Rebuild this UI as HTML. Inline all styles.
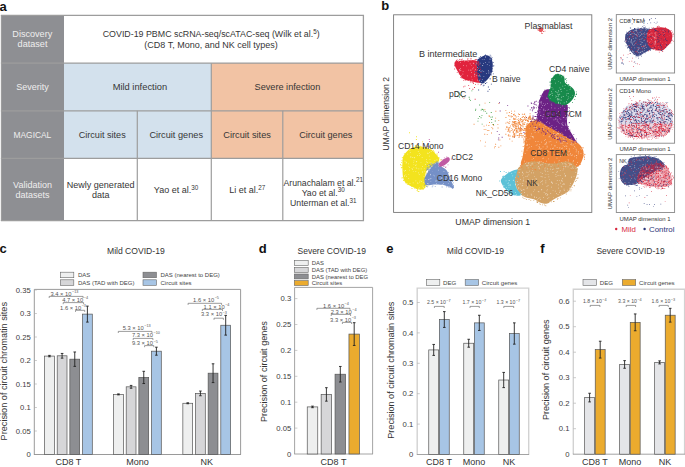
<!DOCTYPE html>
<html><head><meta charset="utf-8"><style>
html,body{margin:0;padding:0;background:#fff;width:685px;height:467px;overflow:hidden}
svg{display:block}
text{font-family:"Liberation Sans",sans-serif}
</style></head><body>
<svg width="685" height="467" viewBox="0 0 685 467">
<rect width="685" height="467" fill="#fff"/>
<text x="-0.6" y="10.7" font-size="13" fill="#111" font-weight="bold">a</text>
<text x="381.3" y="10.3" font-size="13" fill="#111" font-weight="bold">b</text>
<text x="-0.4" y="253" font-size="13" fill="#111" font-weight="bold">c</text>
<text x="258.7" y="252.6" font-size="13" fill="#111" font-weight="bold">d</text>
<text x="386.3" y="253.1" font-size="13" fill="#111" font-weight="bold">e</text>
<text x="540.3" y="253" font-size="13" fill="#111" font-weight="bold">f</text>
<rect x="1" y="15" width="63" height="206" fill="#8e8f93"/>
<rect x="64" y="63" width="147" height="48" fill="#d3e1ed"/>
<rect x="211" y="63" width="153" height="48" fill="#f2c3a4"/>
<rect x="64" y="111" width="147" height="47" fill="#d3e1ed"/>
<rect x="211" y="111" width="153" height="47" fill="#f2c3a4"/>
<line x1="0.9" y1="15.3" x2="364" y2="15.3" stroke="#9d9d9d" stroke-width="1.3"/>
<line x1="0.9" y1="63.2" x2="364" y2="63.2" stroke="#9d9d9d" stroke-width="1.3"/>
<line x1="0.9" y1="110.8" x2="364" y2="110.8" stroke="#9d9d9d" stroke-width="1.3"/>
<line x1="0.9" y1="158.3" x2="364" y2="158.3" stroke="#9d9d9d" stroke-width="1.3"/>
<line x1="0.9" y1="220.6" x2="364" y2="220.6" stroke="#9d9d9d" stroke-width="1.3"/>
<line x1="1.4" y1="15" x2="1.4" y2="221" stroke="#9d9d9d" stroke-width="1.1"/>
<line x1="363.4" y1="15" x2="363.4" y2="221" stroke="#9d9d9d" stroke-width="1.3"/>
<line x1="137.3" y1="110.8" x2="137.3" y2="221" stroke="#9d9d9d" stroke-width="1.2"/>
<line x1="211.3" y1="63.2" x2="211.3" y2="221" stroke="#9d9d9d" stroke-width="1.2"/>
<line x1="282.8" y1="110.8" x2="282.8" y2="221" stroke="#9d9d9d" stroke-width="1.2"/>
<text x="32.3" y="37.1" font-size="9.1" text-anchor="middle" fill="#eeeeee">Discovery</text>
<text x="32.5" y="46.9" font-size="9.1" text-anchor="middle" fill="#eeeeee">dataset</text>
<text x="32.5" y="90.1" font-size="9" text-anchor="middle" fill="#eeeeee">Severity</text>
<text x="32.4" y="137.8" font-size="9" text-anchor="middle" fill="#eeeeee" textLength="37.8" lengthAdjust="spacingAndGlyphs">MAGICAL</text>
<text x="32.5" y="187.6" font-size="9" text-anchor="middle" fill="#eeeeee">Validation</text>
<text x="32.5" y="197.7" font-size="9" text-anchor="middle" fill="#eeeeee">datasets</text>
<text x="211.2" y="37.3" font-size="8.85" text-anchor="middle" fill="#363636">COVID-19 PBMC scRNA-seq/scATAC-seq (Wilk et al.<tspan dy="-3.4" font-size="6.3">5</tspan><tspan dy="3.4">)</tspan></text>
<text x="211" y="47.6" font-size="9" text-anchor="middle" fill="#363636">(CD8 T, Mono, and NK cell types)</text>
<text x="139.9" y="90.1" font-size="9.2" text-anchor="middle" fill="#363636" textLength="54.4" lengthAdjust="spacingAndGlyphs">Mild infection</text>
<text x="287.4" y="90.1" font-size="9.2" text-anchor="middle" fill="#363636" textLength="65.7" lengthAdjust="spacingAndGlyphs">Severe infection</text>
<text x="102.2" y="137.8" font-size="9.1" text-anchor="middle" fill="#363636" textLength="47" lengthAdjust="spacingAndGlyphs">Circuit sites</text>
<text x="176.2" y="137.8" font-size="9.1" text-anchor="middle" fill="#363636" textLength="53.6" lengthAdjust="spacingAndGlyphs">Circuit genes</text>
<text x="247.1" y="137.8" font-size="9.1" text-anchor="middle" fill="#363636" textLength="47.6" lengthAdjust="spacingAndGlyphs">Circuit sites</text>
<text x="325.8" y="137.8" font-size="9.1" text-anchor="middle" fill="#363636" textLength="53.2" lengthAdjust="spacingAndGlyphs">Circuit genes</text>
<text x="100.6" y="187.6" font-size="9" text-anchor="middle" fill="#363636" textLength="67.8" lengthAdjust="spacingAndGlyphs">Newly generated</text>
<text x="100.7" y="197.7" font-size="9" text-anchor="middle" fill="#363636">data</text>
<text x="176" y="193" font-size="9" text-anchor="middle" fill="#363636">Yao et al.<tspan dy="-3.4" font-size="6.3">30</tspan></text>
<text x="247.2" y="193" font-size="9" text-anchor="middle" fill="#363636">Li et al.<tspan dy="-3.4" font-size="6.3">27</tspan></text>
<text x="323.2" y="185.6" font-size="8.7" text-anchor="middle" fill="#363636">Arunachalam et al.<tspan dy="-3.4" font-size="6.3">21</tspan></text>
<text x="323.2" y="195.5" font-size="8.7" text-anchor="middle" fill="#363636">Yao et al.<tspan dy="-3.4" font-size="6.3">30</tspan></text>
<text x="323.3" y="205.9" font-size="8.7" text-anchor="middle" fill="#363636">Unterman et al.<tspan dy="-3.4" font-size="6.3">31</tspan></text>
<path d="M517.8 116.2h0.9v0.9h-0.9zM523.7 114.0h0.9v0.9h-0.9zM521.6 122.2h0.9v0.9h-0.9zM513.0 126.2h0.9v0.9h-0.9zM512.7 124.1h0.9v0.9h-0.9zM513.3 114.5h0.9v0.9h-0.9zM519.6 135.2h0.9v0.9h-0.9zM514.2 118.3h0.9v0.9h-0.9zM523.3 138.5h0.9v0.9h-0.9zM522.4 123.1h0.9v0.9h-0.9zM529.6 113.3h0.9v0.9h-0.9zM527.5 120.1h0.9v0.9h-0.9zM514.6 115.3h0.9v0.9h-0.9zM517.6 134.9h0.9v0.9h-0.9zM515.3 128.3h0.9v0.9h-0.9zM523.5 122.4h0.9v0.9h-0.9zM521.9 113.8h0.9v0.9h-0.9zM513.1 117.8h0.9v0.9h-0.9zM524.2 124.0h0.9v0.9h-0.9zM517.7 128.4h0.9v0.9h-0.9zM520.2 120.4h0.9v0.9h-0.9zM526.3 131.6h0.9v0.9h-0.9zM516.4 128.1h0.9v0.9h-0.9zM521.5 136.5h0.9v0.9h-0.9zM525.1 120.1h0.9v0.9h-0.9zM529.6 115.3h0.9v0.9h-0.9zM519.5 133.2h0.9v0.9h-0.9zM514.7 125.7h0.9v0.9h-0.9zM512.7 130.7h0.9v0.9h-0.9zM525.8 128.0h0.9v0.9h-0.9zM527.8 120.8h0.9v0.9h-0.9zM524.5 128.6h0.9v0.9h-0.9zM522.4 124.8h0.9v0.9h-0.9zM527.1 138.5h0.9v0.9h-0.9zM520.5 130.6h0.9v0.9h-0.9zM513.1 131.6h0.9v0.9h-0.9zM523.6 139.8h0.9v0.9h-0.9zM526.8 120.0h0.9v0.9h-0.9zM518.9 130.7h0.9v0.9h-0.9zM512.4 124.9h0.9v0.9h-0.9zM515.0 115.3h0.9v0.9h-0.9zM513.1 133.5h0.9v0.9h-0.9zM514.3 118.9h0.9v0.9h-0.9zM519.0 136.4h0.9v0.9h-0.9zM513.5 124.6h0.9v0.9h-0.9zM521.9 136.7h0.9v0.9h-0.9zM526.7 136.2h0.9v0.9h-0.9zM517.0 123.6h0.9v0.9h-0.9zM518.5 136.8h0.9v0.9h-0.9zM529.2 116.2h0.9v0.9h-0.9zM515.2 118.5h0.9v0.9h-0.9zM516.2 125.6h0.9v0.9h-0.9zM522.6 119.4h0.9v0.9h-0.9zM512.1 123.7h0.9v0.9h-0.9zM518.6 127.9h0.9v0.9h-0.9zM529.2 131.3h0.9v0.9h-0.9zM521.3 129.3h0.9v0.9h-0.9zM524.2 113.5h0.9v0.9h-0.9zM528.2 133.8h0.9v0.9h-0.9zM527.7 134.3h0.9v0.9h-0.9zM519.1 123.2h0.9v0.9h-0.9zM513.9 129.8h0.9v0.9h-0.9zM513.1 113.9h0.9v0.9h-0.9zM515.8 116.5h0.9v0.9h-0.9zM518.1 113.5h0.9v0.9h-0.9zM512.0 116.2h0.9v0.9h-0.9zM513.8 122.2h0.9v0.9h-0.9zM512.5 136.5h0.9v0.9h-0.9zM523.1 116.2h0.9v0.9h-0.9zM516.5 121.7h0.9v0.9h-0.9z" fill="#f0863a"/>
<path d="M511.2 113.1h0.9v0.9h-0.9zM519.4 134.8h0.9v0.9h-0.9zM512.9 122.1h0.9v0.9h-0.9zM506.5 112.6h0.9v0.9h-0.9zM510.8 116.6h0.9v0.9h-0.9zM519.1 114.0h0.9v0.9h-0.9zM505.4 133.8h0.9v0.9h-0.9zM514.0 113.7h0.9v0.9h-0.9zM514.2 110.7h0.9v0.9h-0.9zM514.0 134.5h0.9v0.9h-0.9zM519.7 127.4h0.9v0.9h-0.9zM509.4 119.2h0.9v0.9h-0.9zM507.8 129.3h0.9v0.9h-0.9zM514.1 129.5h0.9v0.9h-0.9zM510.6 115.6h0.9v0.9h-0.9zM518.8 134.6h0.9v0.9h-0.9zM519.5 130.2h0.9v0.9h-0.9zM518.9 128.5h0.9v0.9h-0.9zM508.9 122.9h0.9v0.9h-0.9zM511.0 110.7h0.9v0.9h-0.9zM505.5 117.0h0.9v0.9h-0.9zM509.4 127.3h0.9v0.9h-0.9zM521.3 121.2h0.9v0.9h-0.9zM520.9 134.7h0.9v0.9h-0.9zM521.2 119.1h0.9v0.9h-0.9zM508.7 115.7h0.9v0.9h-0.9zM508.3 115.1h0.9v0.9h-0.9zM515.6 132.5h0.9v0.9h-0.9zM519.3 122.0h0.9v0.9h-0.9zM516.1 130.0h0.9v0.9h-0.9zM506.4 126.5h0.9v0.9h-0.9zM520.5 129.6h0.9v0.9h-0.9zM517.8 122.0h0.9v0.9h-0.9zM508.0 129.7h0.9v0.9h-0.9zM510.7 130.0h0.9v0.9h-0.9z" fill="#f0863a"/>
<path d="M514.0 121.0h0.9v0.9h-0.9zM494.0 147.4h0.9v0.9h-0.9zM505.4 110.2h0.9v0.9h-0.9zM484.4 109.3h0.9v0.9h-0.9zM511.7 140.7h0.9v0.9h-0.9zM485.1 141.7h0.9v0.9h-0.9zM514.3 133.5h0.9v0.9h-0.9zM492.3 128.3h0.9v0.9h-0.9zM484.6 102.7h0.9v0.9h-0.9zM514.0 133.2h0.9v0.9h-0.9zM498.4 146.8h0.9v0.9h-0.9zM495.2 143.8h0.9v0.9h-0.9zM508.9 112.1h0.9v0.9h-0.9zM488.8 116.1h0.9v0.9h-0.9zM488.4 130.1h0.9v0.9h-0.9zM489.1 122.1h0.9v0.9h-0.9zM484.6 145.7h0.9v0.9h-0.9zM492.4 124.0h0.9v0.9h-0.9zM500.4 145.4h0.9v0.9h-0.9zM494.7 146.1h0.9v0.9h-0.9zM497.6 127.5h0.9v0.9h-0.9zM498.3 102.9h0.9v0.9h-0.9zM495.4 110.8h0.9v0.9h-0.9zM480.1 140.4h0.9v0.9h-0.9zM486.0 124.7h0.9v0.9h-0.9zM505.4 128.7h0.9v0.9h-0.9zM491.4 126.9h0.9v0.9h-0.9zM499.4 139.6h0.9v0.9h-0.9zM483.7 128.9h0.9v0.9h-0.9zM488.7 115.3h0.9v0.9h-0.9z" fill="#f0863a"/>
<path d="M493.2 125.2h0.9v0.9h-0.9zM486.9 130.2h0.9v0.9h-0.9zM497.4 123.9h0.9v0.9h-0.9zM488.4 125.1h0.9v0.9h-0.9zM485.4 128.9h0.9v0.9h-0.9zM483.6 125.7h0.9v0.9h-0.9zM484.3 133.8h0.9v0.9h-0.9zM491.0 132.5h0.9v0.9h-0.9zM498.3 120.2h0.9v0.9h-0.9zM486.8 133.9h0.9v0.9h-0.9zM495.2 117.7h0.9v0.9h-0.9zM473.6 123.8h0.9v0.9h-0.9z" fill="#f0863a"/>
<path d="M479.2 104.5h0.9v0.9h-0.9zM479.2 116.1h0.9v0.9h-0.9zM491.3 122.2h0.9v0.9h-0.9zM480.6 117.3h0.9v0.9h-0.9zM489.2 101.9h0.9v0.9h-0.9zM493.0 124.1h0.9v0.9h-0.9zM481.7 123.7h0.9v0.9h-0.9zM484.8 111.2h0.9v0.9h-0.9zM494.8 120.5h0.9v0.9h-0.9zM480.7 109.7h0.9v0.9h-0.9z" fill="#3f9f45"/>
<path d="M468.7 96.8h0.9v0.9h-0.9zM464.5 96.4h0.9v0.9h-0.9zM471.4 90.4h0.9v0.9h-0.9zM469.2 98.8h0.9v0.9h-0.9zM462.2 96.6h0.9v0.9h-0.9zM470.1 100.2h0.9v0.9h-0.9z" fill="#3f9f45"/>
<path d="M497.9 139.4h0.9v0.9h-0.9zM530.5 138.9h0.9v0.9h-0.9zM499.7 110.6h0.9v0.9h-0.9zM496.8 131.2h0.9v0.9h-0.9zM507.2 105.2h0.9v0.9h-0.9zM514.0 136.5h0.9v0.9h-0.9zM531.9 110.3h0.9v0.9h-0.9zM501.7 136.8h0.9v0.9h-0.9zM520.7 128.0h0.9v0.9h-0.9zM499.0 102.3h0.9v0.9h-0.9zM526.0 117.0h0.9v0.9h-0.9zM498.3 137.5h0.9v0.9h-0.9zM523.5 132.1h0.9v0.9h-0.9zM498.8 134.2h0.9v0.9h-0.9z" fill="#6c2285"/>
<path d="M463.5 97.7h0.9v0.9h-0.9zM472.4 88.8h0.9v0.9h-0.9zM474.7 98.8h0.9v0.9h-0.9zM468.2 85.2h0.9v0.9h-0.9zM474.1 87.1h0.9v0.9h-0.9zM464.5 85.7h0.9v0.9h-0.9zM463.2 86.4h0.9v0.9h-0.9zM469.2 88.2h0.9v0.9h-0.9z" fill="#e1233d"/>
<path d="M487.9 86.6h0.9v0.9h-0.9zM483.5 84.8h0.9v0.9h-0.9zM480.9 82.3h0.9v0.9h-0.9zM479.3 82.2h0.9v0.9h-0.9zM487.5 90.8h0.9v0.9h-0.9zM478.2 89.6h0.9v0.9h-0.9zM490.9 83.7h0.9v0.9h-0.9zM488.9 88.9h0.9v0.9h-0.9z" fill="#27397f"/>
<path d="M417.9 145.0h0.9v0.9h-0.9zM415.9 139.1h0.9v0.9h-0.9zM421.8 147.7h0.9v0.9h-0.9zM414.9 145.0h0.9v0.9h-0.9zM422.1 141.4h0.9v0.9h-0.9zM416.1 136.3h0.9v0.9h-0.9zM409.1 132.3h0.9v0.9h-0.9zM409.4 143.3h0.9v0.9h-0.9z" fill="#f3e31e"/>
<path d="M428.8 139.1h0.9v0.9h-0.9zM426.3 156.0h0.9v0.9h-0.9zM438.1 151.8h0.9v0.9h-0.9zM429.2 141.1h0.9v0.9h-0.9zM429.4 146.5h0.9v0.9h-0.9zM427.4 146.1h0.9v0.9h-0.9z" fill="#c05aa2"/>
<path d="M503.2 175.7h0.9v0.9h-0.9zM511.7 172.4h0.9v0.9h-0.9zM502.9 175.7h0.9v0.9h-0.9zM503.7 170.9h0.9v0.9h-0.9zM500.0 171.1h0.9v0.9h-0.9zM505.7 172.0h0.9v0.9h-0.9z" fill="#5cc1d7"/>
<path d="M538.6,28.6C538.9,27.9 540.2,27.6 541.0,27.6C541.8,27.6 543.2,28.2 543.4,28.8C543.6,29.4 542.9,31.0 542.3,31.5C541.6,32.0 540.1,32.3 539.5,31.8C538.9,31.3 538.4,29.3 538.6,28.6Z" fill="#e8555a"/>
<path d="M538.2 29.7h0.8v0.8h-0.8zM537.2 28.8h0.8v0.8h-0.8zM539.2 27.4h0.8v0.8h-0.8zM543.3 31.1h0.8v0.8h-0.8zM543.1 30.9h0.8v0.8h-0.8zM544.6 30.8h0.8v0.8h-0.8zM537.7 29.9h0.8v0.8h-0.8zM541.0 32.6h0.8v0.8h-0.8zM541.8 33.1h0.8v0.8h-0.8z" fill="#e8555a"/>
<path d="M454.6,62.7C454.9,61.8 454.8,61.5 456.8,61.1C458.8,60.7 463.1,60.5 466.4,60.4C469.7,60.3 474.3,59.9 476.5,60.8C478.7,61.7 478.8,63.6 479.5,66.0C480.2,68.4 480.2,72.3 480.5,75.0C480.8,77.7 482.3,81.3 481.0,82.4C479.7,83.5 475.3,82.2 472.9,81.8C470.5,81.4 468.2,80.8 466.4,80.2C464.6,79.6 463.2,78.9 462.1,78.0C461.0,77.1 461.1,76.9 460.0,75.0C458.9,73.1 456.1,68.5 455.2,66.4C454.3,64.4 454.3,63.6 454.6,62.7Z" fill="#e1233d"/>
<path d="M459.5 59.0h0.8v0.8h-0.8zM467.5 58.3h0.8v0.8h-0.8zM472.7 59.9h0.8v0.8h-0.8zM454.7 65.2h0.8v0.8h-0.8zM475.2 84.0h0.8v0.8h-0.8zM472.2 60.2h0.8v0.8h-0.8zM469.9 58.5h0.8v0.8h-0.8zM454.3 65.3h0.8v0.8h-0.8zM479.9 63.5h0.8v0.8h-0.8zM477.7 83.8h0.8v0.8h-0.8zM458.9 73.6h0.8v0.8h-0.8zM456.8 72.0h0.8v0.8h-0.8zM467.4 58.9h0.8v0.8h-0.8zM478.2 61.4h0.8v0.8h-0.8zM480.9 77.0h0.8v0.8h-0.8zM480.2 65.9h0.8v0.8h-0.8zM460.9 59.5h0.8v0.8h-0.8zM471.8 82.3h0.8v0.8h-0.8zM481.4 72.7h0.8v0.8h-0.8zM474.6 59.5h0.8v0.8h-0.8zM461.2 59.5h0.8v0.8h-0.8zM461.6 77.7h0.8v0.8h-0.8zM480.3 84.5h0.8v0.8h-0.8zM458.3 60.6h0.8v0.8h-0.8zM462.9 60.6h0.8v0.8h-0.8zM469.9 81.6h0.8v0.8h-0.8zM454.3 65.5h0.8v0.8h-0.8zM479.0 63.9h0.8v0.8h-0.8zM481.8 80.6h0.8v0.8h-0.8zM481.4 77.3h0.8v0.8h-0.8zM455.9 60.1h0.8v0.8h-0.8zM470.9 58.5h0.8v0.8h-0.8zM481.9 75.2h0.8v0.8h-0.8zM482.0 76.8h0.8v0.8h-0.8zM461.9 58.8h0.8v0.8h-0.8zM473.0 82.6h0.8v0.8h-0.8zM459.4 59.1h0.8v0.8h-0.8zM472.9 83.2h0.8v0.8h-0.8zM456.8 59.6h0.8v0.8h-0.8zM454.3 68.6h0.8v0.8h-0.8zM481.1 66.9h0.8v0.8h-0.8zM475.4 59.0h0.8v0.8h-0.8zM463.4 79.9h0.8v0.8h-0.8zM465.1 79.6h0.8v0.8h-0.8zM476.0 59.3h0.8v0.8h-0.8zM480.7 65.0h0.8v0.8h-0.8zM481.9 74.5h0.8v0.8h-0.8zM460.5 77.1h0.8v0.8h-0.8zM480.6 74.9h0.8v0.8h-0.8z" fill="#e1233d"/>
<path d="M479.3,58.2C480.5,57.4 482.8,55.6 484.6,55.4C486.4,55.2 488.7,55.7 490.0,56.8C491.3,57.9 492.1,60.0 492.5,62.1C492.9,64.2 492.9,67.4 492.6,69.6C492.3,71.8 491.5,73.7 490.5,75.5C489.5,77.3 487.8,79.2 486.5,80.5C485.2,81.8 483.9,83.6 482.5,83.5C481.1,83.4 479.2,81.9 478.3,80.0C477.4,78.1 477.5,74.3 477.3,72.0C477.1,69.7 477.1,68.4 477.1,66.4C477.1,64.4 477.1,61.4 477.5,60.0C477.9,58.6 478.1,59.0 479.3,58.2Z" fill="#27397f"/>
<path d="M490.5 55.8h0.8v0.8h-0.8zM475.6 71.2h0.8v0.8h-0.8zM480.2 55.9h0.8v0.8h-0.8zM476.8 69.4h0.8v0.8h-0.8zM482.8 85.5h0.8v0.8h-0.8zM491.0 74.4h0.8v0.8h-0.8zM475.7 62.7h0.8v0.8h-0.8zM477.3 59.4h0.8v0.8h-0.8zM493.4 65.3h0.8v0.8h-0.8zM475.1 63.8h0.8v0.8h-0.8zM487.6 56.2h0.8v0.8h-0.8zM481.0 84.2h0.8v0.8h-0.8zM475.2 71.1h0.8v0.8h-0.8zM476.7 73.4h0.8v0.8h-0.8zM485.3 83.3h0.8v0.8h-0.8zM477.1 69.1h0.8v0.8h-0.8zM478.8 57.3h0.8v0.8h-0.8zM484.5 54.9h0.8v0.8h-0.8zM493.3 65.8h0.8v0.8h-0.8zM492.9 73.4h0.8v0.8h-0.8zM491.3 58.4h0.8v0.8h-0.8zM491.4 59.1h0.8v0.8h-0.8zM477.3 61.2h0.8v0.8h-0.8zM475.7 71.5h0.8v0.8h-0.8zM491.6 57.0h0.8v0.8h-0.8zM475.4 73.3h0.8v0.8h-0.8zM490.1 78.5h0.8v0.8h-0.8zM476.7 67.6h0.8v0.8h-0.8zM485.1 54.5h0.8v0.8h-0.8zM487.6 55.9h0.8v0.8h-0.8zM489.5 78.5h0.8v0.8h-0.8zM485.1 55.0h0.8v0.8h-0.8zM476.2 64.6h0.8v0.8h-0.8zM492.7 62.1h0.8v0.8h-0.8zM491.1 57.9h0.8v0.8h-0.8zM484.9 83.1h0.8v0.8h-0.8zM477.2 70.4h0.8v0.8h-0.8zM492.3 71.2h0.8v0.8h-0.8zM486.4 81.9h0.8v0.8h-0.8zM489.7 54.8h0.8v0.8h-0.8z" fill="#27397f"/>
<path d="M546.7,89.6C548.3,89.0 550.5,89.1 552.0,90.2C553.5,91.3 553.5,93.6 556.0,96.0C558.5,98.4 564.9,101.8 566.8,104.5C568.7,107.2 567.6,109.6 567.6,112.4C567.6,115.2 566.9,118.8 567.0,121.4C567.1,124.0 567.2,125.2 568.5,128.0C569.8,130.8 573.1,135.8 574.5,138.5C575.9,141.2 578.4,142.9 577.0,144.0C575.6,145.1 570.5,146.2 566.0,145.0C561.5,143.8 554.3,139.5 550.0,137.0C545.7,134.5 542.2,132.5 540.0,130.0C537.8,127.5 536.9,124.7 536.5,122.0C536.1,119.3 537.2,116.2 537.5,114.0C537.8,111.8 538.2,110.7 538.5,108.5C538.8,106.3 538.9,103.2 539.5,100.8C540.1,98.3 541.0,95.7 542.2,93.8C543.4,91.9 545.1,90.2 546.7,89.6Z" fill="#6c2285"/>
<path d="M557.3 141.0h0.8v0.8h-0.8zM560.8 99.6h0.8v0.8h-0.8zM573.4 134.2h0.8v0.8h-0.8zM536.3 119.2h0.8v0.8h-0.8zM534.9 120.3h0.8v0.8h-0.8zM567.8 115.2h0.8v0.8h-0.8zM567.6 114.5h0.8v0.8h-0.8zM544.7 89.7h0.8v0.8h-0.8zM566.3 103.3h0.8v0.8h-0.8zM567.8 106.9h0.8v0.8h-0.8zM564.2 145.9h0.8v0.8h-0.8zM539.1 99.7h0.8v0.8h-0.8zM535.7 112.1h0.8v0.8h-0.8zM568.5 145.9h0.8v0.8h-0.8zM549.9 137.1h0.8v0.8h-0.8zM568.1 126.0h0.8v0.8h-0.8zM569.0 122.0h0.8v0.8h-0.8zM557.7 97.0h0.8v0.8h-0.8zM539.1 99.7h0.8v0.8h-0.8zM551.7 89.4h0.8v0.8h-0.8zM569.2 110.6h0.8v0.8h-0.8zM536.0 119.9h0.8v0.8h-0.8zM576.0 138.5h0.8v0.8h-0.8zM544.8 133.8h0.8v0.8h-0.8zM554.0 140.2h0.8v0.8h-0.8zM535.6 123.9h0.8v0.8h-0.8zM560.9 143.5h0.8v0.8h-0.8zM563.2 100.1h0.8v0.8h-0.8zM553.5 140.5h0.8v0.8h-0.8zM569.3 112.9h0.8v0.8h-0.8zM571.1 145.0h0.8v0.8h-0.8zM545.7 89.7h0.8v0.8h-0.8zM563.1 144.6h0.8v0.8h-0.8zM544.3 89.7h0.8v0.8h-0.8zM569.6 129.8h0.8v0.8h-0.8zM544.3 90.8h0.8v0.8h-0.8zM538.7 104.7h0.8v0.8h-0.8zM566.9 105.0h0.8v0.8h-0.8zM542.4 133.5h0.8v0.8h-0.8zM543.4 91.3h0.8v0.8h-0.8zM539.7 130.1h0.8v0.8h-0.8zM535.1 123.2h0.8v0.8h-0.8zM569.2 107.6h0.8v0.8h-0.8zM536.7 118.3h0.8v0.8h-0.8zM577.3 143.3h0.8v0.8h-0.8zM558.6 142.7h0.8v0.8h-0.8zM558.3 96.3h0.8v0.8h-0.8zM539.9 95.3h0.8v0.8h-0.8zM537.1 110.6h0.8v0.8h-0.8zM539.2 100.9h0.8v0.8h-0.8zM568.4 115.8h0.8v0.8h-0.8zM569.5 129.8h0.8v0.8h-0.8zM568.7 122.4h0.8v0.8h-0.8zM571.1 146.6h0.8v0.8h-0.8z" fill="#6c2285"/>
<path d="M551.2,79.6C552.0,77.5 553.8,76.2 555.0,75.2C556.2,74.2 556.8,73.5 558.3,73.8C559.8,74.1 562.9,75.3 564.0,76.8C565.1,78.2 564.2,81.1 565.0,82.5C565.8,83.9 567.2,84.0 568.5,85.0C569.8,86.0 571.9,87.1 573.0,88.5C574.1,89.9 575.1,91.6 575.0,93.5C574.9,95.4 573.8,97.9 572.3,99.8C570.8,101.7 568.3,104.1 566.0,104.8C563.7,105.5 561.0,104.8 558.3,104.0C555.6,103.2 551.7,101.5 550.0,100.0C548.3,98.5 547.9,97.1 548.0,95.0C548.1,92.9 550.0,90.1 550.5,87.5C551.0,84.9 550.5,81.6 551.2,79.6Z" fill="#178a4b"/>
<path d="M551.7 78.1h0.8v0.8h-0.8zM568.3 84.1h0.8v0.8h-0.8zM564.1 105.6h0.8v0.8h-0.8zM555.7 103.4h0.8v0.8h-0.8zM564.7 105.6h0.8v0.8h-0.8zM561.4 105.2h0.8v0.8h-0.8zM563.4 75.7h0.8v0.8h-0.8zM549.7 100.8h0.8v0.8h-0.8zM557.6 105.5h0.8v0.8h-0.8zM564.9 79.1h0.8v0.8h-0.8zM551.4 101.7h0.8v0.8h-0.8zM555.1 73.9h0.8v0.8h-0.8zM574.3 99.0h0.8v0.8h-0.8zM550.0 81.4h0.8v0.8h-0.8zM546.7 95.7h0.8v0.8h-0.8zM565.5 78.0h0.8v0.8h-0.8zM550.9 78.6h0.8v0.8h-0.8zM565.8 78.0h0.8v0.8h-0.8zM549.3 99.6h0.8v0.8h-0.8zM554.6 74.8h0.8v0.8h-0.8zM575.0 96.1h0.8v0.8h-0.8zM547.5 96.3h0.8v0.8h-0.8zM576.2 94.2h0.8v0.8h-0.8zM555.2 102.9h0.8v0.8h-0.8zM549.4 81.8h0.8v0.8h-0.8zM548.4 97.0h0.8v0.8h-0.8zM549.2 88.9h0.8v0.8h-0.8zM574.7 94.4h0.8v0.8h-0.8zM566.3 80.5h0.8v0.8h-0.8zM553.5 76.5h0.8v0.8h-0.8zM550.7 82.2h0.8v0.8h-0.8zM559.7 105.9h0.8v0.8h-0.8zM572.2 101.9h0.8v0.8h-0.8zM576.0 93.5h0.8v0.8h-0.8zM566.1 82.2h0.8v0.8h-0.8zM553.8 75.0h0.8v0.8h-0.8zM549.3 89.8h0.8v0.8h-0.8zM575.9 91.5h0.8v0.8h-0.8zM549.7 84.8h0.8v0.8h-0.8z" fill="#178a4b"/>
<path d="M526.0,127.0C526.8,124.8 528.3,123.6 530.0,122.5C531.7,121.4 533.5,120.1 536.0,120.5C538.5,120.9 541.7,123.2 545.0,125.0C548.3,126.8 552.5,129.0 556.0,131.0C559.5,133.0 563.0,135.3 566.0,137.0C569.0,138.7 571.7,139.7 574.0,141.0C576.3,142.3 578.4,143.2 580.0,145.0C581.6,146.8 583.2,149.5 583.6,152.0C584.0,154.5 583.3,157.5 582.2,160.0C581.1,162.5 580.7,165.2 577.0,167.0C573.3,168.8 566.2,170.8 560.0,171.0C553.8,171.2 546.3,168.8 540.0,168.0C533.7,167.2 524.9,168.0 522.0,166.0C519.1,164.0 522.4,159.3 522.8,156.0C523.2,152.7 524.0,149.3 524.5,146.0C525.0,142.7 525.2,139.2 525.5,136.0C525.8,132.8 525.2,129.2 526.0,127.0Z" fill="#f0863a"/>
<path d="M568.5 170.3h0.8v0.8h-0.8zM551.2 127.0h0.8v0.8h-0.8zM575.6 139.9h0.8v0.8h-0.8zM524.8 136.4h0.8v0.8h-0.8zM534.1 167.4h0.8v0.8h-0.8zM554.7 170.8h0.8v0.8h-0.8zM523.8 136.8h0.8v0.8h-0.8zM530.9 121.9h0.8v0.8h-0.8zM525.1 128.1h0.8v0.8h-0.8zM558.1 172.5h0.8v0.8h-0.8zM524.3 144.9h0.8v0.8h-0.8zM536.8 119.6h0.8v0.8h-0.8zM568.2 171.2h0.8v0.8h-0.8zM523.6 141.0h0.8v0.8h-0.8zM522.8 152.7h0.8v0.8h-0.8zM559.3 132.4h0.8v0.8h-0.8zM570.9 138.2h0.8v0.8h-0.8zM523.8 145.9h0.8v0.8h-0.8zM523.8 149.3h0.8v0.8h-0.8zM542.2 168.7h0.8v0.8h-0.8zM522.7 146.2h0.8v0.8h-0.8zM565.6 136.1h0.8v0.8h-0.8zM558.9 172.9h0.8v0.8h-0.8zM564.5 136.0h0.8v0.8h-0.8zM537.3 168.2h0.8v0.8h-0.8zM583.9 157.4h0.8v0.8h-0.8zM541.5 122.2h0.8v0.8h-0.8zM521.5 150.8h0.8v0.8h-0.8zM575.2 141.1h0.8v0.8h-0.8zM533.1 121.2h0.8v0.8h-0.8zM549.8 169.6h0.8v0.8h-0.8zM523.6 142.1h0.8v0.8h-0.8zM536.8 168.0h0.8v0.8h-0.8zM581.8 147.2h0.8v0.8h-0.8zM525.6 126.0h0.8v0.8h-0.8zM559.3 171.4h0.8v0.8h-0.8zM542.5 170.1h0.8v0.8h-0.8zM539.5 122.1h0.8v0.8h-0.8zM558.0 131.1h0.8v0.8h-0.8zM583.5 155.2h0.8v0.8h-0.8zM574.5 169.7h0.8v0.8h-0.8zM583.2 147.5h0.8v0.8h-0.8zM525.6 133.2h0.8v0.8h-0.8zM544.7 169.3h0.8v0.8h-0.8zM549.1 170.9h0.8v0.8h-0.8zM562.1 133.7h0.8v0.8h-0.8zM584.4 153.9h0.8v0.8h-0.8zM540.4 121.2h0.8v0.8h-0.8zM533.3 168.2h0.8v0.8h-0.8zM543.7 168.7h0.8v0.8h-0.8zM561.4 132.6h0.8v0.8h-0.8zM543.1 169.9h0.8v0.8h-0.8zM562.4 171.4h0.8v0.8h-0.8zM524.2 141.0h0.8v0.8h-0.8zM564.4 171.8h0.8v0.8h-0.8zM523.7 142.8h0.8v0.8h-0.8zM521.8 161.0h0.8v0.8h-0.8zM584.0 159.3h0.8v0.8h-0.8zM523.9 129.6h0.8v0.8h-0.8zM520.7 165.7h0.8v0.8h-0.8zM526.5 124.2h0.8v0.8h-0.8zM528.3 124.3h0.8v0.8h-0.8zM566.7 170.2h0.8v0.8h-0.8zM524.5 136.1h0.8v0.8h-0.8zM529.2 168.2h0.8v0.8h-0.8zM535.7 169.4h0.8v0.8h-0.8zM584.0 157.3h0.8v0.8h-0.8zM519.9 165.0h0.8v0.8h-0.8zM543.1 123.5h0.8v0.8h-0.8zM559.8 172.0h0.8v0.8h-0.8zM580.0 164.3h0.8v0.8h-0.8zM584.5 154.2h0.8v0.8h-0.8zM565.3 171.4h0.8v0.8h-0.8zM525.7 130.0h0.8v0.8h-0.8zM538.8 168.1h0.8v0.8h-0.8zM521.6 156.2h0.8v0.8h-0.8zM583.4 153.6h0.8v0.8h-0.8zM539.9 121.8h0.8v0.8h-0.8zM583.8 156.0h0.8v0.8h-0.8zM520.8 165.1h0.8v0.8h-0.8zM535.3 119.9h0.8v0.8h-0.8zM526.0 124.8h0.8v0.8h-0.8zM551.4 127.8h0.8v0.8h-0.8z" fill="#f0863a"/>
<path d="M520.3,166.3C522.7,164.8 526.2,162.0 531.5,161.5C536.8,161.0 546.0,163.5 552.0,163.5C558.0,163.5 563.6,161.1 567.5,161.5C571.4,161.9 573.8,164.4 575.5,166.0C577.2,167.6 577.6,168.7 577.5,171.0C577.4,173.3 576.2,177.0 575.0,180.0C573.8,183.0 571.6,186.8 570.0,189.0C568.4,191.2 568.0,191.8 565.3,193.5C562.6,195.2 557.0,197.5 554.0,199.2C551.0,200.9 549.5,203.0 547.3,203.6C545.0,204.2 542.8,203.4 540.5,202.7C538.2,202.0 536.4,200.1 533.8,199.2C531.2,198.2 527.4,198.4 524.8,197.0C522.2,195.6 519.7,194.2 518.0,191.0C516.3,187.8 514.8,181.4 514.6,178.0C514.4,174.6 516.0,172.8 516.9,170.8C517.8,168.9 517.9,167.9 520.3,166.3Z" fill="#d3a265"/>
<path d="M517.2 169.6h0.8v0.8h-0.8zM514.0 181.2h0.8v0.8h-0.8zM522.2 196.7h0.8v0.8h-0.8zM573.1 163.1h0.8v0.8h-0.8zM545.5 205.4h0.8v0.8h-0.8zM513.9 176.7h0.8v0.8h-0.8zM523.3 197.8h0.8v0.8h-0.8zM572.1 161.9h0.8v0.8h-0.8zM556.9 199.3h0.8v0.8h-0.8zM575.8 178.3h0.8v0.8h-0.8zM577.2 168.3h0.8v0.8h-0.8zM576.9 168.9h0.8v0.8h-0.8zM539.9 204.0h0.8v0.8h-0.8zM577.7 166.2h0.8v0.8h-0.8zM523.3 163.5h0.8v0.8h-0.8zM553.8 201.2h0.8v0.8h-0.8zM516.1 187.6h0.8v0.8h-0.8zM531.1 161.0h0.8v0.8h-0.8zM515.8 172.7h0.8v0.8h-0.8zM544.2 203.8h0.8v0.8h-0.8zM553.2 201.1h0.8v0.8h-0.8zM534.4 160.5h0.8v0.8h-0.8zM533.4 199.9h0.8v0.8h-0.8zM514.7 186.8h0.8v0.8h-0.8zM573.7 184.9h0.8v0.8h-0.8zM536.7 202.3h0.8v0.8h-0.8zM553.0 201.3h0.8v0.8h-0.8zM575.9 179.9h0.8v0.8h-0.8zM518.1 168.3h0.8v0.8h-0.8zM542.0 204.5h0.8v0.8h-0.8zM523.8 162.7h0.8v0.8h-0.8zM514.2 174.3h0.8v0.8h-0.8zM536.9 200.9h0.8v0.8h-0.8zM536.8 201.8h0.8v0.8h-0.8zM516.3 171.6h0.8v0.8h-0.8zM558.2 160.9h0.8v0.8h-0.8zM571.7 187.2h0.8v0.8h-0.8zM574.0 185.4h0.8v0.8h-0.8zM539.9 203.9h0.8v0.8h-0.8zM551.0 201.5h0.8v0.8h-0.8zM537.3 202.1h0.8v0.8h-0.8zM539.4 203.5h0.8v0.8h-0.8zM558.1 161.8h0.8v0.8h-0.8zM514.6 181.5h0.8v0.8h-0.8zM575.0 181.3h0.8v0.8h-0.8zM577.5 177.2h0.8v0.8h-0.8zM570.5 190.4h0.8v0.8h-0.8zM568.7 190.4h0.8v0.8h-0.8zM577.6 173.9h0.8v0.8h-0.8zM524.5 198.0h0.8v0.8h-0.8zM530.4 200.2h0.8v0.8h-0.8zM577.4 178.1h0.8v0.8h-0.8zM559.3 162.4h0.8v0.8h-0.8zM519.8 194.0h0.8v0.8h-0.8zM536.6 201.2h0.8v0.8h-0.8zM557.5 198.1h0.8v0.8h-0.8zM524.6 162.5h0.8v0.8h-0.8zM525.8 163.4h0.8v0.8h-0.8zM518.6 193.1h0.8v0.8h-0.8zM570.6 188.9h0.8v0.8h-0.8zM560.1 197.4h0.8v0.8h-0.8zM536.7 160.8h0.8v0.8h-0.8zM565.9 193.6h0.8v0.8h-0.8zM513.8 177.4h0.8v0.8h-0.8zM525.9 199.1h0.8v0.8h-0.8zM534.1 161.0h0.8v0.8h-0.8zM536.8 201.3h0.8v0.8h-0.8zM528.6 199.1h0.8v0.8h-0.8zM537.8 161.1h0.8v0.8h-0.8zM544.6 205.2h0.8v0.8h-0.8z" fill="#d3a265"/>
<path d="M501.0,179.8C501.6,177.8 505.0,175.6 506.8,174.1C508.6,172.6 510.2,171.8 512.0,171.0C513.8,170.2 516.8,169.0 517.5,169.5C518.2,170.0 516.9,172.2 516.5,174.0C516.1,175.8 515.0,177.7 515.0,180.0C515.0,182.3 515.5,185.5 516.5,188.0C517.5,190.5 521.4,193.8 521.0,195.0C520.6,196.2 516.0,195.7 514.0,195.3C512.0,194.9 510.8,194.0 509.0,192.4C507.2,190.8 504.3,188.1 503.0,186.0C501.7,183.9 500.4,181.8 501.0,179.8Z" fill="#5cc1d7"/>
<path d="M515.9 182.9h0.8v0.8h-0.8zM507.9 193.3h0.8v0.8h-0.8zM508.6 172.2h0.8v0.8h-0.8zM503.0 186.8h0.8v0.8h-0.8zM502.1 176.6h0.8v0.8h-0.8zM516.6 175.4h0.8v0.8h-0.8zM502.7 176.1h0.8v0.8h-0.8zM520.9 193.6h0.8v0.8h-0.8zM518.2 175.8h0.8v0.8h-0.8zM516.7 174.2h0.8v0.8h-0.8zM515.9 181.3h0.8v0.8h-0.8zM505.7 189.8h0.8v0.8h-0.8zM515.8 179.3h0.8v0.8h-0.8zM507.5 173.6h0.8v0.8h-0.8zM507.4 191.8h0.8v0.8h-0.8zM517.8 176.1h0.8v0.8h-0.8zM519.9 191.0h0.8v0.8h-0.8zM508.3 171.8h0.8v0.8h-0.8zM517.5 184.5h0.8v0.8h-0.8zM517.9 176.6h0.8v0.8h-0.8zM516.5 174.2h0.8v0.8h-0.8zM499.3 180.6h0.8v0.8h-0.8z" fill="#5cc1d7"/>
<path d="M403.8,155.3C405.1,152.8 407.8,150.3 410.3,148.8C412.8,147.3 415.3,146.1 418.6,146.2C421.9,146.3 427.5,147.9 430.3,149.2C433.1,150.5 434.0,151.9 435.5,153.8C437.0,155.7 439.9,158.3 439.2,160.5C438.4,162.7 433.3,164.9 431.0,167.0C428.7,169.1 426.5,169.8 425.6,173.0C424.7,176.2 426.8,183.7 425.8,186.5C424.8,189.3 421.9,189.6 419.7,189.7C417.5,189.8 414.8,188.0 412.7,187.0C410.6,186.0 408.4,185.4 406.8,183.8C405.2,182.2 403.9,181.1 403.2,177.7C402.5,174.3 402.3,167.3 402.4,163.6C402.5,159.9 402.5,157.8 403.8,155.3Z" fill="#f3e31e"/>
<path d="M440.1 159.4h0.8v0.8h-0.8zM426.8 183.9h0.8v0.8h-0.8zM401.9 165.5h0.8v0.8h-0.8zM436.2 153.7h0.8v0.8h-0.8zM417.3 145.6h0.8v0.8h-0.8zM429.5 147.0h0.8v0.8h-0.8zM401.0 162.0h0.8v0.8h-0.8zM409.4 147.9h0.8v0.8h-0.8zM403.9 153.3h0.8v0.8h-0.8zM430.8 148.7h0.8v0.8h-0.8zM427.0 176.9h0.8v0.8h-0.8zM432.6 166.8h0.8v0.8h-0.8zM407.2 151.5h0.8v0.8h-0.8zM426.1 172.7h0.8v0.8h-0.8zM438.4 161.8h0.8v0.8h-0.8zM426.8 175.7h0.8v0.8h-0.8zM400.9 167.0h0.8v0.8h-0.8zM417.2 189.7h0.8v0.8h-0.8zM425.8 147.1h0.8v0.8h-0.8zM411.6 188.1h0.8v0.8h-0.8zM426.9 182.3h0.8v0.8h-0.8zM406.9 184.3h0.8v0.8h-0.8zM405.2 182.4h0.8v0.8h-0.8zM426.3 183.9h0.8v0.8h-0.8zM440.8 159.7h0.8v0.8h-0.8zM436.8 155.6h0.8v0.8h-0.8zM405.2 181.3h0.8v0.8h-0.8zM432.0 166.4h0.8v0.8h-0.8zM433.8 151.6h0.8v0.8h-0.8zM403.2 180.1h0.8v0.8h-0.8zM403.6 155.8h0.8v0.8h-0.8zM427.5 185.8h0.8v0.8h-0.8zM401.5 160.3h0.8v0.8h-0.8zM436.1 163.8h0.8v0.8h-0.8zM430.3 148.3h0.8v0.8h-0.8zM418.6 190.9h0.8v0.8h-0.8zM436.8 155.3h0.8v0.8h-0.8zM427.7 177.0h0.8v0.8h-0.8zM402.0 167.3h0.8v0.8h-0.8zM433.8 165.7h0.8v0.8h-0.8zM400.7 165.3h0.8v0.8h-0.8zM420.4 145.8h0.8v0.8h-0.8zM411.3 186.3h0.8v0.8h-0.8zM438.9 157.6h0.8v0.8h-0.8zM408.9 149.6h0.8v0.8h-0.8zM414.4 188.0h0.8v0.8h-0.8zM401.6 177.6h0.8v0.8h-0.8zM417.7 191.1h0.8v0.8h-0.8zM401.9 157.1h0.8v0.8h-0.8zM425.9 185.2h0.8v0.8h-0.8zM431.7 166.5h0.8v0.8h-0.8zM416.6 189.9h0.8v0.8h-0.8zM436.9 153.6h0.8v0.8h-0.8zM422.7 189.1h0.8v0.8h-0.8zM401.2 167.4h0.8v0.8h-0.8zM438.2 157.0h0.8v0.8h-0.8zM417.2 189.3h0.8v0.8h-0.8zM400.3 164.1h0.8v0.8h-0.8zM401.9 177.3h0.8v0.8h-0.8zM433.2 150.3h0.8v0.8h-0.8zM436.3 164.1h0.8v0.8h-0.8z" fill="#f3e31e"/>
<path d="M436.8,162.5C438.7,162.0 439.8,165.2 441.5,166.5C443.2,167.8 445.3,168.5 446.8,170.6C448.3,172.7 449.1,176.1 450.3,178.9C451.5,181.7 454.4,186.3 454.0,187.6C453.6,188.8 450.0,186.9 448.0,186.4C446.0,185.9 444.5,185.1 442.1,184.8C439.8,184.5 436.6,184.4 433.9,184.4C431.2,184.4 427.5,186.1 426.0,185.0C424.5,183.9 424.1,180.6 424.8,178.0C425.5,175.4 428.0,172.0 430.0,169.4C432.0,166.8 434.9,163.0 436.8,162.5Z" fill="#7590c7"/>
<path d="M441.7 186.6h0.8v0.8h-0.8zM436.7 161.3h0.8v0.8h-0.8zM452.1 180.9h0.8v0.8h-0.8zM428.2 170.5h0.8v0.8h-0.8zM452.0 188.0h0.8v0.8h-0.8zM430.7 167.8h0.8v0.8h-0.8zM424.6 181.9h0.8v0.8h-0.8zM424.9 184.2h0.8v0.8h-0.8zM452.6 187.8h0.8v0.8h-0.8zM441.4 165.3h0.8v0.8h-0.8zM448.1 172.2h0.8v0.8h-0.8zM448.6 186.9h0.8v0.8h-0.8zM427.1 186.4h0.8v0.8h-0.8zM446.1 186.4h0.8v0.8h-0.8zM450.2 177.6h0.8v0.8h-0.8zM424.1 178.4h0.8v0.8h-0.8zM424.0 184.8h0.8v0.8h-0.8zM432.5 185.4h0.8v0.8h-0.8zM451.6 187.5h0.8v0.8h-0.8zM425.9 186.1h0.8v0.8h-0.8zM433.3 164.6h0.8v0.8h-0.8zM431.8 186.4h0.8v0.8h-0.8zM449.8 175.9h0.8v0.8h-0.8zM452.9 182.4h0.8v0.8h-0.8zM434.8 186.3h0.8v0.8h-0.8zM425.2 177.1h0.8v0.8h-0.8zM437.6 162.6h0.8v0.8h-0.8zM453.1 185.0h0.8v0.8h-0.8zM426.8 172.8h0.8v0.8h-0.8z" fill="#7590c7"/>
<path d="M438.6,164.1C439.4,162.8 442.8,159.9 444.5,158.8C446.2,157.7 447.8,157.0 448.6,157.3C449.5,157.6 450.3,159.3 449.6,160.6C448.9,161.9 446.1,164.3 444.5,165.3C442.9,166.3 440.7,167.0 439.7,166.8C438.7,166.6 437.8,165.4 438.6,164.1Z" fill="#c05aa2"/>
<path d="M443.5 159.1h0.8v0.8h-0.8zM445.9 157.7h0.8v0.8h-0.8zM443.9 157.5h0.8v0.8h-0.8zM441.6 167.7h0.8v0.8h-0.8zM441.5 159.3h0.8v0.8h-0.8zM445.5 166.6h0.8v0.8h-0.8zM451.0 158.8h0.8v0.8h-0.8zM450.9 158.6h0.8v0.8h-0.8zM446.4 156.4h0.8v0.8h-0.8zM443.5 166.1h0.8v0.8h-0.8zM447.6 164.4h0.8v0.8h-0.8zM445.0 166.9h0.8v0.8h-0.8z" fill="#c05aa2"/>
<path d="M469.8 63.6h0.7v0.7h-0.7zM478.9 70.1h0.7v0.7h-0.7zM459.5 69.5h0.7v0.7h-0.7zM470.2 69.8h0.7v0.7h-0.7zM473.4 63.3h0.7v0.7h-0.7zM477.3 79.8h0.7v0.7h-0.7zM474.5 73.6h0.7v0.7h-0.7zM464.2 60.8h0.7v0.7h-0.7zM466.0 65.6h0.7v0.7h-0.7zM460.1 62.1h0.7v0.7h-0.7zM472.9 62.8h0.7v0.7h-0.7zM460.5 70.1h0.7v0.7h-0.7zM462.9 70.9h0.7v0.7h-0.7zM458.9 69.3h0.7v0.7h-0.7zM473.1 67.5h0.7v0.7h-0.7zM475.6 64.5h0.7v0.7h-0.7zM472.3 68.5h0.7v0.7h-0.7zM474.6 70.8h0.7v0.7h-0.7zM467.1 75.5h0.7v0.7h-0.7zM470.7 69.7h0.7v0.7h-0.7zM459.5 70.6h0.7v0.7h-0.7zM469.1 80.1h0.7v0.7h-0.7zM463.3 65.3h0.7v0.7h-0.7zM471.2 76.6h0.7v0.7h-0.7zM461.1 75.6h0.7v0.7h-0.7zM479.4 70.0h0.7v0.7h-0.7zM471.8 79.5h0.7v0.7h-0.7zM460.0 68.0h0.7v0.7h-0.7zM462.7 70.9h0.7v0.7h-0.7zM474.3 74.3h0.7v0.7h-0.7zM479.1 75.1h0.7v0.7h-0.7zM471.3 64.9h0.7v0.7h-0.7zM477.2 69.5h0.7v0.7h-0.7zM471.0 72.3h0.7v0.7h-0.7zM467.8 61.2h0.7v0.7h-0.7zM462.5 73.8h0.7v0.7h-0.7zM476.0 62.8h0.7v0.7h-0.7zM475.2 69.0h0.7v0.7h-0.7zM468.4 69.7h0.7v0.7h-0.7zM478.9 80.6h0.7v0.7h-0.7zM474.0 75.8h0.7v0.7h-0.7zM458.3 61.2h0.7v0.7h-0.7zM476.5 75.2h0.7v0.7h-0.7z" fill="#ffffff" fill-opacity="0.7"/>
<path d="M486.9 64.2h0.7v0.7h-0.7zM481.2 81.3h0.7v0.7h-0.7zM485.3 56.0h0.7v0.7h-0.7zM482.4 65.2h0.7v0.7h-0.7zM477.2 67.1h0.7v0.7h-0.7zM478.8 75.8h0.7v0.7h-0.7zM489.4 58.8h0.7v0.7h-0.7zM485.1 62.0h0.7v0.7h-0.7zM490.4 58.8h0.7v0.7h-0.7zM492.3 67.1h0.7v0.7h-0.7zM488.7 61.8h0.7v0.7h-0.7zM482.1 65.0h0.7v0.7h-0.7zM483.8 59.0h0.7v0.7h-0.7zM492.6 69.3h0.7v0.7h-0.7zM488.0 70.0h0.7v0.7h-0.7zM489.0 64.9h0.7v0.7h-0.7zM483.5 76.3h0.7v0.7h-0.7zM481.9 79.2h0.7v0.7h-0.7zM488.5 71.5h0.7v0.7h-0.7zM483.4 71.3h0.7v0.7h-0.7zM481.9 58.9h0.7v0.7h-0.7zM477.9 75.5h0.7v0.7h-0.7zM488.4 72.7h0.7v0.7h-0.7zM480.3 75.7h0.7v0.7h-0.7zM489.9 72.8h0.7v0.7h-0.7zM480.6 71.3h0.7v0.7h-0.7zM483.2 63.0h0.7v0.7h-0.7zM479.4 79.7h0.7v0.7h-0.7zM479.8 62.8h0.7v0.7h-0.7zM485.0 57.1h0.7v0.7h-0.7zM481.8 70.6h0.7v0.7h-0.7zM484.6 81.0h0.7v0.7h-0.7zM486.0 73.3h0.7v0.7h-0.7z" fill="#ffffff" fill-opacity="0.7"/>
<path d="M560.2 133.1h0.7v0.7h-0.7zM541.6 95.8h0.7v0.7h-0.7zM545.5 126.1h0.7v0.7h-0.7zM547.0 110.8h0.7v0.7h-0.7zM547.0 103.1h0.7v0.7h-0.7zM549.6 112.6h0.7v0.7h-0.7zM551.1 107.6h0.7v0.7h-0.7zM566.4 116.9h0.7v0.7h-0.7zM556.8 120.7h0.7v0.7h-0.7zM541.3 107.3h0.7v0.7h-0.7zM561.5 126.9h0.7v0.7h-0.7zM562.0 124.0h0.7v0.7h-0.7zM551.8 93.4h0.7v0.7h-0.7zM571.5 139.7h0.7v0.7h-0.7zM543.5 108.8h0.7v0.7h-0.7zM569.7 135.7h0.7v0.7h-0.7zM547.0 121.4h0.7v0.7h-0.7zM563.8 102.5h0.7v0.7h-0.7zM552.0 95.2h0.7v0.7h-0.7zM542.0 105.0h0.7v0.7h-0.7zM562.4 124.9h0.7v0.7h-0.7zM557.7 136.9h0.7v0.7h-0.7zM558.2 99.0h0.7v0.7h-0.7zM546.3 97.7h0.7v0.7h-0.7zM539.6 109.0h0.7v0.7h-0.7zM540.1 101.7h0.7v0.7h-0.7zM560.5 118.9h0.7v0.7h-0.7zM559.4 122.9h0.7v0.7h-0.7zM546.2 122.2h0.7v0.7h-0.7zM558.0 108.4h0.7v0.7h-0.7zM553.6 119.5h0.7v0.7h-0.7zM570.5 144.3h0.7v0.7h-0.7zM565.5 125.0h0.7v0.7h-0.7zM575.4 143.4h0.7v0.7h-0.7zM559.5 113.9h0.7v0.7h-0.7zM545.9 132.9h0.7v0.7h-0.7zM545.5 128.9h0.7v0.7h-0.7zM556.3 113.3h0.7v0.7h-0.7zM565.1 129.8h0.7v0.7h-0.7zM563.6 117.1h0.7v0.7h-0.7zM551.0 91.0h0.7v0.7h-0.7zM555.5 119.1h0.7v0.7h-0.7zM549.0 95.4h0.7v0.7h-0.7zM543.5 114.2h0.7v0.7h-0.7zM550.6 117.3h0.7v0.7h-0.7zM558.0 111.1h0.7v0.7h-0.7zM547.9 109.1h0.7v0.7h-0.7zM549.4 130.7h0.7v0.7h-0.7zM556.5 133.7h0.7v0.7h-0.7zM544.8 110.0h0.7v0.7h-0.7zM552.7 110.9h0.7v0.7h-0.7zM562.5 122.5h0.7v0.7h-0.7zM558.1 121.8h0.7v0.7h-0.7zM551.6 125.2h0.7v0.7h-0.7zM551.4 104.9h0.7v0.7h-0.7zM547.5 116.6h0.7v0.7h-0.7zM539.5 112.6h0.7v0.7h-0.7zM568.2 129.1h0.7v0.7h-0.7zM546.9 97.9h0.7v0.7h-0.7zM559.7 137.4h0.7v0.7h-0.7zM542.6 116.2h0.7v0.7h-0.7zM555.5 95.6h0.7v0.7h-0.7zM565.8 117.8h0.7v0.7h-0.7zM561.2 137.3h0.7v0.7h-0.7zM543.2 102.9h0.7v0.7h-0.7zM542.0 118.0h0.7v0.7h-0.7zM560.1 115.1h0.7v0.7h-0.7zM555.5 97.4h0.7v0.7h-0.7zM565.6 119.4h0.7v0.7h-0.7zM549.0 135.8h0.7v0.7h-0.7zM574.5 140.7h0.7v0.7h-0.7zM552.2 114.5h0.7v0.7h-0.7zM546.9 130.8h0.7v0.7h-0.7zM540.7 114.9h0.7v0.7h-0.7zM557.5 133.1h0.7v0.7h-0.7zM544.0 105.1h0.7v0.7h-0.7zM566.9 113.1h0.7v0.7h-0.7zM539.6 111.1h0.7v0.7h-0.7zM557.4 119.5h0.7v0.7h-0.7zM540.5 121.7h0.7v0.7h-0.7zM554.6 107.7h0.7v0.7h-0.7zM567.4 115.8h0.7v0.7h-0.7zM541.3 101.6h0.7v0.7h-0.7zM541.8 123.4h0.7v0.7h-0.7zM561.8 137.1h0.7v0.7h-0.7zM561.1 123.6h0.7v0.7h-0.7zM541.1 101.9h0.7v0.7h-0.7zM540.8 103.5h0.7v0.7h-0.7zM560.0 102.8h0.7v0.7h-0.7zM559.4 137.0h0.7v0.7h-0.7zM551.4 113.7h0.7v0.7h-0.7zM560.1 107.4h0.7v0.7h-0.7zM555.7 129.1h0.7v0.7h-0.7zM537.3 117.7h0.7v0.7h-0.7zM549.2 122.8h0.7v0.7h-0.7zM562.0 105.6h0.7v0.7h-0.7zM546.9 117.9h0.7v0.7h-0.7zM558.1 102.0h0.7v0.7h-0.7zM550.9 103.7h0.7v0.7h-0.7zM570.4 139.6h0.7v0.7h-0.7zM539.4 124.6h0.7v0.7h-0.7zM564.0 108.3h0.7v0.7h-0.7zM554.4 127.4h0.7v0.7h-0.7zM543.0 109.8h0.7v0.7h-0.7zM545.3 103.8h0.7v0.7h-0.7zM559.7 140.8h0.7v0.7h-0.7zM559.0 140.5h0.7v0.7h-0.7zM555.5 118.3h0.7v0.7h-0.7zM547.9 115.3h0.7v0.7h-0.7zM544.5 124.1h0.7v0.7h-0.7zM557.1 116.0h0.7v0.7h-0.7zM564.9 122.7h0.7v0.7h-0.7zM562.9 117.3h0.7v0.7h-0.7zM537.9 114.6h0.7v0.7h-0.7zM543.2 128.7h0.7v0.7h-0.7zM562.6 134.3h0.7v0.7h-0.7zM540.0 115.3h0.7v0.7h-0.7zM539.1 120.5h0.7v0.7h-0.7zM559.8 99.7h0.7v0.7h-0.7zM549.9 97.9h0.7v0.7h-0.7zM563.1 125.4h0.7v0.7h-0.7zM549.7 126.3h0.7v0.7h-0.7zM565.2 115.1h0.7v0.7h-0.7zM547.7 112.9h0.7v0.7h-0.7zM542.9 116.4h0.7v0.7h-0.7zM547.3 132.4h0.7v0.7h-0.7zM548.9 94.4h0.7v0.7h-0.7zM556.2 137.8h0.7v0.7h-0.7zM565.0 124.0h0.7v0.7h-0.7zM556.0 126.4h0.7v0.7h-0.7zM557.6 99.7h0.7v0.7h-0.7zM559.5 117.9h0.7v0.7h-0.7z" fill="#ffffff" fill-opacity="0.7"/>
<path d="M565.7 145.4h0.7v0.7h-0.7zM545.7 148.4h0.7v0.7h-0.7zM577.9 153.5h0.7v0.7h-0.7zM531.7 163.7h0.7v0.7h-0.7zM539.4 161.1h0.7v0.7h-0.7zM562.1 151.1h0.7v0.7h-0.7zM573.4 147.9h0.7v0.7h-0.7zM568.6 162.9h0.7v0.7h-0.7zM537.7 141.2h0.7v0.7h-0.7zM575.9 155.1h0.7v0.7h-0.7zM552.2 148.0h0.7v0.7h-0.7zM544.0 155.2h0.7v0.7h-0.7zM554.9 145.6h0.7v0.7h-0.7zM537.9 131.8h0.7v0.7h-0.7zM563.3 137.7h0.7v0.7h-0.7zM552.9 168.8h0.7v0.7h-0.7zM569.0 138.9h0.7v0.7h-0.7zM539.0 167.5h0.7v0.7h-0.7zM525.2 163.2h0.7v0.7h-0.7zM580.6 153.1h0.7v0.7h-0.7zM546.0 142.0h0.7v0.7h-0.7zM559.5 147.1h0.7v0.7h-0.7zM575.5 165.7h0.7v0.7h-0.7zM570.0 153.2h0.7v0.7h-0.7zM526.7 165.9h0.7v0.7h-0.7zM544.4 144.4h0.7v0.7h-0.7zM556.6 157.8h0.7v0.7h-0.7zM531.7 158.9h0.7v0.7h-0.7zM570.7 168.3h0.7v0.7h-0.7zM566.1 148.2h0.7v0.7h-0.7zM572.8 161.2h0.7v0.7h-0.7zM560.8 154.3h0.7v0.7h-0.7zM533.0 137.6h0.7v0.7h-0.7zM542.0 163.9h0.7v0.7h-0.7zM525.8 137.1h0.7v0.7h-0.7zM544.1 140.1h0.7v0.7h-0.7zM574.7 147.4h0.7v0.7h-0.7zM560.8 142.7h0.7v0.7h-0.7zM550.3 168.8h0.7v0.7h-0.7zM539.1 147.0h0.7v0.7h-0.7zM531.0 146.1h0.7v0.7h-0.7zM571.2 142.3h0.7v0.7h-0.7zM530.5 165.2h0.7v0.7h-0.7zM524.8 153.3h0.7v0.7h-0.7zM531.0 133.6h0.7v0.7h-0.7zM548.0 158.6h0.7v0.7h-0.7zM548.8 141.6h0.7v0.7h-0.7zM546.8 146.8h0.7v0.7h-0.7zM533.7 127.2h0.7v0.7h-0.7zM555.8 138.2h0.7v0.7h-0.7zM563.7 138.9h0.7v0.7h-0.7zM548.7 136.5h0.7v0.7h-0.7zM554.9 134.7h0.7v0.7h-0.7zM563.2 141.3h0.7v0.7h-0.7zM550.1 148.6h0.7v0.7h-0.7zM566.3 153.4h0.7v0.7h-0.7zM528.9 127.9h0.7v0.7h-0.7zM533.3 129.8h0.7v0.7h-0.7zM562.8 137.7h0.7v0.7h-0.7zM537.1 129.7h0.7v0.7h-0.7zM530.9 154.9h0.7v0.7h-0.7zM557.6 133.2h0.7v0.7h-0.7zM571.9 154.6h0.7v0.7h-0.7zM548.4 151.2h0.7v0.7h-0.7zM562.4 142.8h0.7v0.7h-0.7zM527.6 138.9h0.7v0.7h-0.7zM569.7 164.1h0.7v0.7h-0.7zM545.0 139.3h0.7v0.7h-0.7zM553.6 133.2h0.7v0.7h-0.7zM534.9 127.0h0.7v0.7h-0.7zM564.3 146.2h0.7v0.7h-0.7zM575.8 151.6h0.7v0.7h-0.7zM560.2 142.5h0.7v0.7h-0.7zM548.2 127.9h0.7v0.7h-0.7zM555.8 134.4h0.7v0.7h-0.7zM529.5 164.5h0.7v0.7h-0.7zM557.4 164.7h0.7v0.7h-0.7zM540.1 149.6h0.7v0.7h-0.7zM539.1 162.5h0.7v0.7h-0.7zM534.9 153.2h0.7v0.7h-0.7zM556.2 136.9h0.7v0.7h-0.7zM526.9 145.1h0.7v0.7h-0.7zM554.2 161.8h0.7v0.7h-0.7zM534.5 129.9h0.7v0.7h-0.7zM540.8 161.0h0.7v0.7h-0.7zM536.3 152.5h0.7v0.7h-0.7zM565.6 145.6h0.7v0.7h-0.7zM528.9 144.4h0.7v0.7h-0.7zM556.3 141.7h0.7v0.7h-0.7zM576.4 149.8h0.7v0.7h-0.7zM543.4 134.9h0.7v0.7h-0.7zM559.2 148.4h0.7v0.7h-0.7zM534.3 122.2h0.7v0.7h-0.7zM562.3 151.4h0.7v0.7h-0.7zM583.1 153.8h0.7v0.7h-0.7zM573.4 144.5h0.7v0.7h-0.7zM535.4 141.0h0.7v0.7h-0.7zM526.6 149.8h0.7v0.7h-0.7zM535.5 155.9h0.7v0.7h-0.7zM532.7 155.3h0.7v0.7h-0.7zM560.0 156.4h0.7v0.7h-0.7zM564.1 140.6h0.7v0.7h-0.7zM577.1 162.2h0.7v0.7h-0.7zM569.0 150.8h0.7v0.7h-0.7zM538.1 166.3h0.7v0.7h-0.7zM542.8 162.0h0.7v0.7h-0.7zM563.8 162.9h0.7v0.7h-0.7zM571.4 143.5h0.7v0.7h-0.7zM546.3 160.7h0.7v0.7h-0.7zM562.3 147.7h0.7v0.7h-0.7zM528.0 163.0h0.7v0.7h-0.7zM527.4 165.0h0.7v0.7h-0.7zM535.9 127.3h0.7v0.7h-0.7zM568.4 154.7h0.7v0.7h-0.7zM547.3 150.6h0.7v0.7h-0.7zM556.1 168.4h0.7v0.7h-0.7zM553.3 147.8h0.7v0.7h-0.7zM550.5 141.3h0.7v0.7h-0.7zM564.6 167.4h0.7v0.7h-0.7zM568.9 147.9h0.7v0.7h-0.7zM543.8 125.4h0.7v0.7h-0.7zM527.7 147.7h0.7v0.7h-0.7zM576.2 164.2h0.7v0.7h-0.7zM533.3 158.3h0.7v0.7h-0.7zM571.7 144.7h0.7v0.7h-0.7zM542.7 146.5h0.7v0.7h-0.7zM566.8 143.2h0.7v0.7h-0.7zM540.6 164.3h0.7v0.7h-0.7zM546.1 141.7h0.7v0.7h-0.7zM535.8 144.9h0.7v0.7h-0.7zM565.5 138.8h0.7v0.7h-0.7zM562.8 145.4h0.7v0.7h-0.7zM539.7 148.1h0.7v0.7h-0.7zM525.9 130.9h0.7v0.7h-0.7zM531.4 163.5h0.7v0.7h-0.7zM538.7 146.3h0.7v0.7h-0.7zM532.7 136.0h0.7v0.7h-0.7zM536.4 150.7h0.7v0.7h-0.7zM528.9 146.8h0.7v0.7h-0.7zM555.8 136.1h0.7v0.7h-0.7zM567.9 151.6h0.7v0.7h-0.7zM578.0 151.2h0.7v0.7h-0.7zM533.3 129.9h0.7v0.7h-0.7zM565.4 161.4h0.7v0.7h-0.7zM525.9 141.6h0.7v0.7h-0.7zM539.4 144.1h0.7v0.7h-0.7zM575.7 148.8h0.7v0.7h-0.7zM567.8 159.1h0.7v0.7h-0.7zM539.1 151.7h0.7v0.7h-0.7zM545.1 144.4h0.7v0.7h-0.7zM554.7 154.2h0.7v0.7h-0.7zM532.4 162.8h0.7v0.7h-0.7zM531.9 136.3h0.7v0.7h-0.7zM544.6 168.6h0.7v0.7h-0.7zM534.4 122.3h0.7v0.7h-0.7zM529.6 138.6h0.7v0.7h-0.7zM527.2 144.3h0.7v0.7h-0.7zM543.3 157.8h0.7v0.7h-0.7zM552.4 169.2h0.7v0.7h-0.7zM556.8 147.1h0.7v0.7h-0.7zM532.5 136.7h0.7v0.7h-0.7zM535.6 130.4h0.7v0.7h-0.7zM559.8 136.9h0.7v0.7h-0.7zM569.3 149.4h0.7v0.7h-0.7zM574.2 146.1h0.7v0.7h-0.7zM564.9 141.0h0.7v0.7h-0.7zM566.4 150.0h0.7v0.7h-0.7zM530.6 135.7h0.7v0.7h-0.7zM560.9 148.0h0.7v0.7h-0.7zM566.0 137.1h0.7v0.7h-0.7zM551.4 144.6h0.7v0.7h-0.7zM553.4 133.6h0.7v0.7h-0.7zM558.3 133.6h0.7v0.7h-0.7zM534.7 132.2h0.7v0.7h-0.7zM576.2 157.6h0.7v0.7h-0.7zM538.6 148.5h0.7v0.7h-0.7zM554.0 145.5h0.7v0.7h-0.7zM578.0 151.9h0.7v0.7h-0.7zM526.5 161.8h0.7v0.7h-0.7zM565.8 163.9h0.7v0.7h-0.7zM571.4 155.2h0.7v0.7h-0.7zM550.7 166.0h0.7v0.7h-0.7zM581.1 149.4h0.7v0.7h-0.7zM567.3 154.4h0.7v0.7h-0.7zM546.7 145.7h0.7v0.7h-0.7zM553.3 131.4h0.7v0.7h-0.7zM538.1 163.2h0.7v0.7h-0.7zM574.1 155.7h0.7v0.7h-0.7zM564.4 146.3h0.7v0.7h-0.7zM557.3 154.2h0.7v0.7h-0.7zM537.7 162.1h0.7v0.7h-0.7zM524.0 160.8h0.7v0.7h-0.7zM571.2 164.3h0.7v0.7h-0.7zM537.8 167.5h0.7v0.7h-0.7zM544.9 143.2h0.7v0.7h-0.7zM580.6 148.0h0.7v0.7h-0.7zM528.5 162.1h0.7v0.7h-0.7zM573.3 160.3h0.7v0.7h-0.7zM557.8 155.4h0.7v0.7h-0.7zM542.9 126.9h0.7v0.7h-0.7zM542.0 157.9h0.7v0.7h-0.7zM536.8 144.5h0.7v0.7h-0.7zM568.2 160.6h0.7v0.7h-0.7zM541.4 147.9h0.7v0.7h-0.7zM583.1 151.7h0.7v0.7h-0.7zM541.1 141.8h0.7v0.7h-0.7zM541.4 153.4h0.7v0.7h-0.7zM576.4 155.3h0.7v0.7h-0.7zM566.5 146.1h0.7v0.7h-0.7zM558.8 160.2h0.7v0.7h-0.7zM569.8 154.5h0.7v0.7h-0.7zM525.9 144.7h0.7v0.7h-0.7zM538.6 151.2h0.7v0.7h-0.7zM546.4 143.5h0.7v0.7h-0.7zM555.1 150.2h0.7v0.7h-0.7zM538.9 129.8h0.7v0.7h-0.7z" fill="#ffffff" fill-opacity="0.7"/>
<path d="M572.4 166.8h0.7v0.7h-0.7zM537.3 199.6h0.7v0.7h-0.7zM518.8 172.0h0.7v0.7h-0.7zM530.6 181.4h0.7v0.7h-0.7zM557.5 168.0h0.7v0.7h-0.7zM522.3 175.4h0.7v0.7h-0.7zM520.3 166.6h0.7v0.7h-0.7zM569.9 163.3h0.7v0.7h-0.7zM555.5 174.1h0.7v0.7h-0.7zM566.2 164.9h0.7v0.7h-0.7zM562.0 163.5h0.7v0.7h-0.7zM520.5 188.7h0.7v0.7h-0.7zM523.8 189.5h0.7v0.7h-0.7zM556.9 171.2h0.7v0.7h-0.7zM544.6 170.4h0.7v0.7h-0.7zM569.4 188.0h0.7v0.7h-0.7zM558.1 187.7h0.7v0.7h-0.7zM563.6 183.2h0.7v0.7h-0.7zM551.7 182.2h0.7v0.7h-0.7zM562.1 183.9h0.7v0.7h-0.7zM532.1 183.2h0.7v0.7h-0.7zM547.4 198.1h0.7v0.7h-0.7zM559.9 170.3h0.7v0.7h-0.7zM546.6 186.1h0.7v0.7h-0.7zM551.0 180.9h0.7v0.7h-0.7zM546.6 190.5h0.7v0.7h-0.7zM570.0 183.2h0.7v0.7h-0.7zM563.9 190.1h0.7v0.7h-0.7zM522.1 172.4h0.7v0.7h-0.7zM534.3 176.4h0.7v0.7h-0.7zM545.5 173.9h0.7v0.7h-0.7zM537.9 191.0h0.7v0.7h-0.7zM572.8 168.2h0.7v0.7h-0.7zM538.2 198.4h0.7v0.7h-0.7zM565.2 175.0h0.7v0.7h-0.7zM523.7 195.4h0.7v0.7h-0.7zM540.7 176.2h0.7v0.7h-0.7zM543.8 192.2h0.7v0.7h-0.7zM562.8 168.9h0.7v0.7h-0.7zM527.2 175.8h0.7v0.7h-0.7zM525.7 181.5h0.7v0.7h-0.7zM522.9 189.0h0.7v0.7h-0.7zM540.5 171.9h0.7v0.7h-0.7zM557.7 175.3h0.7v0.7h-0.7zM533.1 172.6h0.7v0.7h-0.7zM558.4 167.7h0.7v0.7h-0.7zM549.1 163.7h0.7v0.7h-0.7zM532.4 179.3h0.7v0.7h-0.7zM551.8 164.8h0.7v0.7h-0.7zM565.7 193.0h0.7v0.7h-0.7zM525.9 171.7h0.7v0.7h-0.7zM517.1 184.7h0.7v0.7h-0.7zM519.7 169.4h0.7v0.7h-0.7zM564.3 173.5h0.7v0.7h-0.7zM575.7 168.2h0.7v0.7h-0.7zM523.4 177.6h0.7v0.7h-0.7zM565.3 165.7h0.7v0.7h-0.7zM564.2 184.4h0.7v0.7h-0.7zM564.8 175.7h0.7v0.7h-0.7zM560.1 182.8h0.7v0.7h-0.7zM562.6 169.9h0.7v0.7h-0.7zM532.2 170.4h0.7v0.7h-0.7zM524.3 192.0h0.7v0.7h-0.7zM517.0 181.1h0.7v0.7h-0.7zM530.8 193.7h0.7v0.7h-0.7zM559.8 190.3h0.7v0.7h-0.7zM554.9 190.7h0.7v0.7h-0.7zM571.0 176.7h0.7v0.7h-0.7zM547.2 188.9h0.7v0.7h-0.7zM547.0 193.9h0.7v0.7h-0.7zM545.4 162.9h0.7v0.7h-0.7zM549.0 178.9h0.7v0.7h-0.7zM535.7 178.1h0.7v0.7h-0.7zM528.5 174.6h0.7v0.7h-0.7zM543.3 197.1h0.7v0.7h-0.7zM522.5 183.2h0.7v0.7h-0.7zM561.4 194.4h0.7v0.7h-0.7zM539.0 168.6h0.7v0.7h-0.7zM555.7 176.1h0.7v0.7h-0.7zM521.7 185.5h0.7v0.7h-0.7zM540.1 199.0h0.7v0.7h-0.7zM556.3 193.3h0.7v0.7h-0.7zM550.4 193.2h0.7v0.7h-0.7zM551.1 186.7h0.7v0.7h-0.7zM526.5 165.3h0.7v0.7h-0.7zM559.0 192.1h0.7v0.7h-0.7zM556.5 172.2h0.7v0.7h-0.7zM545.2 193.8h0.7v0.7h-0.7zM548.2 164.6h0.7v0.7h-0.7zM541.0 189.6h0.7v0.7h-0.7zM569.2 164.7h0.7v0.7h-0.7zM546.7 195.0h0.7v0.7h-0.7zM573.7 175.9h0.7v0.7h-0.7zM527.7 167.6h0.7v0.7h-0.7zM528.4 179.1h0.7v0.7h-0.7zM549.7 201.6h0.7v0.7h-0.7zM541.4 189.2h0.7v0.7h-0.7zM565.5 166.3h0.7v0.7h-0.7zM533.5 183.6h0.7v0.7h-0.7zM521.5 190.0h0.7v0.7h-0.7zM540.1 165.4h0.7v0.7h-0.7zM544.7 177.2h0.7v0.7h-0.7zM525.9 164.6h0.7v0.7h-0.7zM549.3 201.9h0.7v0.7h-0.7zM563.5 166.2h0.7v0.7h-0.7zM548.5 176.6h0.7v0.7h-0.7zM552.6 172.3h0.7v0.7h-0.7zM542.1 183.7h0.7v0.7h-0.7zM538.4 185.3h0.7v0.7h-0.7zM520.3 179.2h0.7v0.7h-0.7zM546.4 193.2h0.7v0.7h-0.7zM565.7 192.5h0.7v0.7h-0.7zM538.6 191.5h0.7v0.7h-0.7zM527.2 187.5h0.7v0.7h-0.7zM525.6 176.3h0.7v0.7h-0.7zM561.0 162.4h0.7v0.7h-0.7zM569.7 165.4h0.7v0.7h-0.7zM553.3 196.9h0.7v0.7h-0.7zM573.8 180.4h0.7v0.7h-0.7zM568.4 163.0h0.7v0.7h-0.7zM563.7 188.8h0.7v0.7h-0.7zM563.4 167.8h0.7v0.7h-0.7zM519.8 183.5h0.7v0.7h-0.7zM552.7 190.4h0.7v0.7h-0.7zM525.9 185.4h0.7v0.7h-0.7zM575.5 172.2h0.7v0.7h-0.7zM556.9 180.0h0.7v0.7h-0.7zM540.9 181.2h0.7v0.7h-0.7zM532.2 168.8h0.7v0.7h-0.7zM571.2 176.7h0.7v0.7h-0.7zM569.7 185.2h0.7v0.7h-0.7zM559.3 180.4h0.7v0.7h-0.7zM529.9 185.3h0.7v0.7h-0.7zM534.2 196.4h0.7v0.7h-0.7zM535.9 179.2h0.7v0.7h-0.7zM547.7 185.2h0.7v0.7h-0.7zM527.0 194.7h0.7v0.7h-0.7zM545.1 193.6h0.7v0.7h-0.7zM558.3 184.6h0.7v0.7h-0.7zM522.8 180.8h0.7v0.7h-0.7zM518.5 169.1h0.7v0.7h-0.7zM523.1 179.8h0.7v0.7h-0.7zM518.4 187.1h0.7v0.7h-0.7zM529.0 170.7h0.7v0.7h-0.7zM551.2 182.0h0.7v0.7h-0.7zM536.7 183.5h0.7v0.7h-0.7zM536.0 197.1h0.7v0.7h-0.7zM545.5 182.5h0.7v0.7h-0.7zM567.7 166.5h0.7v0.7h-0.7zM545.5 180.6h0.7v0.7h-0.7zM540.1 182.4h0.7v0.7h-0.7zM521.2 193.2h0.7v0.7h-0.7zM547.3 168.6h0.7v0.7h-0.7zM569.8 163.3h0.7v0.7h-0.7zM526.7 181.6h0.7v0.7h-0.7zM531.4 194.8h0.7v0.7h-0.7zM534.1 197.2h0.7v0.7h-0.7zM521.0 189.9h0.7v0.7h-0.7zM565.3 163.6h0.7v0.7h-0.7zM545.0 170.7h0.7v0.7h-0.7zM522.3 171.7h0.7v0.7h-0.7zM560.8 185.7h0.7v0.7h-0.7zM522.8 173.5h0.7v0.7h-0.7zM562.0 181.4h0.7v0.7h-0.7zM527.6 172.2h0.7v0.7h-0.7zM526.6 187.9h0.7v0.7h-0.7zM552.0 183.3h0.7v0.7h-0.7zM563.3 183.8h0.7v0.7h-0.7zM534.4 189.6h0.7v0.7h-0.7zM545.2 167.4h0.7v0.7h-0.7zM561.6 179.7h0.7v0.7h-0.7zM567.4 189.7h0.7v0.7h-0.7zM565.1 175.7h0.7v0.7h-0.7zM561.5 186.6h0.7v0.7h-0.7zM528.6 164.8h0.7v0.7h-0.7zM561.3 180.5h0.7v0.7h-0.7zM522.4 185.0h0.7v0.7h-0.7zM531.3 172.5h0.7v0.7h-0.7zM569.7 187.5h0.7v0.7h-0.7zM542.1 180.5h0.7v0.7h-0.7zM541.8 176.5h0.7v0.7h-0.7zM533.3 191.4h0.7v0.7h-0.7zM557.7 194.2h0.7v0.7h-0.7zM559.8 175.0h0.7v0.7h-0.7zM541.9 173.0h0.7v0.7h-0.7zM538.4 183.8h0.7v0.7h-0.7zM547.8 173.9h0.7v0.7h-0.7zM518.4 188.1h0.7v0.7h-0.7zM559.7 190.8h0.7v0.7h-0.7zM539.5 197.6h0.7v0.7h-0.7zM547.5 171.1h0.7v0.7h-0.7zM570.3 164.4h0.7v0.7h-0.7zM555.8 182.9h0.7v0.7h-0.7zM548.5 196.9h0.7v0.7h-0.7zM562.1 178.0h0.7v0.7h-0.7zM547.5 194.4h0.7v0.7h-0.7zM518.2 184.2h0.7v0.7h-0.7z" fill="#ffffff" fill-opacity="0.7"/>
<path d="M563.3 96.1h0.7v0.7h-0.7zM557.2 92.6h0.7v0.7h-0.7zM567.9 85.6h0.7v0.7h-0.7zM566.4 101.8h0.7v0.7h-0.7zM558.0 90.1h0.7v0.7h-0.7zM561.1 99.8h0.7v0.7h-0.7zM555.3 82.7h0.7v0.7h-0.7zM558.6 94.0h0.7v0.7h-0.7zM561.6 96.4h0.7v0.7h-0.7zM559.1 74.6h0.7v0.7h-0.7zM558.4 91.5h0.7v0.7h-0.7zM563.9 88.0h0.7v0.7h-0.7zM557.1 93.9h0.7v0.7h-0.7zM552.7 88.8h0.7v0.7h-0.7zM555.3 91.3h0.7v0.7h-0.7zM566.6 89.9h0.7v0.7h-0.7zM568.3 93.1h0.7v0.7h-0.7zM550.3 94.2h0.7v0.7h-0.7zM561.1 97.3h0.7v0.7h-0.7zM570.3 87.6h0.7v0.7h-0.7zM560.3 89.2h0.7v0.7h-0.7zM558.1 80.9h0.7v0.7h-0.7zM566.7 93.2h0.7v0.7h-0.7zM555.9 91.7h0.7v0.7h-0.7zM558.1 103.2h0.7v0.7h-0.7zM554.1 79.1h0.7v0.7h-0.7zM560.0 82.6h0.7v0.7h-0.7zM566.2 101.3h0.7v0.7h-0.7zM551.0 83.4h0.7v0.7h-0.7zM551.6 87.2h0.7v0.7h-0.7zM557.8 96.3h0.7v0.7h-0.7zM559.4 93.7h0.7v0.7h-0.7zM551.6 92.7h0.7v0.7h-0.7zM551.8 78.9h0.7v0.7h-0.7zM572.3 95.4h0.7v0.7h-0.7zM567.9 98.4h0.7v0.7h-0.7zM564.8 85.1h0.7v0.7h-0.7zM556.9 99.0h0.7v0.7h-0.7zM559.5 87.5h0.7v0.7h-0.7zM556.4 96.3h0.7v0.7h-0.7zM559.4 98.7h0.7v0.7h-0.7zM567.0 99.4h0.7v0.7h-0.7zM562.4 85.8h0.7v0.7h-0.7zM557.7 98.1h0.7v0.7h-0.7zM566.2 94.7h0.7v0.7h-0.7zM561.2 76.6h0.7v0.7h-0.7zM570.4 97.4h0.7v0.7h-0.7zM560.9 91.2h0.7v0.7h-0.7zM569.7 89.1h0.7v0.7h-0.7zM560.8 88.8h0.7v0.7h-0.7zM567.9 96.6h0.7v0.7h-0.7zM557.0 97.9h0.7v0.7h-0.7zM558.1 94.7h0.7v0.7h-0.7zM558.2 101.7h0.7v0.7h-0.7z" fill="#ffffff" fill-opacity="0.7"/>
<path d="M416.4 161.5h0.7v0.7h-0.7zM418.3 172.5h0.7v0.7h-0.7zM403.6 169.9h0.7v0.7h-0.7zM417.9 151.3h0.7v0.7h-0.7zM428.9 155.7h0.7v0.7h-0.7zM420.8 168.6h0.7v0.7h-0.7zM415.8 167.5h0.7v0.7h-0.7zM419.2 188.9h0.7v0.7h-0.7zM430.8 162.8h0.7v0.7h-0.7zM424.4 170.7h0.7v0.7h-0.7zM429.6 159.3h0.7v0.7h-0.7zM427.3 162.3h0.7v0.7h-0.7zM435.2 163.0h0.7v0.7h-0.7zM415.8 164.5h0.7v0.7h-0.7zM415.9 161.1h0.7v0.7h-0.7zM417.6 183.1h0.7v0.7h-0.7zM426.0 159.2h0.7v0.7h-0.7zM416.5 167.9h0.7v0.7h-0.7zM410.5 157.1h0.7v0.7h-0.7zM418.9 174.1h0.7v0.7h-0.7zM415.5 171.2h0.7v0.7h-0.7zM409.2 169.8h0.7v0.7h-0.7zM414.4 157.6h0.7v0.7h-0.7zM429.6 161.9h0.7v0.7h-0.7zM416.2 147.6h0.7v0.7h-0.7zM423.7 176.0h0.7v0.7h-0.7zM422.6 185.7h0.7v0.7h-0.7zM425.1 163.9h0.7v0.7h-0.7zM425.3 164.1h0.7v0.7h-0.7zM423.5 182.3h0.7v0.7h-0.7zM407.3 182.9h0.7v0.7h-0.7zM413.8 157.1h0.7v0.7h-0.7zM412.3 169.2h0.7v0.7h-0.7zM413.0 162.4h0.7v0.7h-0.7zM426.0 161.6h0.7v0.7h-0.7zM427.1 152.7h0.7v0.7h-0.7zM404.0 171.4h0.7v0.7h-0.7zM429.0 152.0h0.7v0.7h-0.7zM404.2 175.3h0.7v0.7h-0.7zM427.8 153.2h0.7v0.7h-0.7zM417.5 148.6h0.7v0.7h-0.7zM405.6 161.5h0.7v0.7h-0.7zM423.9 168.4h0.7v0.7h-0.7zM426.5 167.8h0.7v0.7h-0.7zM417.0 182.6h0.7v0.7h-0.7zM413.5 163.9h0.7v0.7h-0.7zM415.1 165.0h0.7v0.7h-0.7zM417.2 155.3h0.7v0.7h-0.7zM415.5 180.5h0.7v0.7h-0.7zM409.3 167.0h0.7v0.7h-0.7zM412.9 171.4h0.7v0.7h-0.7zM430.9 151.2h0.7v0.7h-0.7zM420.3 154.4h0.7v0.7h-0.7zM410.5 156.2h0.7v0.7h-0.7zM413.6 160.5h0.7v0.7h-0.7zM431.5 163.3h0.7v0.7h-0.7zM419.2 155.0h0.7v0.7h-0.7zM419.3 187.6h0.7v0.7h-0.7zM405.8 163.4h0.7v0.7h-0.7zM409.6 183.0h0.7v0.7h-0.7zM413.5 167.4h0.7v0.7h-0.7zM404.3 176.2h0.7v0.7h-0.7zM421.3 181.0h0.7v0.7h-0.7zM412.1 157.1h0.7v0.7h-0.7zM424.4 148.3h0.7v0.7h-0.7zM420.6 161.9h0.7v0.7h-0.7zM405.2 170.3h0.7v0.7h-0.7zM430.8 151.3h0.7v0.7h-0.7zM406.0 176.0h0.7v0.7h-0.7zM419.7 180.6h0.7v0.7h-0.7zM434.5 160.2h0.7v0.7h-0.7zM422.1 171.7h0.7v0.7h-0.7zM419.0 181.8h0.7v0.7h-0.7zM411.7 168.2h0.7v0.7h-0.7zM422.4 171.6h0.7v0.7h-0.7zM418.9 153.1h0.7v0.7h-0.7zM425.3 186.0h0.7v0.7h-0.7zM404.5 160.7h0.7v0.7h-0.7zM408.4 173.9h0.7v0.7h-0.7zM407.4 153.8h0.7v0.7h-0.7zM422.3 166.0h0.7v0.7h-0.7zM419.5 146.7h0.7v0.7h-0.7zM421.8 157.2h0.7v0.7h-0.7zM408.0 163.6h0.7v0.7h-0.7zM408.5 166.4h0.7v0.7h-0.7zM408.4 178.2h0.7v0.7h-0.7zM434.6 160.3h0.7v0.7h-0.7zM405.5 174.5h0.7v0.7h-0.7zM430.2 167.2h0.7v0.7h-0.7zM418.5 168.5h0.7v0.7h-0.7zM433.6 162.7h0.7v0.7h-0.7zM409.9 152.3h0.7v0.7h-0.7zM436.6 159.6h0.7v0.7h-0.7zM427.8 165.1h0.7v0.7h-0.7zM406.3 162.1h0.7v0.7h-0.7zM417.9 188.5h0.7v0.7h-0.7zM412.3 148.3h0.7v0.7h-0.7zM412.8 182.5h0.7v0.7h-0.7zM418.2 189.0h0.7v0.7h-0.7zM422.9 187.3h0.7v0.7h-0.7zM409.5 150.3h0.7v0.7h-0.7zM404.9 169.9h0.7v0.7h-0.7zM429.4 164.8h0.7v0.7h-0.7z" fill="#ffffff" fill-opacity="0.7"/>
<path d="M430.1 173.2h0.7v0.7h-0.7zM442.5 184.1h0.7v0.7h-0.7zM425.5 179.2h0.7v0.7h-0.7zM444.9 178.7h0.7v0.7h-0.7zM448.3 182.9h0.7v0.7h-0.7zM443.1 183.1h0.7v0.7h-0.7zM429.7 178.6h0.7v0.7h-0.7zM432.9 174.7h0.7v0.7h-0.7zM445.9 176.8h0.7v0.7h-0.7zM452.4 184.7h0.7v0.7h-0.7zM446.7 176.2h0.7v0.7h-0.7zM443.6 171.2h0.7v0.7h-0.7zM436.1 183.2h0.7v0.7h-0.7zM449.3 181.3h0.7v0.7h-0.7zM437.8 176.0h0.7v0.7h-0.7zM428.2 179.0h0.7v0.7h-0.7zM430.5 181.4h0.7v0.7h-0.7zM448.2 174.4h0.7v0.7h-0.7zM448.9 186.1h0.7v0.7h-0.7zM435.7 180.2h0.7v0.7h-0.7zM435.5 166.7h0.7v0.7h-0.7zM438.1 166.0h0.7v0.7h-0.7zM438.7 165.0h0.7v0.7h-0.7zM443.2 178.7h0.7v0.7h-0.7zM430.6 178.2h0.7v0.7h-0.7zM440.8 178.0h0.7v0.7h-0.7zM430.2 174.5h0.7v0.7h-0.7zM449.2 178.0h0.7v0.7h-0.7zM431.9 170.9h0.7v0.7h-0.7zM438.8 175.4h0.7v0.7h-0.7zM427.9 183.6h0.7v0.7h-0.7zM438.1 169.8h0.7v0.7h-0.7zM438.0 163.8h0.7v0.7h-0.7zM427.2 183.3h0.7v0.7h-0.7zM434.1 175.6h0.7v0.7h-0.7zM446.8 175.2h0.7v0.7h-0.7zM428.7 179.4h0.7v0.7h-0.7zM441.0 177.5h0.7v0.7h-0.7zM435.6 181.0h0.7v0.7h-0.7zM447.6 179.9h0.7v0.7h-0.7zM430.1 174.1h0.7v0.7h-0.7z" fill="#ffffff" fill-opacity="0.7"/>
<path d="M508.0 185.4h0.7v0.7h-0.7zM514.8 181.4h0.7v0.7h-0.7zM511.6 191.2h0.7v0.7h-0.7zM502.9 184.9h0.7v0.7h-0.7zM507.3 189.0h0.7v0.7h-0.7zM515.0 184.0h0.7v0.7h-0.7zM515.9 194.0h0.7v0.7h-0.7zM505.9 187.3h0.7v0.7h-0.7zM510.2 184.6h0.7v0.7h-0.7zM511.4 173.2h0.7v0.7h-0.7zM504.4 177.0h0.7v0.7h-0.7zM513.4 179.7h0.7v0.7h-0.7zM514.7 171.7h0.7v0.7h-0.7zM503.7 184.9h0.7v0.7h-0.7zM508.6 186.9h0.7v0.7h-0.7zM520.3 194.4h0.7v0.7h-0.7zM507.6 183.0h0.7v0.7h-0.7zM512.9 180.0h0.7v0.7h-0.7zM508.6 180.0h0.7v0.7h-0.7zM515.3 192.1h0.7v0.7h-0.7zM509.6 185.0h0.7v0.7h-0.7zM509.1 180.2h0.7v0.7h-0.7zM515.2 176.9h0.7v0.7h-0.7zM508.1 182.5h0.7v0.7h-0.7zM505.7 180.6h0.7v0.7h-0.7zM512.4 175.5h0.7v0.7h-0.7zM508.8 183.9h0.7v0.7h-0.7z" fill="#ffffff" fill-opacity="0.7"/>
<path d="M541.9 128.1h0.8v0.8h-0.8zM551.8 134.3h0.8v0.8h-0.8zM558.9 140.4h0.8v0.8h-0.8zM538.5 128.2h0.8v0.8h-0.8zM560.0 140.5h0.8v0.8h-0.8zM547.2 129.9h0.8v0.8h-0.8zM552.9 135.6h0.8v0.8h-0.8zM543.3 130.9h0.8v0.8h-0.8zM547.3 131.2h0.8v0.8h-0.8zM545.6 133.5h0.8v0.8h-0.8zM556.6 135.9h0.8v0.8h-0.8zM538.4 126.7h0.8v0.8h-0.8zM538.1 128.6h0.8v0.8h-0.8zM565.3 138.5h0.8v0.8h-0.8zM558.0 139.2h0.8v0.8h-0.8zM554.3 133.9h0.8v0.8h-0.8zM559.4 136.9h0.8v0.8h-0.8zM545.8 132.9h0.8v0.8h-0.8zM561.3 136.7h0.8v0.8h-0.8zM530.0 125.8h0.8v0.8h-0.8zM557.1 139.1h0.8v0.8h-0.8zM557.6 135.8h0.8v0.8h-0.8zM549.6 132.7h0.8v0.8h-0.8zM562.6 140.2h0.8v0.8h-0.8zM548.5 131.6h0.8v0.8h-0.8zM565.8 141.0h0.8v0.8h-0.8zM573.0 141.8h0.8v0.8h-0.8zM539.4 128.1h0.8v0.8h-0.8zM545.4 128.9h0.8v0.8h-0.8zM551.1 136.0h0.8v0.8h-0.8zM552.0 137.4h0.8v0.8h-0.8zM552.8 136.9h0.8v0.8h-0.8zM541.9 130.5h0.8v0.8h-0.8zM550.3 133.2h0.8v0.8h-0.8zM540.9 132.4h0.8v0.8h-0.8zM560.4 141.8h0.8v0.8h-0.8zM571.6 141.8h0.8v0.8h-0.8zM552.5 134.5h0.8v0.8h-0.8zM554.0 138.2h0.8v0.8h-0.8zM562.7 137.4h0.8v0.8h-0.8zM559.0 137.9h0.8v0.8h-0.8zM565.5 140.6h0.8v0.8h-0.8zM535.0 125.9h0.8v0.8h-0.8zM542.1 129.5h0.8v0.8h-0.8zM534.9 127.7h0.8v0.8h-0.8zM559.5 139.1h0.8v0.8h-0.8zM544.9 132.4h0.8v0.8h-0.8zM539.2 129.2h0.8v0.8h-0.8zM538.4 126.8h0.8v0.8h-0.8zM537.1 129.2h0.8v0.8h-0.8zM560.6 140.6h0.8v0.8h-0.8zM554.5 134.2h0.8v0.8h-0.8zM551.4 135.1h0.8v0.8h-0.8zM554.6 138.1h0.8v0.8h-0.8zM564.3 140.2h0.8v0.8h-0.8zM545.2 134.2h0.8v0.8h-0.8zM553.9 136.5h0.8v0.8h-0.8zM533.5 125.8h0.8v0.8h-0.8zM543.6 131.7h0.8v0.8h-0.8zM536.3 130.1h0.8v0.8h-0.8z" fill="#6c2285"/>
<path d="M530.6 167.9h0.8v0.8h-0.8zM558.1 165.6h0.8v0.8h-0.8zM526.5 167.2h0.8v0.8h-0.8zM538.6 166.9h0.8v0.8h-0.8zM556.1 163.0h0.8v0.8h-0.8zM522.5 168.7h0.8v0.8h-0.8zM567.7 163.6h0.8v0.8h-0.8zM532.3 166.0h0.8v0.8h-0.8zM565.8 165.2h0.8v0.8h-0.8zM572.6 163.6h0.8v0.8h-0.8zM569.8 163.4h0.8v0.8h-0.8zM553.1 169.8h0.8v0.8h-0.8zM559.7 169.4h0.8v0.8h-0.8zM539.3 169.7h0.8v0.8h-0.8zM569.7 164.9h0.8v0.8h-0.8zM562.4 169.4h0.8v0.8h-0.8zM531.8 165.7h0.8v0.8h-0.8zM562.4 167.0h0.8v0.8h-0.8zM570.5 166.0h0.8v0.8h-0.8zM544.6 164.2h0.8v0.8h-0.8zM535.1 169.1h0.8v0.8h-0.8zM534.4 169.3h0.8v0.8h-0.8zM564.2 167.0h0.8v0.8h-0.8zM536.6 163.0h0.8v0.8h-0.8zM526.5 168.8h0.8v0.8h-0.8zM572.7 169.7h0.8v0.8h-0.8zM535.4 169.6h0.8v0.8h-0.8zM544.2 165.6h0.8v0.8h-0.8zM570.0 168.7h0.8v0.8h-0.8zM557.3 165.0h0.8v0.8h-0.8zM525.9 164.3h0.8v0.8h-0.8zM534.5 164.3h0.8v0.8h-0.8zM551.4 165.2h0.8v0.8h-0.8zM531.9 169.1h0.8v0.8h-0.8zM540.3 163.0h0.8v0.8h-0.8zM520.5 166.9h0.8v0.8h-0.8zM521.6 166.9h0.8v0.8h-0.8zM521.4 166.3h0.8v0.8h-0.8zM554.0 166.8h0.8v0.8h-0.8zM531.9 168.9h0.8v0.8h-0.8zM573.5 168.7h0.8v0.8h-0.8zM571.3 169.8h0.8v0.8h-0.8zM540.2 166.8h0.8v0.8h-0.8zM542.8 168.5h0.8v0.8h-0.8zM529.2 164.6h0.8v0.8h-0.8zM544.8 166.8h0.8v0.8h-0.8zM574.5 165.4h0.8v0.8h-0.8zM520.2 165.7h0.8v0.8h-0.8zM568.2 163.7h0.8v0.8h-0.8zM548.5 167.2h0.8v0.8h-0.8z" fill="#f0863a"/>
<path d="M437.7 165.9h0.8v0.8h-0.8zM430.7 171.7h0.8v0.8h-0.8zM436.2 172.2h0.8v0.8h-0.8zM435.5 166.9h0.8v0.8h-0.8zM436.0 166.3h0.8v0.8h-0.8zM433.7 163.1h0.8v0.8h-0.8zM429.9 165.4h0.8v0.8h-0.8zM431.2 167.5h0.8v0.8h-0.8zM433.7 167.2h0.8v0.8h-0.8zM433.7 174.7h0.8v0.8h-0.8zM433.3 169.2h0.8v0.8h-0.8zM430.9 163.3h0.8v0.8h-0.8zM431.8 170.3h0.8v0.8h-0.8zM427.6 173.6h0.8v0.8h-0.8zM432.3 171.2h0.8v0.8h-0.8zM432.0 174.3h0.8v0.8h-0.8zM435.5 162.2h0.8v0.8h-0.8zM433.7 164.8h0.8v0.8h-0.8zM436.5 166.7h0.8v0.8h-0.8zM429.5 176.8h0.8v0.8h-0.8zM426.7 167.4h0.8v0.8h-0.8zM432.1 172.2h0.8v0.8h-0.8zM429.8 171.2h0.8v0.8h-0.8zM438.5 161.8h0.8v0.8h-0.8zM429.8 176.0h0.8v0.8h-0.8zM434.2 167.2h0.8v0.8h-0.8zM429.0 171.1h0.8v0.8h-0.8zM426.8 169.0h0.8v0.8h-0.8zM430.0 167.4h0.8v0.8h-0.8zM434.5 173.2h0.8v0.8h-0.8zM435.5 167.8h0.8v0.8h-0.8zM430.7 171.3h0.8v0.8h-0.8zM433.4 170.5h0.8v0.8h-0.8zM435.3 168.7h0.8v0.8h-0.8zM432.9 171.9h0.8v0.8h-0.8zM430.3 168.9h0.8v0.8h-0.8zM433.8 165.5h0.8v0.8h-0.8zM428.5 167.5h0.8v0.8h-0.8zM432.0 167.8h0.8v0.8h-0.8zM429.6 168.7h0.8v0.8h-0.8z" fill="#7590c7"/>
<path d="M435.2 172.8h0.8v0.8h-0.8zM428.7 164.5h0.8v0.8h-0.8zM426.5 168.5h0.8v0.8h-0.8zM435.5 167.4h0.8v0.8h-0.8zM434.2 170.9h0.8v0.8h-0.8zM435.9 168.0h0.8v0.8h-0.8zM435.0 173.8h0.8v0.8h-0.8zM429.9 172.7h0.8v0.8h-0.8zM436.8 167.2h0.8v0.8h-0.8zM438.4 167.0h0.8v0.8h-0.8zM427.2 165.2h0.8v0.8h-0.8zM431.5 168.7h0.8v0.8h-0.8zM426.4 176.6h0.8v0.8h-0.8zM433.4 164.8h0.8v0.8h-0.8zM426.4 170.3h0.8v0.8h-0.8zM430.4 170.5h0.8v0.8h-0.8zM431.8 163.9h0.8v0.8h-0.8zM426.9 175.6h0.8v0.8h-0.8zM435.3 165.4h0.8v0.8h-0.8zM432.6 175.7h0.8v0.8h-0.8zM428.0 171.3h0.8v0.8h-0.8zM429.3 176.3h0.8v0.8h-0.8zM431.4 169.1h0.8v0.8h-0.8zM430.5 166.3h0.8v0.8h-0.8zM432.9 171.9h0.8v0.8h-0.8zM438.7 167.8h0.8v0.8h-0.8zM430.0 166.5h0.8v0.8h-0.8zM435.7 163.0h0.8v0.8h-0.8zM427.5 176.3h0.8v0.8h-0.8zM433.1 173.4h0.8v0.8h-0.8zM435.6 167.9h0.8v0.8h-0.8zM429.4 166.2h0.8v0.8h-0.8zM431.0 171.9h0.8v0.8h-0.8zM429.4 164.3h0.8v0.8h-0.8zM428.7 168.8h0.8v0.8h-0.8zM437.7 174.5h0.8v0.8h-0.8zM429.2 168.7h0.8v0.8h-0.8zM429.4 173.3h0.8v0.8h-0.8zM435.3 168.0h0.8v0.8h-0.8zM434.0 169.5h0.8v0.8h-0.8zM436.4 173.9h0.8v0.8h-0.8zM432.1 173.9h0.8v0.8h-0.8zM437.6 172.4h0.8v0.8h-0.8zM426.6 177.0h0.8v0.8h-0.8zM432.3 174.0h0.8v0.8h-0.8zM436.3 161.8h0.8v0.8h-0.8zM436.2 166.1h0.8v0.8h-0.8zM431.3 164.9h0.8v0.8h-0.8zM437.3 171.5h0.8v0.8h-0.8zM430.2 173.3h0.8v0.8h-0.8zM428.6 174.4h0.8v0.8h-0.8zM434.5 173.8h0.8v0.8h-0.8zM435.7 168.3h0.8v0.8h-0.8zM434.3 170.2h0.8v0.8h-0.8zM430.0 165.5h0.8v0.8h-0.8zM437.2 174.7h0.8v0.8h-0.8zM433.1 167.1h0.8v0.8h-0.8zM435.9 171.7h0.8v0.8h-0.8zM431.4 165.0h0.8v0.8h-0.8zM426.6 174.0h0.8v0.8h-0.8zM432.0 167.1h0.8v0.8h-0.8zM426.7 168.9h0.8v0.8h-0.8zM438.6 165.0h0.8v0.8h-0.8zM436.4 173.7h0.8v0.8h-0.8zM435.2 170.7h0.8v0.8h-0.8zM429.5 172.1h0.8v0.8h-0.8zM433.2 166.4h0.8v0.8h-0.8zM430.8 171.7h0.8v0.8h-0.8zM438.4 168.3h0.8v0.8h-0.8zM437.2 163.9h0.8v0.8h-0.8zM432.6 164.3h0.8v0.8h-0.8zM437.2 170.7h0.8v0.8h-0.8zM431.5 166.9h0.8v0.8h-0.8zM435.7 165.6h0.8v0.8h-0.8zM427.5 166.9h0.8v0.8h-0.8zM431.4 167.3h0.8v0.8h-0.8zM432.4 167.2h0.8v0.8h-0.8zM432.6 171.5h0.8v0.8h-0.8zM427.5 168.6h0.8v0.8h-0.8zM428.4 170.8h0.8v0.8h-0.8zM430.8 172.0h0.8v0.8h-0.8zM437.0 167.3h0.8v0.8h-0.8zM429.0 171.2h0.8v0.8h-0.8zM437.3 162.5h0.8v0.8h-0.8zM431.1 169.7h0.8v0.8h-0.8zM435.4 165.9h0.8v0.8h-0.8zM431.1 173.0h0.8v0.8h-0.8zM432.8 167.9h0.8v0.8h-0.8zM432.6 165.3h0.8v0.8h-0.8zM428.3 169.4h0.8v0.8h-0.8z" fill="#7590c7"/>
<path d="M530.6 126.8h0.9v0.9h-0.9zM525.5 129.9h0.9v0.9h-0.9zM527.2 130.4h0.9v0.9h-0.9zM522.6 124.1h0.9v0.9h-0.9zM521.6 120.7h0.9v0.9h-0.9zM520.0 127.6h0.9v0.9h-0.9zM524.5 118.3h0.9v0.9h-0.9zM531.3 126.9h0.9v0.9h-0.9zM535.6 121.1h0.9v0.9h-0.9zM515.7 130.3h0.9v0.9h-0.9zM517.4 130.7h0.9v0.9h-0.9zM524.3 136.4h0.9v0.9h-0.9zM532.6 120.4h0.9v0.9h-0.9zM530.6 123.8h0.9v0.9h-0.9zM524.6 122.2h0.9v0.9h-0.9zM518.7 122.0h0.9v0.9h-0.9zM519.8 119.6h0.9v0.9h-0.9zM534.8 123.6h0.9v0.9h-0.9zM527.0 132.9h0.9v0.9h-0.9zM530.0 118.9h0.9v0.9h-0.9zM534.0 122.6h0.9v0.9h-0.9zM513.8 123.6h0.9v0.9h-0.9zM530.5 127.2h0.9v0.9h-0.9zM521.6 135.0h0.9v0.9h-0.9zM515.2 126.2h0.9v0.9h-0.9zM524.0 117.0h0.9v0.9h-0.9zM528.9 132.4h0.9v0.9h-0.9zM518.6 120.8h0.9v0.9h-0.9zM532.3 126.9h0.9v0.9h-0.9zM536.6 121.4h0.9v0.9h-0.9zM520.2 125.2h0.9v0.9h-0.9zM522.6 129.8h0.9v0.9h-0.9zM522.3 129.1h0.9v0.9h-0.9zM534.3 119.5h0.9v0.9h-0.9zM515.0 121.6h0.9v0.9h-0.9zM527.5 129.6h0.9v0.9h-0.9zM520.1 126.6h0.9v0.9h-0.9zM521.3 128.0h0.9v0.9h-0.9zM515.7 128.9h0.9v0.9h-0.9zM518.2 127.4h0.9v0.9h-0.9zM517.7 125.1h0.9v0.9h-0.9zM519.6 129.3h0.9v0.9h-0.9zM526.7 123.1h0.9v0.9h-0.9zM520.2 126.4h0.9v0.9h-0.9zM531.7 122.4h0.9v0.9h-0.9zM527.9 121.2h0.9v0.9h-0.9zM531.0 126.2h0.9v0.9h-0.9zM520.8 125.1h0.9v0.9h-0.9zM522.9 129.9h0.9v0.9h-0.9zM523.8 128.1h0.9v0.9h-0.9zM528.1 117.4h0.9v0.9h-0.9zM525.7 131.6h0.9v0.9h-0.9zM530.0 118.3h0.9v0.9h-0.9zM523.2 126.4h0.9v0.9h-0.9zM515.6 127.6h0.9v0.9h-0.9zM519.7 119.0h0.9v0.9h-0.9zM531.3 128.5h0.9v0.9h-0.9zM527.1 134.3h0.9v0.9h-0.9zM514.6 123.6h0.9v0.9h-0.9zM518.5 128.3h0.9v0.9h-0.9zM522.9 135.3h0.9v0.9h-0.9zM518.8 121.3h0.9v0.9h-0.9zM523.7 123.5h0.9v0.9h-0.9zM531.3 118.7h0.9v0.9h-0.9zM531.0 120.4h0.9v0.9h-0.9zM513.6 118.9h0.9v0.9h-0.9zM520.3 132.7h0.9v0.9h-0.9zM527.5 120.8h0.9v0.9h-0.9zM530.2 124.4h0.9v0.9h-0.9zM530.9 120.7h0.9v0.9h-0.9zM523.7 130.2h0.9v0.9h-0.9zM522.3 121.0h0.9v0.9h-0.9zM526.2 135.9h0.9v0.9h-0.9zM515.4 120.9h0.9v0.9h-0.9zM529.0 118.5h0.9v0.9h-0.9zM518.2 118.4h0.9v0.9h-0.9zM525.8 126.6h0.9v0.9h-0.9zM517.6 126.0h0.9v0.9h-0.9zM532.0 127.5h0.9v0.9h-0.9zM531.4 128.4h0.9v0.9h-0.9zM535.1 122.7h0.9v0.9h-0.9zM524.6 133.0h0.9v0.9h-0.9zM519.4 123.5h0.9v0.9h-0.9zM525.2 115.8h0.9v0.9h-0.9zM532.1 124.4h0.9v0.9h-0.9zM518.9 123.8h0.9v0.9h-0.9zM529.9 119.0h0.9v0.9h-0.9zM516.7 119.2h0.9v0.9h-0.9zM519.9 128.8h0.9v0.9h-0.9zM523.8 119.2h0.9v0.9h-0.9zM515.5 126.8h0.9v0.9h-0.9zM521.7 126.3h0.9v0.9h-0.9zM515.7 123.1h0.9v0.9h-0.9zM525.6 117.3h0.9v0.9h-0.9zM525.5 133.6h0.9v0.9h-0.9zM527.7 118.3h0.9v0.9h-0.9zM528.8 117.3h0.9v0.9h-0.9zM526.3 119.3h0.9v0.9h-0.9zM520.0 118.1h0.9v0.9h-0.9zM524.2 128.0h0.9v0.9h-0.9zM521.3 133.1h0.9v0.9h-0.9zM530.1 117.2h0.9v0.9h-0.9zM530.6 118.5h0.9v0.9h-0.9zM525.0 119.4h0.9v0.9h-0.9zM525.1 129.6h0.9v0.9h-0.9zM531.3 122.5h0.9v0.9h-0.9zM514.4 125.2h0.9v0.9h-0.9zM528.5 132.0h0.9v0.9h-0.9zM533.2 118.5h0.9v0.9h-0.9zM519.6 130.8h0.9v0.9h-0.9zM527.5 134.0h0.9v0.9h-0.9zM532.4 122.6h0.9v0.9h-0.9zM517.3 129.6h0.9v0.9h-0.9zM515.8 126.1h0.9v0.9h-0.9zM519.9 124.1h0.9v0.9h-0.9zM529.4 129.1h0.9v0.9h-0.9zM528.4 116.8h0.9v0.9h-0.9zM522.7 120.0h0.9v0.9h-0.9zM524.0 133.6h0.9v0.9h-0.9zM531.9 118.3h0.9v0.9h-0.9zM518.0 120.0h0.9v0.9h-0.9zM531.6 120.9h0.9v0.9h-0.9zM517.8 124.4h0.9v0.9h-0.9zM522.5 116.3h0.9v0.9h-0.9zM534.5 124.5h0.9v0.9h-0.9zM527.2 126.5h0.9v0.9h-0.9zM530.9 128.4h0.9v0.9h-0.9zM524.1 133.7h0.9v0.9h-0.9zM520.2 123.9h0.9v0.9h-0.9zM519.1 133.7h0.9v0.9h-0.9zM520.5 129.8h0.9v0.9h-0.9zM528.9 127.4h0.9v0.9h-0.9zM517.8 126.6h0.9v0.9h-0.9zM514.1 122.0h0.9v0.9h-0.9zM519.0 133.6h0.9v0.9h-0.9zM517.5 132.0h0.9v0.9h-0.9zM517.9 122.8h0.9v0.9h-0.9zM527.5 121.4h0.9v0.9h-0.9zM531.9 116.9h0.9v0.9h-0.9zM529.9 121.0h0.9v0.9h-0.9zM529.7 116.1h0.9v0.9h-0.9zM522.5 119.8h0.9v0.9h-0.9zM521.7 117.0h0.9v0.9h-0.9zM529.2 116.8h0.9v0.9h-0.9zM517.3 131.6h0.9v0.9h-0.9zM520.0 132.7h0.9v0.9h-0.9zM528.1 118.5h0.9v0.9h-0.9zM526.3 119.5h0.9v0.9h-0.9zM515.2 121.0h0.9v0.9h-0.9zM520.0 126.8h0.9v0.9h-0.9z" fill="#f0863a"/>
<path d="M515.1 124.8h0.9v0.9h-0.9zM515.5 134.8h0.9v0.9h-0.9zM513.3 118.7h0.9v0.9h-0.9zM512.8 132.0h0.9v0.9h-0.9zM505.4 122.7h0.9v0.9h-0.9zM512.6 121.0h0.9v0.9h-0.9zM515.2 127.9h0.9v0.9h-0.9zM509.7 135.5h0.9v0.9h-0.9zM509.3 138.6h0.9v0.9h-0.9zM509.4 131.8h0.9v0.9h-0.9zM508.3 133.9h0.9v0.9h-0.9zM508.7 127.3h0.9v0.9h-0.9zM514.4 136.2h0.9v0.9h-0.9zM506.8 121.8h0.9v0.9h-0.9zM507.8 134.9h0.9v0.9h-0.9zM513.8 133.8h0.9v0.9h-0.9zM515.5 123.1h0.9v0.9h-0.9zM509.6 131.2h0.9v0.9h-0.9zM508.4 135.5h0.9v0.9h-0.9zM507.8 127.7h0.9v0.9h-0.9zM513.9 122.9h0.9v0.9h-0.9zM513.6 126.8h0.9v0.9h-0.9zM513.5 136.1h0.9v0.9h-0.9zM513.8 137.0h0.9v0.9h-0.9zM513.7 135.1h0.9v0.9h-0.9zM515.9 131.1h0.9v0.9h-0.9zM511.9 121.6h0.9v0.9h-0.9zM506.4 126.6h0.9v0.9h-0.9zM508.8 130.4h0.9v0.9h-0.9zM515.8 123.9h0.9v0.9h-0.9zM507.5 131.0h0.9v0.9h-0.9zM507.9 122.5h0.9v0.9h-0.9zM509.9 125.6h0.9v0.9h-0.9zM514.1 129.7h0.9v0.9h-0.9zM509.3 121.3h0.9v0.9h-0.9zM507.9 129.5h0.9v0.9h-0.9zM508.5 128.8h0.9v0.9h-0.9zM511.5 123.8h0.9v0.9h-0.9zM506.5 127.2h0.9v0.9h-0.9zM512.0 135.8h0.9v0.9h-0.9zM512.4 125.6h0.9v0.9h-0.9zM517.1 135.2h0.9v0.9h-0.9zM511.3 127.9h0.9v0.9h-0.9zM515.9 131.6h0.9v0.9h-0.9zM512.2 129.3h0.9v0.9h-0.9z" fill="#f0863a"/>
<path d="M539.5 105.9h0.9v0.9h-0.9zM538.2 108.7h0.9v0.9h-0.9zM534.3 102.3h0.9v0.9h-0.9zM539.5 107.8h0.9v0.9h-0.9zM532.7 116.8h0.9v0.9h-0.9zM533.7 107.9h0.9v0.9h-0.9zM538.6 107.9h0.9v0.9h-0.9zM529.8 109.4h0.9v0.9h-0.9zM531.3 103.2h0.9v0.9h-0.9zM537.8 105.8h0.9v0.9h-0.9zM535.8 104.5h0.9v0.9h-0.9zM537.8 115.7h0.9v0.9h-0.9zM535.5 100.9h0.9v0.9h-0.9zM534.0 119.3h0.9v0.9h-0.9zM538.0 112.5h0.9v0.9h-0.9zM535.8 100.8h0.9v0.9h-0.9zM532.6 115.6h0.9v0.9h-0.9zM536.8 120.3h0.9v0.9h-0.9zM537.8 101.7h0.9v0.9h-0.9zM534.5 104.0h0.9v0.9h-0.9zM535.0 116.0h0.9v0.9h-0.9zM534.2 107.2h0.9v0.9h-0.9zM533.3 106.3h0.9v0.9h-0.9zM537.2 113.8h0.9v0.9h-0.9zM536.6 113.9h0.9v0.9h-0.9zM534.2 101.5h0.9v0.9h-0.9zM539.8 110.9h0.9v0.9h-0.9zM533.4 103.3h0.9v0.9h-0.9zM532.3 123.5h0.9v0.9h-0.9zM532.7 118.5h0.9v0.9h-0.9zM530.8 102.6h0.9v0.9h-0.9zM531.3 107.1h0.9v0.9h-0.9zM536.0 107.4h0.9v0.9h-0.9zM539.1 100.3h0.9v0.9h-0.9zM539.0 108.2h0.9v0.9h-0.9zM538.1 107.1h0.9v0.9h-0.9zM530.6 121.0h0.9v0.9h-0.9zM535.9 116.2h0.9v0.9h-0.9zM534.3 115.9h0.9v0.9h-0.9zM540.4 116.7h0.9v0.9h-0.9zM531.2 120.7h0.9v0.9h-0.9zM538.7 120.9h0.9v0.9h-0.9zM533.1 107.6h0.9v0.9h-0.9zM531.2 107.7h0.9v0.9h-0.9zM532.4 108.9h0.9v0.9h-0.9zM527.5 105.6h0.9v0.9h-0.9zM533.7 121.3h0.9v0.9h-0.9zM536.1 122.5h0.9v0.9h-0.9zM539.0 109.8h0.9v0.9h-0.9zM535.1 119.6h0.9v0.9h-0.9zM537.6 111.1h0.9v0.9h-0.9zM534.8 112.1h0.9v0.9h-0.9zM536.9 121.3h0.9v0.9h-0.9zM531.5 107.6h0.9v0.9h-0.9zM531.8 118.6h0.9v0.9h-0.9z" fill="#6c2285"/>
<path d="M482.5 109.1h0.9v0.9h-0.9zM483.1 110.4h0.9v0.9h-0.9zM475.3 108.8h0.9v0.9h-0.9zM481.5 115.2h0.9v0.9h-0.9zM475.0 110.2h0.9v0.9h-0.9zM490.3 116.7h0.9v0.9h-0.9zM491.7 116.7h0.9v0.9h-0.9zM491.2 119.1h0.9v0.9h-0.9zM481.6 108.8h0.9v0.9h-0.9zM477.5 120.7h0.9v0.9h-0.9zM486.3 112.8h0.9v0.9h-0.9zM477.8 118.2h0.9v0.9h-0.9zM490.8 112.0h0.9v0.9h-0.9zM491.9 116.5h0.9v0.9h-0.9z" fill="#3f9f45"/>
<path d="M477.8 63.6h0.8v0.8h-0.8zM479.8 78.6h0.8v0.8h-0.8zM477.8 64.8h0.8v0.8h-0.8zM477.6 64.2h0.8v0.8h-0.8zM477.9 68.3h0.8v0.8h-0.8zM478.0 73.3h0.8v0.8h-0.8zM478.0 65.3h0.8v0.8h-0.8zM478.7 63.4h0.8v0.8h-0.8zM477.2 61.8h0.8v0.8h-0.8zM477.0 73.5h0.8v0.8h-0.8zM477.2 69.6h0.8v0.8h-0.8zM480.6 72.3h0.8v0.8h-0.8zM478.2 68.0h0.8v0.8h-0.8zM478.7 66.4h0.8v0.8h-0.8zM477.2 63.1h0.8v0.8h-0.8zM477.6 64.2h0.8v0.8h-0.8zM478.3 62.1h0.8v0.8h-0.8zM479.5 64.0h0.8v0.8h-0.8zM479.0 73.9h0.8v0.8h-0.8zM479.0 74.8h0.8v0.8h-0.8zM480.1 69.0h0.8v0.8h-0.8zM477.8 60.9h0.8v0.8h-0.8zM479.8 67.4h0.8v0.8h-0.8zM478.2 61.7h0.8v0.8h-0.8zM477.7 77.8h0.8v0.8h-0.8z" fill="#e1233d"/>
<path d="M457.5 92.0h0.9v0.9h-0.9zM458.5 93.0h0.9v0.9h-0.9zM459.5 94.0h0.9v0.9h-0.9zM460.5 95.0h0.9v0.9h-0.9zM459.0 96.5h0.9v0.9h-0.9zM457.0 95.5h0.9v0.9h-0.9zM461.0 91.5h0.9v0.9h-0.9z" fill="#3f9f45"/>
<rect x="393.6" y="14.8" width="198.19999999999993" height="197.6" fill="none" stroke="#777" stroke-width="0.9"/>
<text x="524.6" y="29.4" font-size="8.8" fill="#333333" textLength="47.8" lengthAdjust="spacingAndGlyphs">Plasmablast</text>
<text x="419" y="56.9" font-size="8.8" fill="#333333" textLength="58.4" lengthAdjust="spacingAndGlyphs">B intermediate</text>
<text x="491.9" y="81.6" font-size="8.8" fill="#333333" textLength="28.7" lengthAdjust="spacingAndGlyphs">B naive</text>
<text x="448.9" y="96.8" font-size="8.8" fill="#333333" textLength="17.3" lengthAdjust="spacingAndGlyphs">pDC</text>
<text x="549" y="72.1" font-size="8.8" fill="#333333" textLength="40.5" lengthAdjust="spacingAndGlyphs">CD4 naive</text>
<text x="544.8" y="117" font-size="8.8" fill="#333333" textLength="37.0" lengthAdjust="spacingAndGlyphs">CD4 TCM</text>
<text x="530.3" y="156.3" font-size="8.8" fill="#333333" textLength="36.7" lengthAdjust="spacingAndGlyphs">CD8 TEM</text>
<text x="526.6" y="185.8" font-size="8.8" fill="#333333" textLength="11.0" lengthAdjust="spacingAndGlyphs">NK</text>
<text x="475.7" y="196.2" font-size="8.8" fill="#333333" textLength="37.4" lengthAdjust="spacingAndGlyphs">NK_CD56</text>
<text x="398" y="148.6" font-size="8.8" fill="#333333" textLength="45.5" lengthAdjust="spacingAndGlyphs">CD14 Mono</text>
<text x="451.6" y="159.6" font-size="8.8" fill="#333333" textLength="21.4" lengthAdjust="spacingAndGlyphs">cDC2</text>
<text x="436.8" y="181" font-size="8.8" fill="#333333" textLength="45.5" lengthAdjust="spacingAndGlyphs">CD16 Mono</text>
<text x="492.7" y="225.2" font-size="8.7" text-anchor="middle" fill="#333333" textLength="74.7" lengthAdjust="spacingAndGlyphs">UMAP dimension 1</text>
<text x="389.3" y="113.8" font-size="8.7" text-anchor="middle" fill="#333333" transform="rotate(-90 389.3 113.8)" textLength="73.7" lengthAdjust="spacingAndGlyphs">UMAP dimension 2</text>
<path d="M626.0,34.0C627.1,32.2 629.5,30.4 632.0,29.5C634.5,28.6 638.0,28.6 641.0,28.5C644.0,28.4 647.5,28.6 650.0,29.0C652.5,29.4 654.8,28.3 656.0,31.0C657.2,33.7 658.0,41.8 657.0,45.0C656.0,48.2 652.2,48.7 650.0,50.0C647.8,51.3 646.0,51.9 644.0,53.0C642.0,54.1 640.0,56.6 638.0,56.5C636.0,56.4 633.7,54.2 632.0,52.5C630.3,50.8 629.1,48.6 628.0,46.5C626.9,44.4 625.6,42.1 625.3,40.0C625.0,37.9 624.9,35.8 626.0,34.0Z" fill="#2a3578" fill-opacity="0.9"/>
<path d="M648.0,31.0C649.2,29.2 651.8,28.8 654.0,28.2C656.2,27.6 658.7,27.2 661.0,27.3C663.3,27.4 666.2,28.0 668.0,29.0C669.8,30.0 671.4,31.5 672.0,33.5C672.6,35.5 672.3,38.8 671.5,41.0C670.7,43.2 668.6,44.9 667.0,46.5C665.4,48.1 664.0,50.0 662.0,50.5C660.0,51.0 657.2,50.2 655.0,49.5C652.8,48.8 650.3,47.8 649.0,46.0C647.7,44.2 647.2,41.5 647.0,39.0C646.8,36.5 646.8,32.8 648.0,31.0Z" fill="#d7263d"/>
<path d="M640.3 52.2h0.7v0.7h-0.7zM652.1 35.4h0.7v0.7h-0.7zM632.8 45.3h0.7v0.7h-0.7zM655.0 41.5h0.7v0.7h-0.7zM638.8 55.3h0.7v0.7h-0.7zM647.7 34.8h0.7v0.7h-0.7zM654.6 43.7h0.7v0.7h-0.7zM634.0 33.5h0.7v0.7h-0.7zM655.1 38.4h0.7v0.7h-0.7zM640.6 51.6h0.7v0.7h-0.7zM636.8 35.0h0.7v0.7h-0.7zM631.5 42.7h0.7v0.7h-0.7zM654.4 44.5h0.7v0.7h-0.7zM639.3 47.8h0.7v0.7h-0.7zM647.2 40.8h0.7v0.7h-0.7zM641.8 51.2h0.7v0.7h-0.7zM636.9 47.4h0.7v0.7h-0.7zM642.8 52.4h0.7v0.7h-0.7zM632.9 41.6h0.7v0.7h-0.7zM633.4 51.0h0.7v0.7h-0.7zM628.7 32.5h0.7v0.7h-0.7zM644.0 50.2h0.7v0.7h-0.7zM636.2 30.7h0.7v0.7h-0.7zM643.9 45.7h0.7v0.7h-0.7zM638.9 36.1h0.7v0.7h-0.7zM636.3 35.0h0.7v0.7h-0.7zM651.1 39.2h0.7v0.7h-0.7zM647.9 43.9h0.7v0.7h-0.7zM632.6 36.3h0.7v0.7h-0.7zM654.4 32.8h0.7v0.7h-0.7zM633.5 31.3h0.7v0.7h-0.7zM631.3 39.3h0.7v0.7h-0.7zM644.0 32.6h0.7v0.7h-0.7zM637.2 32.5h0.7v0.7h-0.7zM634.2 44.6h0.7v0.7h-0.7zM641.2 33.3h0.7v0.7h-0.7zM634.1 53.6h0.7v0.7h-0.7zM645.3 45.3h0.7v0.7h-0.7zM635.5 36.9h0.7v0.7h-0.7zM645.4 29.8h0.7v0.7h-0.7zM631.2 40.3h0.7v0.7h-0.7zM646.0 47.4h0.7v0.7h-0.7zM634.4 47.6h0.7v0.7h-0.7zM654.3 41.6h0.7v0.7h-0.7zM637.9 47.7h0.7v0.7h-0.7zM653.0 47.7h0.7v0.7h-0.7zM655.6 35.5h0.7v0.7h-0.7zM646.6 34.4h0.7v0.7h-0.7zM629.0 38.1h0.7v0.7h-0.7zM655.3 36.7h0.7v0.7h-0.7zM635.1 54.5h0.7v0.7h-0.7zM636.5 51.6h0.7v0.7h-0.7zM627.3 37.9h0.7v0.7h-0.7zM632.9 52.6h0.7v0.7h-0.7zM639.5 52.3h0.7v0.7h-0.7zM640.8 38.9h0.7v0.7h-0.7zM636.1 29.8h0.7v0.7h-0.7zM639.7 55.1h0.7v0.7h-0.7zM628.4 40.9h0.7v0.7h-0.7zM651.7 32.8h0.7v0.7h-0.7zM627.4 34.3h0.7v0.7h-0.7zM650.5 33.5h0.7v0.7h-0.7zM650.4 30.4h0.7v0.7h-0.7zM631.2 46.9h0.7v0.7h-0.7zM630.7 40.7h0.7v0.7h-0.7zM630.1 31.1h0.7v0.7h-0.7zM640.7 43.7h0.7v0.7h-0.7zM636.5 30.5h0.7v0.7h-0.7zM642.8 33.1h0.7v0.7h-0.7zM645.9 47.2h0.7v0.7h-0.7zM644.5 34.1h0.7v0.7h-0.7zM636.2 34.1h0.7v0.7h-0.7zM630.6 34.0h0.7v0.7h-0.7zM641.2 34.2h0.7v0.7h-0.7zM626.1 40.5h0.7v0.7h-0.7zM631.7 33.2h0.7v0.7h-0.7zM640.2 44.1h0.7v0.7h-0.7zM655.9 37.8h0.7v0.7h-0.7zM629.0 32.2h0.7v0.7h-0.7zM629.1 38.6h0.7v0.7h-0.7zM638.5 46.9h0.7v0.7h-0.7zM655.0 40.5h0.7v0.7h-0.7zM643.6 40.0h0.7v0.7h-0.7zM637.4 35.9h0.7v0.7h-0.7zM648.2 50.9h0.7v0.7h-0.7zM647.0 40.8h0.7v0.7h-0.7zM638.3 33.8h0.7v0.7h-0.7zM643.9 39.8h0.7v0.7h-0.7zM642.3 42.3h0.7v0.7h-0.7zM634.6 40.2h0.7v0.7h-0.7zM638.9 53.7h0.7v0.7h-0.7zM653.5 36.6h0.7v0.7h-0.7zM639.7 34.7h0.7v0.7h-0.7zM655.5 32.3h0.7v0.7h-0.7zM640.6 28.8h0.7v0.7h-0.7zM639.9 41.4h0.7v0.7h-0.7zM641.1 41.8h0.7v0.7h-0.7zM634.9 30.0h0.7v0.7h-0.7zM635.6 38.2h0.7v0.7h-0.7zM628.6 45.3h0.7v0.7h-0.7zM632.3 43.4h0.7v0.7h-0.7zM647.8 28.9h0.7v0.7h-0.7zM641.1 46.3h0.7v0.7h-0.7zM651.9 47.1h0.7v0.7h-0.7zM632.4 51.3h0.7v0.7h-0.7zM649.3 42.1h0.7v0.7h-0.7zM654.1 38.5h0.7v0.7h-0.7zM642.5 50.8h0.7v0.7h-0.7zM630.6 42.4h0.7v0.7h-0.7zM655.6 34.6h0.7v0.7h-0.7zM638.8 31.9h0.7v0.7h-0.7zM654.8 42.7h0.7v0.7h-0.7zM652.4 36.1h0.7v0.7h-0.7zM640.0 35.4h0.7v0.7h-0.7zM644.0 48.3h0.7v0.7h-0.7zM643.5 44.9h0.7v0.7h-0.7zM652.2 35.4h0.7v0.7h-0.7zM655.2 41.3h0.7v0.7h-0.7zM643.4 46.6h0.7v0.7h-0.7zM653.8 37.3h0.7v0.7h-0.7zM653.6 37.3h0.7v0.7h-0.7zM647.0 32.9h0.7v0.7h-0.7zM645.5 36.9h0.7v0.7h-0.7zM637.6 55.4h0.7v0.7h-0.7zM645.9 29.0h0.7v0.7h-0.7zM639.9 31.8h0.7v0.7h-0.7zM645.4 43.7h0.7v0.7h-0.7zM643.5 45.8h0.7v0.7h-0.7zM633.6 32.8h0.7v0.7h-0.7zM635.6 29.5h0.7v0.7h-0.7zM631.7 42.4h0.7v0.7h-0.7zM637.7 49.8h0.7v0.7h-0.7zM629.8 34.3h0.7v0.7h-0.7zM641.9 47.7h0.7v0.7h-0.7zM635.3 34.3h0.7v0.7h-0.7zM629.3 38.7h0.7v0.7h-0.7zM637.3 50.8h0.7v0.7h-0.7zM632.9 38.0h0.7v0.7h-0.7zM648.9 34.3h0.7v0.7h-0.7zM654.3 37.3h0.7v0.7h-0.7zM634.3 41.4h0.7v0.7h-0.7zM632.0 50.5h0.7v0.7h-0.7zM638.0 52.0h0.7v0.7h-0.7zM655.0 33.6h0.7v0.7h-0.7zM646.5 33.3h0.7v0.7h-0.7zM638.3 49.2h0.7v0.7h-0.7zM634.6 30.3h0.7v0.7h-0.7zM641.6 30.6h0.7v0.7h-0.7zM639.8 52.4h0.7v0.7h-0.7zM643.6 35.9h0.7v0.7h-0.7zM632.0 44.1h0.7v0.7h-0.7zM641.4 53.8h0.7v0.7h-0.7zM630.7 41.5h0.7v0.7h-0.7zM639.5 39.1h0.7v0.7h-0.7zM631.2 39.2h0.7v0.7h-0.7zM642.5 33.9h0.7v0.7h-0.7zM635.5 43.3h0.7v0.7h-0.7zM655.1 42.0h0.7v0.7h-0.7zM636.3 29.5h0.7v0.7h-0.7zM641.7 38.1h0.7v0.7h-0.7z" fill="#ffffff" fill-opacity="0.6"/>
<path d="M649.9 38.3h0.6v0.6h-0.6zM662.4 35.4h0.6v0.6h-0.6zM665.4 42.0h0.6v0.6h-0.6zM660.1 41.3h0.6v0.6h-0.6zM660.9 32.6h0.6v0.6h-0.6zM655.6 44.0h0.6v0.6h-0.6zM656.9 39.6h0.6v0.6h-0.6zM652.7 41.9h0.6v0.6h-0.6zM665.9 45.9h0.6v0.6h-0.6zM664.6 38.1h0.6v0.6h-0.6zM653.6 43.6h0.6v0.6h-0.6zM657.5 34.8h0.6v0.6h-0.6zM649.9 41.3h0.6v0.6h-0.6zM664.8 45.1h0.6v0.6h-0.6zM650.8 32.1h0.6v0.6h-0.6zM662.9 30.3h0.6v0.6h-0.6zM662.8 33.4h0.6v0.6h-0.6zM661.1 45.1h0.6v0.6h-0.6zM655.6 42.4h0.6v0.6h-0.6zM662.0 48.4h0.6v0.6h-0.6zM666.4 42.8h0.6v0.6h-0.6zM660.6 47.9h0.6v0.6h-0.6zM662.1 43.3h0.6v0.6h-0.6zM654.8 29.8h0.6v0.6h-0.6zM660.9 32.5h0.6v0.6h-0.6zM669.4 35.0h0.6v0.6h-0.6zM651.8 40.7h0.6v0.6h-0.6zM662.4 29.6h0.6v0.6h-0.6zM654.8 29.9h0.6v0.6h-0.6zM659.3 39.5h0.6v0.6h-0.6zM654.9 42.9h0.6v0.6h-0.6zM658.1 46.3h0.6v0.6h-0.6zM664.0 33.3h0.6v0.6h-0.6zM670.8 39.7h0.6v0.6h-0.6zM666.8 36.2h0.6v0.6h-0.6zM659.4 33.8h0.6v0.6h-0.6zM660.5 39.5h0.6v0.6h-0.6zM651.7 39.6h0.6v0.6h-0.6zM649.0 34.3h0.6v0.6h-0.6zM663.7 30.8h0.6v0.6h-0.6zM660.1 30.4h0.6v0.6h-0.6zM669.1 32.2h0.6v0.6h-0.6zM671.1 33.8h0.6v0.6h-0.6zM664.0 28.9h0.6v0.6h-0.6zM649.6 35.4h0.6v0.6h-0.6zM655.2 46.1h0.6v0.6h-0.6zM656.7 29.1h0.6v0.6h-0.6zM670.0 42.6h0.6v0.6h-0.6zM662.5 30.3h0.6v0.6h-0.6zM658.9 48.1h0.6v0.6h-0.6z" fill="#ffffff" fill-opacity="0.35"/>
<path d="M643.0 46.4h0.7v0.7h-0.7zM639.9 38.5h0.7v0.7h-0.7zM631.2 31.1h0.7v0.7h-0.7zM651.6 34.4h0.7v0.7h-0.7zM652.2 39.2h0.7v0.7h-0.7zM652.4 35.2h0.7v0.7h-0.7zM634.8 43.2h0.7v0.7h-0.7zM632.4 35.7h0.7v0.7h-0.7zM648.3 50.6h0.7v0.7h-0.7zM636.4 41.6h0.7v0.7h-0.7zM643.9 45.1h0.7v0.7h-0.7zM654.4 44.4h0.7v0.7h-0.7zM655.8 41.9h0.7v0.7h-0.7zM639.4 29.3h0.7v0.7h-0.7zM635.6 42.0h0.7v0.7h-0.7zM625.7 40.8h0.7v0.7h-0.7zM629.0 36.0h0.7v0.7h-0.7zM628.9 45.0h0.7v0.7h-0.7zM640.7 30.0h0.7v0.7h-0.7zM634.7 43.5h0.7v0.7h-0.7zM638.8 44.5h0.7v0.7h-0.7zM644.7 33.8h0.7v0.7h-0.7zM653.5 45.8h0.7v0.7h-0.7zM641.8 49.5h0.7v0.7h-0.7zM639.7 48.3h0.7v0.7h-0.7zM637.1 44.0h0.7v0.7h-0.7zM648.6 44.9h0.7v0.7h-0.7zM644.4 39.3h0.7v0.7h-0.7zM636.4 46.8h0.7v0.7h-0.7zM639.4 40.8h0.7v0.7h-0.7zM637.3 36.6h0.7v0.7h-0.7zM631.5 46.7h0.7v0.7h-0.7zM642.1 46.3h0.7v0.7h-0.7zM646.3 39.7h0.7v0.7h-0.7zM625.6 38.7h0.7v0.7h-0.7zM641.8 46.1h0.7v0.7h-0.7zM646.0 38.3h0.7v0.7h-0.7zM650.5 32.1h0.7v0.7h-0.7zM653.4 42.2h0.7v0.7h-0.7zM639.7 47.9h0.7v0.7h-0.7zM644.2 34.8h0.7v0.7h-0.7zM642.1 36.7h0.7v0.7h-0.7zM636.9 34.8h0.7v0.7h-0.7zM633.3 32.3h0.7v0.7h-0.7zM636.7 31.5h0.7v0.7h-0.7zM639.3 40.7h0.7v0.7h-0.7zM635.9 51.1h0.7v0.7h-0.7zM643.5 38.6h0.7v0.7h-0.7zM633.6 35.1h0.7v0.7h-0.7zM628.6 36.9h0.7v0.7h-0.7zM635.4 51.5h0.7v0.7h-0.7zM641.4 32.9h0.7v0.7h-0.7zM647.3 34.3h0.7v0.7h-0.7zM648.9 33.2h0.7v0.7h-0.7zM653.1 37.2h0.7v0.7h-0.7zM628.3 32.7h0.7v0.7h-0.7zM631.8 32.2h0.7v0.7h-0.7zM637.2 39.5h0.7v0.7h-0.7zM649.2 30.6h0.7v0.7h-0.7zM635.7 33.4h0.7v0.7h-0.7zM631.1 49.3h0.7v0.7h-0.7zM656.3 39.7h0.7v0.7h-0.7zM647.9 41.4h0.7v0.7h-0.7zM631.8 37.3h0.7v0.7h-0.7zM636.1 35.5h0.7v0.7h-0.7zM650.5 31.0h0.7v0.7h-0.7zM637.5 49.1h0.7v0.7h-0.7zM644.8 46.8h0.7v0.7h-0.7zM631.4 34.2h0.7v0.7h-0.7zM631.6 30.7h0.7v0.7h-0.7z" fill="#d7263d"/>
<path d="M661.9 29.5h0.7v0.7h-0.7zM654.2 30.7h0.7v0.7h-0.7zM659.8 44.7h0.7v0.7h-0.7zM650.1 36.1h0.7v0.7h-0.7zM660.4 34.2h0.7v0.7h-0.7zM665.2 39.2h0.7v0.7h-0.7zM663.2 35.0h0.7v0.7h-0.7zM658.7 40.0h0.7v0.7h-0.7zM657.5 37.6h0.7v0.7h-0.7zM665.4 47.2h0.7v0.7h-0.7zM654.6 29.0h0.7v0.7h-0.7zM652.6 38.9h0.7v0.7h-0.7zM666.1 44.3h0.7v0.7h-0.7zM654.5 28.6h0.7v0.7h-0.7zM659.1 35.0h0.7v0.7h-0.7zM660.5 45.3h0.7v0.7h-0.7zM665.2 39.4h0.7v0.7h-0.7zM658.1 49.4h0.7v0.7h-0.7zM666.9 40.6h0.7v0.7h-0.7zM666.2 40.1h0.7v0.7h-0.7zM655.0 30.2h0.7v0.7h-0.7zM661.5 47.5h0.7v0.7h-0.7zM660.8 38.6h0.7v0.7h-0.7zM655.4 30.1h0.7v0.7h-0.7zM659.5 38.9h0.7v0.7h-0.7zM648.5 37.2h0.7v0.7h-0.7zM661.5 50.3h0.7v0.7h-0.7zM648.6 42.5h0.7v0.7h-0.7zM652.0 43.4h0.7v0.7h-0.7zM662.9 32.1h0.7v0.7h-0.7zM658.5 37.1h0.7v0.7h-0.7zM651.5 36.5h0.7v0.7h-0.7zM648.6 43.7h0.7v0.7h-0.7zM671.3 39.9h0.7v0.7h-0.7zM657.0 39.2h0.7v0.7h-0.7zM650.6 44.4h0.7v0.7h-0.7zM664.3 29.7h0.7v0.7h-0.7zM656.4 30.1h0.7v0.7h-0.7zM667.9 31.8h0.7v0.7h-0.7zM660.2 43.8h0.7v0.7h-0.7zM650.8 43.9h0.7v0.7h-0.7zM657.8 31.2h0.7v0.7h-0.7zM658.6 49.1h0.7v0.7h-0.7zM660.6 47.8h0.7v0.7h-0.7zM658.9 33.1h0.7v0.7h-0.7zM668.3 29.8h0.7v0.7h-0.7zM664.2 34.1h0.7v0.7h-0.7zM648.3 31.2h0.7v0.7h-0.7zM668.3 30.9h0.7v0.7h-0.7zM663.5 39.7h0.7v0.7h-0.7zM661.9 48.8h0.7v0.7h-0.7zM661.2 46.1h0.7v0.7h-0.7zM665.0 38.2h0.7v0.7h-0.7zM652.4 47.7h0.7v0.7h-0.7zM661.0 50.3h0.7v0.7h-0.7zM665.0 31.2h0.7v0.7h-0.7zM667.8 43.9h0.7v0.7h-0.7zM649.5 32.4h0.7v0.7h-0.7zM666.1 45.1h0.7v0.7h-0.7zM664.4 35.9h0.7v0.7h-0.7z" fill="#2a3578"/>
<path d="M656.8 31.4h0.7v0.7h-0.7zM654.3 47.2h0.7v0.7h-0.7zM628.3 47.3h0.7v0.7h-0.7zM627.8 46.5h0.7v0.7h-0.7zM633.9 54.1h0.7v0.7h-0.7zM642.9 27.1h0.7v0.7h-0.7zM627.3 32.9h0.7v0.7h-0.7zM626.4 31.7h0.7v0.7h-0.7zM648.8 27.8h0.7v0.7h-0.7zM656.9 35.9h0.7v0.7h-0.7zM625.0 39.5h0.7v0.7h-0.7zM652.6 28.5h0.7v0.7h-0.7zM641.1 55.8h0.7v0.7h-0.7zM625.5 42.2h0.7v0.7h-0.7zM651.8 28.4h0.7v0.7h-0.7zM644.4 27.7h0.7v0.7h-0.7zM638.0 57.7h0.7v0.7h-0.7zM637.7 27.6h0.7v0.7h-0.7zM657.9 38.9h0.7v0.7h-0.7zM653.1 47.9h0.7v0.7h-0.7zM627.2 47.3h0.7v0.7h-0.7zM627.4 47.8h0.7v0.7h-0.7zM641.3 27.7h0.7v0.7h-0.7zM657.5 34.6h0.7v0.7h-0.7zM658.4 41.0h0.7v0.7h-0.7zM634.0 28.2h0.7v0.7h-0.7zM640.6 28.0h0.7v0.7h-0.7zM657.9 32.8h0.7v0.7h-0.7zM644.8 28.6h0.7v0.7h-0.7zM634.0 28.0h0.7v0.7h-0.7zM645.3 26.8h0.7v0.7h-0.7zM635.7 56.5h0.7v0.7h-0.7zM643.6 28.0h0.7v0.7h-0.7zM626.5 43.3h0.7v0.7h-0.7zM650.1 50.1h0.7v0.7h-0.7zM625.7 45.6h0.7v0.7h-0.7zM640.2 28.3h0.7v0.7h-0.7zM634.7 28.1h0.7v0.7h-0.7zM633.8 53.9h0.7v0.7h-0.7zM657.6 45.0h0.7v0.7h-0.7zM657.3 41.7h0.7v0.7h-0.7zM646.5 28.3h0.7v0.7h-0.7zM625.2 34.6h0.7v0.7h-0.7zM644.2 27.3h0.7v0.7h-0.7zM629.3 50.5h0.7v0.7h-0.7zM654.3 29.1h0.7v0.7h-0.7zM658.7 41.8h0.7v0.7h-0.7zM624.0 40.7h0.7v0.7h-0.7zM626.2 33.8h0.7v0.7h-0.7z" fill="#2a3578"/>
<path d="M670.3 30.5h0.7v0.7h-0.7zM648.1 30.5h0.7v0.7h-0.7zM646.7 36.5h0.7v0.7h-0.7zM653.5 26.9h0.7v0.7h-0.7zM656.0 49.8h0.7v0.7h-0.7zM672.0 31.8h0.7v0.7h-0.7zM658.9 26.0h0.7v0.7h-0.7zM650.9 47.8h0.7v0.7h-0.7zM672.6 34.0h0.7v0.7h-0.7zM673.2 41.4h0.7v0.7h-0.7zM672.6 35.7h0.7v0.7h-0.7zM672.9 34.1h0.7v0.7h-0.7zM649.2 29.5h0.7v0.7h-0.7zM648.5 30.6h0.7v0.7h-0.7zM651.6 27.6h0.7v0.7h-0.7zM653.3 48.7h0.7v0.7h-0.7zM671.0 30.4h0.7v0.7h-0.7zM649.5 46.9h0.7v0.7h-0.7zM653.3 27.7h0.7v0.7h-0.7zM662.5 50.9h0.7v0.7h-0.7zM651.3 47.8h0.7v0.7h-0.7zM646.0 41.5h0.7v0.7h-0.7zM645.4 39.4h0.7v0.7h-0.7zM656.9 26.1h0.7v0.7h-0.7zM661.9 51.1h0.7v0.7h-0.7zM657.0 26.5h0.7v0.7h-0.7zM657.5 27.0h0.7v0.7h-0.7zM665.1 27.3h0.7v0.7h-0.7zM647.6 44.4h0.7v0.7h-0.7zM646.5 37.9h0.7v0.7h-0.7zM672.8 33.4h0.7v0.7h-0.7zM655.1 50.4h0.7v0.7h-0.7zM652.6 49.2h0.7v0.7h-0.7zM670.5 42.7h0.7v0.7h-0.7zM672.4 40.4h0.7v0.7h-0.7zM648.5 44.3h0.7v0.7h-0.7zM658.9 51.7h0.7v0.7h-0.7zM658.0 25.8h0.7v0.7h-0.7zM671.6 39.5h0.7v0.7h-0.7zM657.6 50.3h0.7v0.7h-0.7z" fill="#d7263d"/>
<path d="M638.1 21.8h0.7v0.7h-0.7zM630.4 27.7h0.7v0.7h-0.7zM650.9 18.1h0.7v0.7h-0.7zM643.4 18.3h0.7v0.7h-0.7zM644.4 20.0h0.7v0.7h-0.7zM656.8 21.8h0.7v0.7h-0.7zM643.7 21.1h0.7v0.7h-0.7zM655.1 18.1h0.7v0.7h-0.7zM637.1 20.7h0.7v0.7h-0.7zM650.4 22.5h0.7v0.7h-0.7zM653.9 21.9h0.7v0.7h-0.7zM631.8 23.5h0.7v0.7h-0.7zM630.6 19.8h0.7v0.7h-0.7zM643.7 24.9h0.7v0.7h-0.7zM634.4 20.2h0.7v0.7h-0.7zM643.6 23.3h0.7v0.7h-0.7zM642.4 26.1h0.7v0.7h-0.7zM632.2 18.1h0.7v0.7h-0.7zM629.9 27.5h0.7v0.7h-0.7zM649.1 19.8h0.7v0.7h-0.7zM637.9 21.7h0.7v0.7h-0.7zM655.7 22.9h0.7v0.7h-0.7zM649.4 19.0h0.7v0.7h-0.7zM629.2 20.7h0.7v0.7h-0.7zM647.2 23.4h0.7v0.7h-0.7z" fill="#2a3578"/>
<path d="M637.3 63.5h0.7v0.7h-0.7zM633.0 66.0h0.7v0.7h-0.7zM639.2 64.4h0.7v0.7h-0.7zM620.9 57.6h0.7v0.7h-0.7zM622.1 60.6h0.7v0.7h-0.7zM629.6 53.3h0.7v0.7h-0.7zM620.7 58.5h0.7v0.7h-0.7zM632.1 57.7h0.7v0.7h-0.7zM628.9 60.9h0.7v0.7h-0.7zM633.7 61.9h0.7v0.7h-0.7zM627.7 54.4h0.7v0.7h-0.7zM637.3 52.6h0.7v0.7h-0.7zM623.3 54.7h0.7v0.7h-0.7zM631.5 60.7h0.7v0.7h-0.7z" fill="#d7263d"/>
<path d="M622.5 59.2h0.7v0.7h-0.7zM634.4 61.6h0.7v0.7h-0.7zM621.8 62.2h0.7v0.7h-0.7zM626.8 57.4h0.7v0.7h-0.7zM623.1 63.8h0.7v0.7h-0.7zM635.5 63.4h0.7v0.7h-0.7zM632.9 53.5h0.7v0.7h-0.7zM630.0 53.1h0.7v0.7h-0.7zM622.5 63.3h0.7v0.7h-0.7zM620.0 57.4h0.7v0.7h-0.7zM621.0 62.7h0.7v0.7h-0.7zM644.8 52.5h0.7v0.7h-0.7z" fill="#2a3578"/>
<defs><linearGradient id="g2" x1="0" y1="0" x2="0" y2="1"><stop offset="0" stop-color="#e4e2ee"/><stop offset="0.55" stop-color="#dcdaea"/><stop offset="0.7" stop-color="#f0d4da"/><stop offset="1" stop-color="#f2d6dc"/></linearGradient></defs>
<path d="M621.0,113.0C622.4,110.8 624.5,107.8 627.0,106.0C629.5,104.2 632.5,103.1 636.0,102.3C639.5,101.5 644.0,101.2 648.0,101.2C652.0,101.2 656.7,101.5 660.0,102.5C663.3,103.5 666.0,105.1 668.0,107.0C670.0,108.9 671.5,111.3 672.3,114.0C673.0,116.7 672.9,120.2 672.5,123.0C672.1,125.8 671.8,128.8 670.0,131.0C668.2,133.2 665.7,134.9 662.0,136.0C658.3,137.1 652.7,137.6 648.0,137.8C643.3,138.0 638.0,137.9 634.0,137.3C630.0,136.7 626.5,135.7 624.0,134.0C621.5,132.3 619.9,129.5 619.0,127.0C618.1,124.5 618.5,121.3 618.8,119.0C619.1,116.7 619.6,115.2 621.0,113.0Z" fill="url(#g2)"/>
<path d="M632.3 112.5h0.8v0.8h-0.8zM661.4 114.2h0.8v0.8h-0.8zM642.5 116.2h0.8v0.8h-0.8zM665.5 121.2h0.8v0.8h-0.8zM669.5 109.5h0.8v0.8h-0.8zM629.3 115.2h0.8v0.8h-0.8zM643.0 108.4h0.8v0.8h-0.8zM634.3 109.5h0.8v0.8h-0.8zM634.0 115.7h0.8v0.8h-0.8zM629.3 115.1h0.8v0.8h-0.8zM669.9 117.9h0.8v0.8h-0.8zM643.5 115.0h0.8v0.8h-0.8zM670.0 119.0h0.8v0.8h-0.8zM623.1 111.5h0.8v0.8h-0.8zM623.5 114.0h0.8v0.8h-0.8zM656.0 115.2h0.8v0.8h-0.8zM646.8 115.4h0.8v0.8h-0.8zM665.7 112.3h0.8v0.8h-0.8zM628.5 110.1h0.8v0.8h-0.8zM655.7 110.2h0.8v0.8h-0.8zM662.8 122.1h0.8v0.8h-0.8zM627.2 109.9h0.8v0.8h-0.8zM630.7 113.8h0.8v0.8h-0.8zM651.7 112.3h0.8v0.8h-0.8zM640.6 118.4h0.8v0.8h-0.8zM623.5 110.7h0.8v0.8h-0.8zM630.8 122.0h0.8v0.8h-0.8zM640.2 112.9h0.8v0.8h-0.8zM632.9 119.5h0.8v0.8h-0.8zM628.9 113.8h0.8v0.8h-0.8zM641.3 104.4h0.8v0.8h-0.8zM635.5 114.1h0.8v0.8h-0.8zM636.4 119.7h0.8v0.8h-0.8zM634.7 106.1h0.8v0.8h-0.8zM667.6 115.9h0.8v0.8h-0.8zM623.4 117.2h0.8v0.8h-0.8zM669.4 112.9h0.8v0.8h-0.8zM647.6 117.9h0.8v0.8h-0.8zM667.5 119.0h0.8v0.8h-0.8zM659.0 109.8h0.8v0.8h-0.8zM637.4 117.2h0.8v0.8h-0.8zM642.1 111.5h0.8v0.8h-0.8zM671.3 115.1h0.8v0.8h-0.8zM655.7 108.8h0.8v0.8h-0.8zM647.1 109.8h0.8v0.8h-0.8zM644.7 121.0h0.8v0.8h-0.8zM629.3 117.6h0.8v0.8h-0.8zM668.7 117.6h0.8v0.8h-0.8zM656.0 117.4h0.8v0.8h-0.8zM629.0 118.1h0.8v0.8h-0.8zM626.9 116.3h0.8v0.8h-0.8zM634.1 109.0h0.8v0.8h-0.8zM665.6 119.1h0.8v0.8h-0.8zM634.6 122.7h0.8v0.8h-0.8zM621.3 119.4h0.8v0.8h-0.8zM625.7 118.9h0.8v0.8h-0.8zM641.4 107.8h0.8v0.8h-0.8zM646.2 120.9h0.8v0.8h-0.8zM640.4 114.6h0.8v0.8h-0.8zM660.5 118.1h0.8v0.8h-0.8zM647.4 110.4h0.8v0.8h-0.8zM669.4 112.3h0.8v0.8h-0.8zM636.0 103.4h0.8v0.8h-0.8zM657.5 119.6h0.8v0.8h-0.8zM635.9 110.9h0.8v0.8h-0.8zM651.2 118.3h0.8v0.8h-0.8zM625.5 119.2h0.8v0.8h-0.8zM644.9 119.4h0.8v0.8h-0.8zM656.2 108.6h0.8v0.8h-0.8zM650.7 119.6h0.8v0.8h-0.8zM634.8 119.4h0.8v0.8h-0.8zM624.9 117.6h0.8v0.8h-0.8zM621.8 121.0h0.8v0.8h-0.8zM636.5 106.5h0.8v0.8h-0.8zM654.8 110.1h0.8v0.8h-0.8zM662.5 118.7h0.8v0.8h-0.8zM633.2 122.8h0.8v0.8h-0.8zM630.8 110.9h0.8v0.8h-0.8zM630.5 107.0h0.8v0.8h-0.8zM641.1 117.6h0.8v0.8h-0.8zM650.7 121.4h0.8v0.8h-0.8zM626.4 111.3h0.8v0.8h-0.8zM666.1 116.1h0.8v0.8h-0.8zM664.1 121.8h0.8v0.8h-0.8zM636.6 111.4h0.8v0.8h-0.8zM643.9 114.4h0.8v0.8h-0.8zM668.5 116.5h0.8v0.8h-0.8zM645.5 112.2h0.8v0.8h-0.8zM658.7 103.2h0.8v0.8h-0.8zM626.0 113.2h0.8v0.8h-0.8zM643.2 110.5h0.8v0.8h-0.8zM643.4 101.7h0.8v0.8h-0.8zM661.4 116.5h0.8v0.8h-0.8zM633.8 110.4h0.8v0.8h-0.8zM657.2 116.9h0.8v0.8h-0.8zM657.2 122.2h0.8v0.8h-0.8zM637.7 105.4h0.8v0.8h-0.8zM663.4 107.2h0.8v0.8h-0.8zM668.4 113.7h0.8v0.8h-0.8zM628.7 114.5h0.8v0.8h-0.8zM652.1 116.8h0.8v0.8h-0.8zM645.4 113.9h0.8v0.8h-0.8zM663.6 121.2h0.8v0.8h-0.8zM666.3 119.1h0.8v0.8h-0.8zM662.9 111.4h0.8v0.8h-0.8zM650.9 110.6h0.8v0.8h-0.8zM632.4 107.3h0.8v0.8h-0.8zM649.6 102.9h0.8v0.8h-0.8zM623.7 112.4h0.8v0.8h-0.8zM635.1 119.5h0.8v0.8h-0.8zM623.9 116.9h0.8v0.8h-0.8zM626.3 113.5h0.8v0.8h-0.8zM637.3 105.4h0.8v0.8h-0.8zM635.3 120.2h0.8v0.8h-0.8zM647.1 116.0h0.8v0.8h-0.8zM671.9 115.9h0.8v0.8h-0.8zM661.6 119.8h0.8v0.8h-0.8zM646.0 116.0h0.8v0.8h-0.8zM657.4 106.9h0.8v0.8h-0.8zM644.3 108.5h0.8v0.8h-0.8zM632.9 115.9h0.8v0.8h-0.8zM660.6 110.7h0.8v0.8h-0.8zM634.4 111.2h0.8v0.8h-0.8zM653.1 115.2h0.8v0.8h-0.8zM665.0 109.0h0.8v0.8h-0.8zM647.9 117.6h0.8v0.8h-0.8zM634.0 104.3h0.8v0.8h-0.8zM643.6 105.9h0.8v0.8h-0.8zM643.4 107.4h0.8v0.8h-0.8zM642.7 106.2h0.8v0.8h-0.8zM655.0 105.9h0.8v0.8h-0.8zM664.3 114.8h0.8v0.8h-0.8zM623.2 116.9h0.8v0.8h-0.8zM652.2 114.4h0.8v0.8h-0.8zM657.9 112.6h0.8v0.8h-0.8zM641.3 120.7h0.8v0.8h-0.8zM639.4 108.0h0.8v0.8h-0.8zM650.4 105.6h0.8v0.8h-0.8zM627.8 116.5h0.8v0.8h-0.8zM653.2 103.9h0.8v0.8h-0.8zM659.4 117.0h0.8v0.8h-0.8zM639.4 121.6h0.8v0.8h-0.8zM637.8 120.0h0.8v0.8h-0.8zM631.2 113.5h0.8v0.8h-0.8zM624.7 110.8h0.8v0.8h-0.8zM626.6 106.8h0.8v0.8h-0.8zM670.5 120.7h0.8v0.8h-0.8zM623.6 118.2h0.8v0.8h-0.8zM623.9 114.5h0.8v0.8h-0.8zM621.1 122.8h0.8v0.8h-0.8zM628.5 109.4h0.8v0.8h-0.8zM636.1 110.2h0.8v0.8h-0.8zM634.7 109.4h0.8v0.8h-0.8zM637.3 122.8h0.8v0.8h-0.8zM649.5 112.7h0.8v0.8h-0.8zM630.1 116.2h0.8v0.8h-0.8zM657.3 102.8h0.8v0.8h-0.8zM625.1 116.7h0.8v0.8h-0.8zM625.8 112.2h0.8v0.8h-0.8zM621.6 120.9h0.8v0.8h-0.8zM623.7 110.1h0.8v0.8h-0.8zM660.5 111.9h0.8v0.8h-0.8zM668.9 110.2h0.8v0.8h-0.8zM668.1 113.0h0.8v0.8h-0.8zM625.6 119.5h0.8v0.8h-0.8zM649.7 121.6h0.8v0.8h-0.8zM646.8 109.8h0.8v0.8h-0.8zM661.6 116.9h0.8v0.8h-0.8zM645.3 101.8h0.8v0.8h-0.8zM620.1 121.4h0.8v0.8h-0.8zM644.3 120.1h0.8v0.8h-0.8zM664.4 111.6h0.8v0.8h-0.8zM671.0 112.0h0.8v0.8h-0.8zM628.4 116.3h0.8v0.8h-0.8zM658.9 113.7h0.8v0.8h-0.8zM633.2 104.3h0.8v0.8h-0.8zM652.5 116.2h0.8v0.8h-0.8zM629.5 112.9h0.8v0.8h-0.8zM635.9 105.8h0.8v0.8h-0.8zM650.6 106.9h0.8v0.8h-0.8zM630.4 114.4h0.8v0.8h-0.8zM669.2 113.3h0.8v0.8h-0.8zM669.1 117.9h0.8v0.8h-0.8zM657.6 118.4h0.8v0.8h-0.8zM632.5 108.5h0.8v0.8h-0.8zM649.6 102.0h0.8v0.8h-0.8zM634.8 117.4h0.8v0.8h-0.8zM635.8 122.3h0.8v0.8h-0.8zM663.1 110.2h0.8v0.8h-0.8zM651.1 105.4h0.8v0.8h-0.8zM642.7 108.1h0.8v0.8h-0.8zM658.4 122.7h0.8v0.8h-0.8zM662.3 108.2h0.8v0.8h-0.8zM647.8 111.1h0.8v0.8h-0.8zM628.9 109.2h0.8v0.8h-0.8zM642.0 107.6h0.8v0.8h-0.8zM628.3 112.4h0.8v0.8h-0.8zM647.0 119.2h0.8v0.8h-0.8zM652.4 107.7h0.8v0.8h-0.8zM638.7 117.3h0.8v0.8h-0.8zM622.3 112.4h0.8v0.8h-0.8zM633.1 103.9h0.8v0.8h-0.8zM649.5 106.9h0.8v0.8h-0.8zM638.9 117.2h0.8v0.8h-0.8zM649.5 108.0h0.8v0.8h-0.8zM640.4 105.5h0.8v0.8h-0.8zM664.1 109.5h0.8v0.8h-0.8zM646.1 122.4h0.8v0.8h-0.8zM621.0 121.2h0.8v0.8h-0.8zM661.9 109.9h0.8v0.8h-0.8zM648.9 114.3h0.8v0.8h-0.8zM642.1 106.6h0.8v0.8h-0.8zM628.1 112.0h0.8v0.8h-0.8zM649.0 103.4h0.8v0.8h-0.8zM635.5 106.6h0.8v0.8h-0.8zM647.5 108.6h0.8v0.8h-0.8zM663.6 115.5h0.8v0.8h-0.8zM649.0 113.3h0.8v0.8h-0.8zM631.1 108.0h0.8v0.8h-0.8zM651.9 115.5h0.8v0.8h-0.8zM661.2 115.4h0.8v0.8h-0.8zM651.0 110.1h0.8v0.8h-0.8zM663.7 105.2h0.8v0.8h-0.8zM628.3 118.6h0.8v0.8h-0.8zM633.8 105.9h0.8v0.8h-0.8zM641.8 106.1h0.8v0.8h-0.8zM621.2 116.5h0.8v0.8h-0.8zM626.8 118.8h0.8v0.8h-0.8zM637.6 103.7h0.8v0.8h-0.8zM650.3 116.4h0.8v0.8h-0.8zM648.7 119.5h0.8v0.8h-0.8zM649.4 112.9h0.8v0.8h-0.8zM662.6 120.2h0.8v0.8h-0.8zM631.5 122.6h0.8v0.8h-0.8zM660.6 119.4h0.8v0.8h-0.8zM636.2 121.1h0.8v0.8h-0.8zM655.9 107.9h0.8v0.8h-0.8zM666.4 116.2h0.8v0.8h-0.8zM641.3 120.2h0.8v0.8h-0.8zM659.6 107.5h0.8v0.8h-0.8zM628.7 119.1h0.8v0.8h-0.8zM619.6 117.1h0.8v0.8h-0.8zM625.7 108.5h0.8v0.8h-0.8zM651.7 111.5h0.8v0.8h-0.8zM653.1 119.9h0.8v0.8h-0.8zM646.4 115.1h0.8v0.8h-0.8zM642.3 121.1h0.8v0.8h-0.8zM650.1 120.5h0.8v0.8h-0.8zM624.2 115.0h0.8v0.8h-0.8zM654.8 106.2h0.8v0.8h-0.8zM664.3 115.0h0.8v0.8h-0.8zM638.5 120.6h0.8v0.8h-0.8zM669.6 114.4h0.8v0.8h-0.8zM640.2 108.9h0.8v0.8h-0.8zM623.3 115.6h0.8v0.8h-0.8zM643.2 116.0h0.8v0.8h-0.8zM659.5 109.2h0.8v0.8h-0.8zM638.1 109.7h0.8v0.8h-0.8zM628.8 118.8h0.8v0.8h-0.8zM660.2 113.9h0.8v0.8h-0.8zM667.5 114.8h0.8v0.8h-0.8zM646.2 117.8h0.8v0.8h-0.8zM664.7 113.3h0.8v0.8h-0.8zM631.7 114.7h0.8v0.8h-0.8zM671.8 113.5h0.8v0.8h-0.8zM651.9 109.7h0.8v0.8h-0.8zM665.4 121.2h0.8v0.8h-0.8zM670.0 113.3h0.8v0.8h-0.8zM634.0 108.5h0.8v0.8h-0.8zM644.9 118.7h0.8v0.8h-0.8zM636.3 115.8h0.8v0.8h-0.8zM641.5 113.9h0.8v0.8h-0.8zM641.0 118.1h0.8v0.8h-0.8zM632.2 108.8h0.8v0.8h-0.8zM635.6 109.0h0.8v0.8h-0.8zM652.4 122.0h0.8v0.8h-0.8zM670.9 120.5h0.8v0.8h-0.8zM651.9 120.6h0.8v0.8h-0.8zM644.4 113.7h0.8v0.8h-0.8zM635.4 113.4h0.8v0.8h-0.8zM646.1 117.5h0.8v0.8h-0.8zM671.8 122.5h0.8v0.8h-0.8zM651.5 122.5h0.8v0.8h-0.8zM643.0 118.0h0.8v0.8h-0.8zM644.5 113.9h0.8v0.8h-0.8zM636.8 122.4h0.8v0.8h-0.8zM648.7 120.7h0.8v0.8h-0.8zM646.7 111.4h0.8v0.8h-0.8zM658.6 113.1h0.8v0.8h-0.8zM670.1 121.6h0.8v0.8h-0.8zM628.2 115.7h0.8v0.8h-0.8zM669.7 114.7h0.8v0.8h-0.8zM659.8 114.3h0.8v0.8h-0.8zM635.5 119.4h0.8v0.8h-0.8zM652.6 121.5h0.8v0.8h-0.8zM671.1 114.0h0.8v0.8h-0.8zM630.3 116.1h0.8v0.8h-0.8zM656.0 107.3h0.8v0.8h-0.8zM662.6 113.9h0.8v0.8h-0.8zM662.8 110.7h0.8v0.8h-0.8zM639.9 112.3h0.8v0.8h-0.8zM647.3 120.9h0.8v0.8h-0.8zM634.5 122.7h0.8v0.8h-0.8zM670.1 117.9h0.8v0.8h-0.8zM643.7 122.6h0.8v0.8h-0.8zM630.3 119.0h0.8v0.8h-0.8zM635.3 105.7h0.8v0.8h-0.8zM655.8 105.8h0.8v0.8h-0.8zM632.7 104.5h0.8v0.8h-0.8zM669.6 115.2h0.8v0.8h-0.8zM630.0 121.0h0.8v0.8h-0.8zM656.1 104.5h0.8v0.8h-0.8zM662.8 121.9h0.8v0.8h-0.8zM652.2 109.3h0.8v0.8h-0.8zM631.3 114.9h0.8v0.8h-0.8zM626.4 106.8h0.8v0.8h-0.8zM646.6 118.9h0.8v0.8h-0.8zM652.9 120.2h0.8v0.8h-0.8zM633.5 116.5h0.8v0.8h-0.8zM667.7 116.7h0.8v0.8h-0.8zM625.3 111.2h0.8v0.8h-0.8zM645.6 105.3h0.8v0.8h-0.8zM650.4 102.0h0.8v0.8h-0.8zM636.3 106.9h0.8v0.8h-0.8zM633.5 109.5h0.8v0.8h-0.8zM648.7 111.2h0.8v0.8h-0.8zM642.8 104.2h0.8v0.8h-0.8zM639.6 111.5h0.8v0.8h-0.8zM661.7 110.0h0.8v0.8h-0.8zM641.2 102.9h0.8v0.8h-0.8zM647.5 105.2h0.8v0.8h-0.8zM666.9 111.2h0.8v0.8h-0.8zM637.3 113.7h0.8v0.8h-0.8zM652.8 112.3h0.8v0.8h-0.8zM633.6 106.1h0.8v0.8h-0.8zM664.2 122.9h0.8v0.8h-0.8zM629.7 115.7h0.8v0.8h-0.8zM654.1 113.6h0.8v0.8h-0.8zM656.9 111.1h0.8v0.8h-0.8zM660.5 110.2h0.8v0.8h-0.8zM659.3 121.1h0.8v0.8h-0.8zM652.5 104.7h0.8v0.8h-0.8zM647.1 104.6h0.8v0.8h-0.8zM639.4 117.1h0.8v0.8h-0.8zM652.3 121.7h0.8v0.8h-0.8zM655.6 114.0h0.8v0.8h-0.8zM622.0 118.8h0.8v0.8h-0.8zM637.1 113.7h0.8v0.8h-0.8zM643.3 121.3h0.8v0.8h-0.8zM625.1 121.6h0.8v0.8h-0.8zM652.8 105.7h0.8v0.8h-0.8zM637.0 111.0h0.8v0.8h-0.8zM648.5 104.1h0.8v0.8h-0.8zM671.6 115.4h0.8v0.8h-0.8zM642.4 114.9h0.8v0.8h-0.8zM652.2 112.4h0.8v0.8h-0.8zM653.4 119.4h0.8v0.8h-0.8zM658.5 111.5h0.8v0.8h-0.8zM635.6 116.2h0.8v0.8h-0.8zM621.8 116.6h0.8v0.8h-0.8zM636.7 113.1h0.8v0.8h-0.8zM630.5 110.4h0.8v0.8h-0.8zM643.2 121.2h0.8v0.8h-0.8zM650.9 107.4h0.8v0.8h-0.8zM630.3 116.9h0.8v0.8h-0.8zM661.0 122.4h0.8v0.8h-0.8zM649.9 106.7h0.8v0.8h-0.8zM621.8 120.4h0.8v0.8h-0.8zM668.1 113.2h0.8v0.8h-0.8zM653.1 105.0h0.8v0.8h-0.8zM658.5 117.0h0.8v0.8h-0.8zM634.3 105.5h0.8v0.8h-0.8zM646.3 122.0h0.8v0.8h-0.8zM641.2 121.9h0.8v0.8h-0.8zM648.9 112.9h0.8v0.8h-0.8zM638.5 107.2h0.8v0.8h-0.8zM631.1 122.7h0.8v0.8h-0.8zM639.7 107.8h0.8v0.8h-0.8zM658.7 106.1h0.8v0.8h-0.8zM633.9 119.9h0.8v0.8h-0.8zM629.4 122.5h0.8v0.8h-0.8zM644.3 109.4h0.8v0.8h-0.8zM669.9 113.5h0.8v0.8h-0.8zM649.5 102.5h0.8v0.8h-0.8zM635.3 116.9h0.8v0.8h-0.8zM663.1 105.3h0.8v0.8h-0.8zM648.9 109.9h0.8v0.8h-0.8zM647.1 115.5h0.8v0.8h-0.8zM633.1 117.9h0.8v0.8h-0.8zM643.5 105.8h0.8v0.8h-0.8zM658.6 107.2h0.8v0.8h-0.8zM668.4 120.2h0.8v0.8h-0.8zM639.3 114.7h0.8v0.8h-0.8zM637.0 111.3h0.8v0.8h-0.8zM643.7 109.4h0.8v0.8h-0.8zM629.0 107.5h0.8v0.8h-0.8zM647.3 103.2h0.8v0.8h-0.8zM640.5 108.6h0.8v0.8h-0.8zM664.9 121.5h0.8v0.8h-0.8zM645.3 118.3h0.8v0.8h-0.8zM665.9 110.8h0.8v0.8h-0.8zM642.0 105.2h0.8v0.8h-0.8zM656.7 118.0h0.8v0.8h-0.8zM635.7 109.0h0.8v0.8h-0.8zM641.9 111.8h0.8v0.8h-0.8zM645.1 122.1h0.8v0.8h-0.8zM640.6 122.9h0.8v0.8h-0.8zM641.0 119.4h0.8v0.8h-0.8zM666.8 122.6h0.8v0.8h-0.8zM659.5 112.3h0.8v0.8h-0.8zM627.5 112.7h0.8v0.8h-0.8zM630.5 106.0h0.8v0.8h-0.8zM660.2 122.2h0.8v0.8h-0.8zM627.4 113.9h0.8v0.8h-0.8zM626.9 111.1h0.8v0.8h-0.8zM629.0 115.3h0.8v0.8h-0.8zM663.5 105.6h0.8v0.8h-0.8zM655.2 102.1h0.8v0.8h-0.8zM635.5 103.1h0.8v0.8h-0.8zM646.2 105.8h0.8v0.8h-0.8zM654.2 116.1h0.8v0.8h-0.8zM662.3 113.1h0.8v0.8h-0.8zM623.2 119.5h0.8v0.8h-0.8zM632.0 117.1h0.8v0.8h-0.8zM631.5 115.4h0.8v0.8h-0.8zM660.0 121.6h0.8v0.8h-0.8zM624.6 114.4h0.8v0.8h-0.8zM620.1 117.9h0.8v0.8h-0.8zM631.2 112.2h0.8v0.8h-0.8zM625.9 116.9h0.8v0.8h-0.8z" fill="#2a3578"/>
<path d="M657.8 111.0h0.8v0.8h-0.8zM625.9 121.3h0.8v0.8h-0.8zM663.5 109.4h0.8v0.8h-0.8zM659.9 114.5h0.8v0.8h-0.8zM650.5 115.4h0.8v0.8h-0.8zM644.6 121.9h0.8v0.8h-0.8zM645.4 102.1h0.8v0.8h-0.8zM659.5 105.0h0.8v0.8h-0.8zM649.3 110.5h0.8v0.8h-0.8zM631.1 118.9h0.8v0.8h-0.8zM668.6 115.7h0.8v0.8h-0.8zM629.9 120.4h0.8v0.8h-0.8zM635.7 104.1h0.8v0.8h-0.8zM662.2 117.9h0.8v0.8h-0.8zM664.1 105.0h0.8v0.8h-0.8zM636.9 105.5h0.8v0.8h-0.8zM664.2 117.6h0.8v0.8h-0.8zM651.3 103.1h0.8v0.8h-0.8zM642.4 115.4h0.8v0.8h-0.8zM656.6 109.8h0.8v0.8h-0.8zM671.7 113.2h0.8v0.8h-0.8zM646.4 118.4h0.8v0.8h-0.8zM637.2 103.3h0.8v0.8h-0.8zM626.0 108.3h0.8v0.8h-0.8zM636.0 102.4h0.8v0.8h-0.8zM637.2 111.5h0.8v0.8h-0.8zM635.3 103.8h0.8v0.8h-0.8zM662.7 114.8h0.8v0.8h-0.8zM662.5 104.8h0.8v0.8h-0.8zM643.7 116.9h0.8v0.8h-0.8zM664.3 113.5h0.8v0.8h-0.8zM648.7 115.5h0.8v0.8h-0.8zM658.8 117.1h0.8v0.8h-0.8zM634.9 119.1h0.8v0.8h-0.8zM631.9 104.7h0.8v0.8h-0.8zM661.5 115.7h0.8v0.8h-0.8zM655.4 108.9h0.8v0.8h-0.8zM638.3 115.7h0.8v0.8h-0.8zM666.4 110.9h0.8v0.8h-0.8zM657.1 105.1h0.8v0.8h-0.8zM643.4 101.6h0.8v0.8h-0.8zM642.0 108.3h0.8v0.8h-0.8zM668.9 112.4h0.8v0.8h-0.8zM636.7 116.5h0.8v0.8h-0.8zM653.6 111.9h0.8v0.8h-0.8zM626.6 108.8h0.8v0.8h-0.8zM646.2 105.8h0.8v0.8h-0.8zM648.1 109.7h0.8v0.8h-0.8zM663.8 119.3h0.8v0.8h-0.8zM629.4 108.9h0.8v0.8h-0.8zM651.8 121.2h0.8v0.8h-0.8zM641.5 119.4h0.8v0.8h-0.8zM630.0 116.5h0.8v0.8h-0.8zM656.7 105.0h0.8v0.8h-0.8zM630.1 118.9h0.8v0.8h-0.8zM660.3 111.3h0.8v0.8h-0.8zM658.4 109.6h0.8v0.8h-0.8zM648.4 102.1h0.8v0.8h-0.8zM644.0 121.0h0.8v0.8h-0.8zM625.5 114.8h0.8v0.8h-0.8zM644.9 118.5h0.8v0.8h-0.8zM668.3 115.4h0.8v0.8h-0.8zM666.9 111.9h0.8v0.8h-0.8zM658.8 106.9h0.8v0.8h-0.8zM658.8 106.8h0.8v0.8h-0.8zM670.7 112.3h0.8v0.8h-0.8zM664.6 107.2h0.8v0.8h-0.8zM671.8 120.9h0.8v0.8h-0.8zM641.8 109.7h0.8v0.8h-0.8zM622.2 118.1h0.8v0.8h-0.8zM634.4 120.7h0.8v0.8h-0.8zM634.1 116.6h0.8v0.8h-0.8zM634.1 108.2h0.8v0.8h-0.8zM630.8 119.2h0.8v0.8h-0.8zM666.2 109.1h0.8v0.8h-0.8zM638.2 107.3h0.8v0.8h-0.8zM619.0 120.7h0.8v0.8h-0.8zM649.8 117.3h0.8v0.8h-0.8zM657.9 122.8h0.8v0.8h-0.8zM658.1 105.1h0.8v0.8h-0.8zM652.8 119.9h0.8v0.8h-0.8zM621.0 118.9h0.8v0.8h-0.8zM639.2 117.2h0.8v0.8h-0.8zM638.6 104.7h0.8v0.8h-0.8zM646.6 114.0h0.8v0.8h-0.8zM641.2 106.3h0.8v0.8h-0.8zM636.1 105.3h0.8v0.8h-0.8zM628.1 118.0h0.8v0.8h-0.8zM653.5 117.4h0.8v0.8h-0.8zM647.2 117.9h0.8v0.8h-0.8zM640.8 122.2h0.8v0.8h-0.8zM640.0 112.0h0.8v0.8h-0.8zM627.1 118.5h0.8v0.8h-0.8zM645.7 104.6h0.8v0.8h-0.8zM634.1 116.2h0.8v0.8h-0.8zM630.5 109.5h0.8v0.8h-0.8zM633.1 116.0h0.8v0.8h-0.8zM661.1 117.0h0.8v0.8h-0.8zM652.3 102.1h0.8v0.8h-0.8zM661.4 105.1h0.8v0.8h-0.8zM641.0 112.1h0.8v0.8h-0.8zM629.8 106.1h0.8v0.8h-0.8zM648.9 117.2h0.8v0.8h-0.8zM635.8 106.7h0.8v0.8h-0.8zM656.7 102.3h0.8v0.8h-0.8zM634.5 104.2h0.8v0.8h-0.8zM664.2 121.4h0.8v0.8h-0.8zM632.3 105.4h0.8v0.8h-0.8zM653.8 102.9h0.8v0.8h-0.8zM661.9 110.6h0.8v0.8h-0.8zM647.2 103.2h0.8v0.8h-0.8zM629.3 107.0h0.8v0.8h-0.8zM637.9 114.1h0.8v0.8h-0.8zM636.7 113.0h0.8v0.8h-0.8zM660.4 121.5h0.8v0.8h-0.8zM642.2 116.5h0.8v0.8h-0.8zM649.3 103.3h0.8v0.8h-0.8zM645.4 104.2h0.8v0.8h-0.8zM625.3 108.9h0.8v0.8h-0.8zM654.5 121.1h0.8v0.8h-0.8zM640.6 116.1h0.8v0.8h-0.8zM630.9 116.2h0.8v0.8h-0.8zM631.6 108.5h0.8v0.8h-0.8zM637.9 122.9h0.8v0.8h-0.8zM662.8 121.7h0.8v0.8h-0.8zM638.3 117.1h0.8v0.8h-0.8zM633.7 106.3h0.8v0.8h-0.8zM638.8 112.8h0.8v0.8h-0.8zM625.2 111.0h0.8v0.8h-0.8zM653.2 114.0h0.8v0.8h-0.8z" fill="#d7263d"/>
<path d="M638.3 136.9h0.8v0.8h-0.8zM639.5 125.7h0.8v0.8h-0.8zM656.0 136.5h0.8v0.8h-0.8zM639.2 123.4h0.8v0.8h-0.8zM626.6 129.4h0.8v0.8h-0.8zM668.3 128.7h0.8v0.8h-0.8zM653.9 129.6h0.8v0.8h-0.8zM657.4 131.6h0.8v0.8h-0.8zM660.5 124.6h0.8v0.8h-0.8zM665.5 124.7h0.8v0.8h-0.8zM649.1 132.5h0.8v0.8h-0.8zM645.0 131.2h0.8v0.8h-0.8zM628.8 129.7h0.8v0.8h-0.8zM643.7 127.4h0.8v0.8h-0.8zM646.9 132.3h0.8v0.8h-0.8zM632.2 130.8h0.8v0.8h-0.8zM641.4 133.9h0.8v0.8h-0.8zM655.8 135.0h0.8v0.8h-0.8zM630.3 133.0h0.8v0.8h-0.8zM624.8 124.4h0.8v0.8h-0.8zM665.6 128.5h0.8v0.8h-0.8zM662.3 130.2h0.8v0.8h-0.8zM658.0 133.0h0.8v0.8h-0.8zM647.8 133.7h0.8v0.8h-0.8zM662.8 130.2h0.8v0.8h-0.8zM642.3 128.2h0.8v0.8h-0.8zM659.7 126.7h0.8v0.8h-0.8zM638.2 127.3h0.8v0.8h-0.8zM667.1 132.3h0.8v0.8h-0.8zM659.6 128.2h0.8v0.8h-0.8zM640.2 129.3h0.8v0.8h-0.8zM648.5 125.0h0.8v0.8h-0.8zM636.7 130.4h0.8v0.8h-0.8zM628.9 125.3h0.8v0.8h-0.8zM670.7 123.1h0.8v0.8h-0.8zM646.3 123.8h0.8v0.8h-0.8zM654.0 123.2h0.8v0.8h-0.8zM651.4 135.2h0.8v0.8h-0.8zM644.6 123.5h0.8v0.8h-0.8zM639.2 127.2h0.8v0.8h-0.8zM622.6 129.1h0.8v0.8h-0.8zM655.5 129.1h0.8v0.8h-0.8zM666.7 131.6h0.8v0.8h-0.8zM645.5 132.3h0.8v0.8h-0.8zM652.3 132.8h0.8v0.8h-0.8zM628.4 124.7h0.8v0.8h-0.8zM624.0 131.4h0.8v0.8h-0.8zM634.9 136.1h0.8v0.8h-0.8zM655.4 123.7h0.8v0.8h-0.8zM644.1 132.5h0.8v0.8h-0.8zM641.1 136.2h0.8v0.8h-0.8zM661.5 134.0h0.8v0.8h-0.8zM669.1 128.0h0.8v0.8h-0.8zM669.3 130.7h0.8v0.8h-0.8zM653.6 126.5h0.8v0.8h-0.8zM635.8 123.1h0.8v0.8h-0.8zM662.4 127.9h0.8v0.8h-0.8zM627.0 126.7h0.8v0.8h-0.8zM642.4 124.4h0.8v0.8h-0.8zM646.6 125.5h0.8v0.8h-0.8zM656.2 131.2h0.8v0.8h-0.8zM656.2 133.7h0.8v0.8h-0.8zM643.2 126.7h0.8v0.8h-0.8zM627.4 132.4h0.8v0.8h-0.8zM648.4 136.4h0.8v0.8h-0.8zM625.3 134.1h0.8v0.8h-0.8zM647.2 127.5h0.8v0.8h-0.8zM660.8 125.9h0.8v0.8h-0.8zM636.3 135.0h0.8v0.8h-0.8zM645.4 129.3h0.8v0.8h-0.8zM659.4 126.2h0.8v0.8h-0.8zM656.5 126.6h0.8v0.8h-0.8zM629.6 133.9h0.8v0.8h-0.8zM640.6 135.8h0.8v0.8h-0.8zM637.6 132.2h0.8v0.8h-0.8zM651.0 128.8h0.8v0.8h-0.8zM665.2 130.0h0.8v0.8h-0.8zM640.1 130.0h0.8v0.8h-0.8zM647.9 125.2h0.8v0.8h-0.8zM631.6 129.5h0.8v0.8h-0.8zM659.9 132.3h0.8v0.8h-0.8zM627.7 127.8h0.8v0.8h-0.8zM637.7 129.7h0.8v0.8h-0.8zM655.5 130.9h0.8v0.8h-0.8zM629.3 132.9h0.8v0.8h-0.8zM646.8 124.5h0.8v0.8h-0.8zM643.9 127.2h0.8v0.8h-0.8zM645.9 131.8h0.8v0.8h-0.8zM624.9 127.6h0.8v0.8h-0.8zM642.6 123.3h0.8v0.8h-0.8zM662.6 135.3h0.8v0.8h-0.8zM670.7 125.8h0.8v0.8h-0.8zM653.5 134.6h0.8v0.8h-0.8zM650.1 128.2h0.8v0.8h-0.8zM644.2 130.3h0.8v0.8h-0.8zM626.1 132.1h0.8v0.8h-0.8zM632.1 134.2h0.8v0.8h-0.8zM642.7 129.1h0.8v0.8h-0.8zM633.7 126.4h0.8v0.8h-0.8zM671.0 124.7h0.8v0.8h-0.8zM623.4 132.9h0.8v0.8h-0.8zM659.6 123.5h0.8v0.8h-0.8zM648.5 131.7h0.8v0.8h-0.8zM669.1 129.8h0.8v0.8h-0.8zM649.0 127.9h0.8v0.8h-0.8zM669.6 123.1h0.8v0.8h-0.8zM648.0 126.8h0.8v0.8h-0.8zM665.2 129.0h0.8v0.8h-0.8zM644.1 135.2h0.8v0.8h-0.8zM669.7 128.5h0.8v0.8h-0.8zM623.3 124.9h0.8v0.8h-0.8zM649.9 132.9h0.8v0.8h-0.8zM653.0 131.2h0.8v0.8h-0.8zM631.0 132.8h0.8v0.8h-0.8zM624.4 132.7h0.8v0.8h-0.8zM630.8 129.4h0.8v0.8h-0.8zM656.8 132.4h0.8v0.8h-0.8zM632.8 129.5h0.8v0.8h-0.8zM659.8 131.4h0.8v0.8h-0.8zM620.8 124.0h0.8v0.8h-0.8zM626.0 129.6h0.8v0.8h-0.8zM619.9 126.5h0.8v0.8h-0.8zM638.5 123.1h0.8v0.8h-0.8zM660.6 128.5h0.8v0.8h-0.8zM655.7 132.5h0.8v0.8h-0.8zM629.5 135.1h0.8v0.8h-0.8zM644.1 131.6h0.8v0.8h-0.8zM632.3 123.2h0.8v0.8h-0.8zM630.2 132.1h0.8v0.8h-0.8zM661.6 124.2h0.8v0.8h-0.8zM648.5 134.3h0.8v0.8h-0.8zM654.8 124.9h0.8v0.8h-0.8zM629.3 126.4h0.8v0.8h-0.8zM659.5 131.7h0.8v0.8h-0.8zM648.1 128.8h0.8v0.8h-0.8zM661.5 127.9h0.8v0.8h-0.8zM625.0 133.7h0.8v0.8h-0.8zM636.5 136.3h0.8v0.8h-0.8zM644.8 125.0h0.8v0.8h-0.8zM661.2 135.4h0.8v0.8h-0.8zM638.8 133.6h0.8v0.8h-0.8zM649.5 123.3h0.8v0.8h-0.8zM658.1 135.5h0.8v0.8h-0.8zM635.9 129.4h0.8v0.8h-0.8zM664.5 124.2h0.8v0.8h-0.8zM652.7 127.7h0.8v0.8h-0.8zM646.3 125.6h0.8v0.8h-0.8zM642.3 128.2h0.8v0.8h-0.8zM659.0 128.7h0.8v0.8h-0.8zM638.0 128.5h0.8v0.8h-0.8zM629.2 126.4h0.8v0.8h-0.8zM622.0 125.0h0.8v0.8h-0.8zM660.7 123.8h0.8v0.8h-0.8zM636.2 125.3h0.8v0.8h-0.8zM642.5 137.4h0.8v0.8h-0.8zM653.7 126.6h0.8v0.8h-0.8zM656.5 124.8h0.8v0.8h-0.8zM637.3 130.7h0.8v0.8h-0.8zM663.9 130.1h0.8v0.8h-0.8zM638.4 134.0h0.8v0.8h-0.8zM656.5 130.7h0.8v0.8h-0.8zM642.7 131.2h0.8v0.8h-0.8zM659.6 133.0h0.8v0.8h-0.8zM629.0 129.5h0.8v0.8h-0.8zM649.9 133.2h0.8v0.8h-0.8zM641.2 136.9h0.8v0.8h-0.8zM664.5 133.9h0.8v0.8h-0.8zM632.8 123.2h0.8v0.8h-0.8zM663.1 130.7h0.8v0.8h-0.8zM626.3 130.4h0.8v0.8h-0.8zM654.7 133.9h0.8v0.8h-0.8zM658.8 124.0h0.8v0.8h-0.8zM636.2 127.0h0.8v0.8h-0.8zM625.5 125.9h0.8v0.8h-0.8zM655.6 123.5h0.8v0.8h-0.8zM663.0 128.4h0.8v0.8h-0.8zM628.9 131.1h0.8v0.8h-0.8zM661.2 126.6h0.8v0.8h-0.8zM636.6 131.3h0.8v0.8h-0.8zM664.7 132.6h0.8v0.8h-0.8zM658.2 127.8h0.8v0.8h-0.8zM636.1 134.9h0.8v0.8h-0.8zM666.2 130.8h0.8v0.8h-0.8zM641.8 125.1h0.8v0.8h-0.8zM645.0 127.5h0.8v0.8h-0.8zM628.7 130.3h0.8v0.8h-0.8zM667.0 128.3h0.8v0.8h-0.8zM657.9 130.3h0.8v0.8h-0.8zM646.9 132.2h0.8v0.8h-0.8zM628.1 126.9h0.8v0.8h-0.8zM644.3 135.8h0.8v0.8h-0.8zM656.9 135.0h0.8v0.8h-0.8zM658.4 128.7h0.8v0.8h-0.8zM648.2 125.7h0.8v0.8h-0.8zM622.8 130.7h0.8v0.8h-0.8zM635.3 135.8h0.8v0.8h-0.8zM641.1 125.4h0.8v0.8h-0.8zM636.6 124.8h0.8v0.8h-0.8zM656.7 131.7h0.8v0.8h-0.8zM621.3 125.6h0.8v0.8h-0.8zM637.8 123.4h0.8v0.8h-0.8zM631.9 126.0h0.8v0.8h-0.8zM645.8 124.5h0.8v0.8h-0.8zM633.2 125.2h0.8v0.8h-0.8zM667.0 132.5h0.8v0.8h-0.8zM631.5 129.7h0.8v0.8h-0.8zM661.2 132.9h0.8v0.8h-0.8zM662.9 129.2h0.8v0.8h-0.8zM621.3 127.6h0.8v0.8h-0.8zM639.2 135.2h0.8v0.8h-0.8zM655.9 128.5h0.8v0.8h-0.8zM666.1 131.0h0.8v0.8h-0.8zM646.0 133.8h0.8v0.8h-0.8zM660.6 125.8h0.8v0.8h-0.8zM655.0 126.9h0.8v0.8h-0.8zM638.3 132.7h0.8v0.8h-0.8zM641.0 130.4h0.8v0.8h-0.8zM659.2 127.6h0.8v0.8h-0.8zM661.2 129.0h0.8v0.8h-0.8zM632.2 135.2h0.8v0.8h-0.8zM641.1 132.7h0.8v0.8h-0.8zM645.8 135.0h0.8v0.8h-0.8zM640.2 132.4h0.8v0.8h-0.8zM622.5 127.1h0.8v0.8h-0.8zM666.8 130.2h0.8v0.8h-0.8zM646.7 134.1h0.8v0.8h-0.8zM657.1 124.1h0.8v0.8h-0.8zM655.2 129.2h0.8v0.8h-0.8zM631.1 124.1h0.8v0.8h-0.8zM653.1 125.9h0.8v0.8h-0.8zM631.7 135.0h0.8v0.8h-0.8zM643.9 125.1h0.8v0.8h-0.8zM653.9 125.0h0.8v0.8h-0.8zM626.7 134.1h0.8v0.8h-0.8zM650.3 133.2h0.8v0.8h-0.8zM645.9 124.2h0.8v0.8h-0.8zM652.6 130.2h0.8v0.8h-0.8zM621.8 126.0h0.8v0.8h-0.8zM630.8 127.0h0.8v0.8h-0.8zM653.8 132.7h0.8v0.8h-0.8zM632.6 131.7h0.8v0.8h-0.8zM659.1 134.1h0.8v0.8h-0.8zM632.0 134.6h0.8v0.8h-0.8zM643.5 130.3h0.8v0.8h-0.8zM625.0 125.6h0.8v0.8h-0.8zM631.1 133.6h0.8v0.8h-0.8zM635.9 136.1h0.8v0.8h-0.8zM667.6 129.5h0.8v0.8h-0.8zM629.4 125.0h0.8v0.8h-0.8zM634.9 127.5h0.8v0.8h-0.8zM663.2 128.2h0.8v0.8h-0.8zM631.1 125.3h0.8v0.8h-0.8zM652.7 131.2h0.8v0.8h-0.8zM655.2 124.6h0.8v0.8h-0.8zM660.5 124.0h0.8v0.8h-0.8zM633.7 135.8h0.8v0.8h-0.8zM658.8 129.6h0.8v0.8h-0.8zM658.9 130.2h0.8v0.8h-0.8zM662.6 123.4h0.8v0.8h-0.8zM666.8 128.5h0.8v0.8h-0.8zM639.1 135.0h0.8v0.8h-0.8zM661.4 126.7h0.8v0.8h-0.8zM634.4 126.3h0.8v0.8h-0.8zM626.7 130.8h0.8v0.8h-0.8zM649.1 130.0h0.8v0.8h-0.8zM671.7 124.8h0.8v0.8h-0.8zM644.1 137.5h0.8v0.8h-0.8zM644.9 132.1h0.8v0.8h-0.8zM626.3 129.2h0.8v0.8h-0.8zM668.0 124.7h0.8v0.8h-0.8zM647.6 124.5h0.8v0.8h-0.8zM644.3 135.3h0.8v0.8h-0.8zM654.4 130.9h0.8v0.8h-0.8zM645.8 132.1h0.8v0.8h-0.8zM662.9 125.5h0.8v0.8h-0.8zM637.0 132.9h0.8v0.8h-0.8zM642.2 135.3h0.8v0.8h-0.8zM628.2 130.7h0.8v0.8h-0.8zM646.6 134.3h0.8v0.8h-0.8zM655.6 124.1h0.8v0.8h-0.8zM658.9 131.2h0.8v0.8h-0.8zM671.4 123.7h0.8v0.8h-0.8zM636.3 131.9h0.8v0.8h-0.8zM659.7 127.8h0.8v0.8h-0.8zM657.6 126.5h0.8v0.8h-0.8zM649.2 123.7h0.8v0.8h-0.8zM644.3 123.4h0.8v0.8h-0.8zM628.0 127.0h0.8v0.8h-0.8zM668.8 124.8h0.8v0.8h-0.8zM638.2 135.9h0.8v0.8h-0.8zM658.2 130.6h0.8v0.8h-0.8zM633.2 135.7h0.8v0.8h-0.8zM648.4 127.2h0.8v0.8h-0.8zM668.6 128.5h0.8v0.8h-0.8zM641.0 134.8h0.8v0.8h-0.8zM668.6 131.2h0.8v0.8h-0.8zM640.8 125.7h0.8v0.8h-0.8zM655.1 133.5h0.8v0.8h-0.8zM632.4 132.1h0.8v0.8h-0.8zM661.4 125.5h0.8v0.8h-0.8zM633.7 129.0h0.8v0.8h-0.8zM659.6 134.6h0.8v0.8h-0.8zM653.6 124.2h0.8v0.8h-0.8zM663.6 134.9h0.8v0.8h-0.8zM665.1 125.9h0.8v0.8h-0.8zM658.0 133.0h0.8v0.8h-0.8zM650.7 128.7h0.8v0.8h-0.8zM635.1 132.3h0.8v0.8h-0.8zM629.3 132.0h0.8v0.8h-0.8zM650.1 128.5h0.8v0.8h-0.8zM630.7 134.7h0.8v0.8h-0.8zM661.2 127.7h0.8v0.8h-0.8zM653.0 132.3h0.8v0.8h-0.8zM658.4 127.2h0.8v0.8h-0.8zM654.7 123.2h0.8v0.8h-0.8zM670.4 125.5h0.8v0.8h-0.8zM659.2 134.7h0.8v0.8h-0.8zM629.2 124.3h0.8v0.8h-0.8zM633.6 124.9h0.8v0.8h-0.8zM664.2 131.0h0.8v0.8h-0.8zM662.4 129.6h0.8v0.8h-0.8zM639.2 135.2h0.8v0.8h-0.8zM637.3 132.3h0.8v0.8h-0.8zM632.3 131.8h0.8v0.8h-0.8zM665.7 127.2h0.8v0.8h-0.8zM636.1 125.0h0.8v0.8h-0.8zM641.1 129.8h0.8v0.8h-0.8zM631.3 135.2h0.8v0.8h-0.8zM670.6 127.2h0.8v0.8h-0.8zM631.5 128.1h0.8v0.8h-0.8zM648.4 125.6h0.8v0.8h-0.8zM652.1 130.9h0.8v0.8h-0.8zM638.7 124.9h0.8v0.8h-0.8zM634.7 123.1h0.8v0.8h-0.8zM651.3 130.3h0.8v0.8h-0.8zM668.4 125.6h0.8v0.8h-0.8zM664.0 129.0h0.8v0.8h-0.8zM667.5 127.3h0.8v0.8h-0.8zM653.4 124.3h0.8v0.8h-0.8zM661.0 131.6h0.8v0.8h-0.8zM637.2 135.9h0.8v0.8h-0.8zM642.8 131.3h0.8v0.8h-0.8zM622.6 124.7h0.8v0.8h-0.8zM645.2 123.6h0.8v0.8h-0.8zM636.3 134.3h0.8v0.8h-0.8zM639.4 132.4h0.8v0.8h-0.8zM668.1 130.1h0.8v0.8h-0.8zM659.7 124.3h0.8v0.8h-0.8zM625.8 126.3h0.8v0.8h-0.8zM628.9 126.7h0.8v0.8h-0.8zM648.1 129.3h0.8v0.8h-0.8zM661.4 126.6h0.8v0.8h-0.8zM622.9 130.2h0.8v0.8h-0.8zM655.5 129.5h0.8v0.8h-0.8zM636.5 128.7h0.8v0.8h-0.8zM638.1 129.7h0.8v0.8h-0.8zM622.1 129.7h0.8v0.8h-0.8zM626.1 129.7h0.8v0.8h-0.8zM634.2 136.3h0.8v0.8h-0.8zM636.0 126.8h0.8v0.8h-0.8zM652.1 126.7h0.8v0.8h-0.8zM649.7 130.0h0.8v0.8h-0.8zM643.5 130.0h0.8v0.8h-0.8zM643.7 134.0h0.8v0.8h-0.8zM644.2 130.0h0.8v0.8h-0.8zM645.9 136.5h0.8v0.8h-0.8zM628.3 135.4h0.8v0.8h-0.8zM659.1 126.1h0.8v0.8h-0.8zM640.2 136.1h0.8v0.8h-0.8zM636.4 133.9h0.8v0.8h-0.8zM634.4 126.6h0.8v0.8h-0.8zM657.9 127.0h0.8v0.8h-0.8zM665.2 126.5h0.8v0.8h-0.8zM623.6 129.8h0.8v0.8h-0.8zM657.9 135.1h0.8v0.8h-0.8zM664.9 123.7h0.8v0.8h-0.8zM646.8 137.7h0.8v0.8h-0.8zM644.7 136.0h0.8v0.8h-0.8zM630.4 126.5h0.8v0.8h-0.8zM656.5 131.5h0.8v0.8h-0.8zM646.0 132.8h0.8v0.8h-0.8zM634.7 133.4h0.8v0.8h-0.8zM654.3 130.9h0.8v0.8h-0.8zM639.8 129.0h0.8v0.8h-0.8zM661.6 130.1h0.8v0.8h-0.8zM633.2 132.8h0.8v0.8h-0.8zM636.8 127.7h0.8v0.8h-0.8zM622.5 128.3h0.8v0.8h-0.8zM641.3 129.1h0.8v0.8h-0.8zM656.5 136.5h0.8v0.8h-0.8zM627.9 125.1h0.8v0.8h-0.8zM657.6 132.5h0.8v0.8h-0.8zM630.4 131.5h0.8v0.8h-0.8zM661.4 124.5h0.8v0.8h-0.8zM664.0 125.6h0.8v0.8h-0.8zM654.8 131.2h0.8v0.8h-0.8zM665.7 132.7h0.8v0.8h-0.8zM642.2 130.2h0.8v0.8h-0.8zM626.9 130.7h0.8v0.8h-0.8zM662.2 127.9h0.8v0.8h-0.8zM654.4 131.7h0.8v0.8h-0.8zM645.2 126.3h0.8v0.8h-0.8zM658.9 135.8h0.8v0.8h-0.8zM655.1 135.7h0.8v0.8h-0.8zM647.4 124.9h0.8v0.8h-0.8zM643.2 125.1h0.8v0.8h-0.8zM639.3 128.2h0.8v0.8h-0.8zM661.8 125.4h0.8v0.8h-0.8zM660.4 126.0h0.8v0.8h-0.8zM630.4 129.5h0.8v0.8h-0.8zM637.0 132.7h0.8v0.8h-0.8zM633.7 132.4h0.8v0.8h-0.8zM635.7 123.9h0.8v0.8h-0.8zM645.1 130.2h0.8v0.8h-0.8zM660.1 123.0h0.8v0.8h-0.8zM666.3 124.6h0.8v0.8h-0.8zM646.0 134.5h0.8v0.8h-0.8zM630.5 135.6h0.8v0.8h-0.8zM632.7 125.2h0.8v0.8h-0.8zM636.1 126.0h0.8v0.8h-0.8z" fill="#d7263d"/>
<path d="M637.2 131.9h0.8v0.8h-0.8zM669.4 123.9h0.8v0.8h-0.8zM647.0 125.0h0.8v0.8h-0.8zM661.4 135.7h0.8v0.8h-0.8zM653.1 131.4h0.8v0.8h-0.8zM640.6 130.7h0.8v0.8h-0.8zM628.5 133.6h0.8v0.8h-0.8zM646.1 132.9h0.8v0.8h-0.8zM625.3 123.5h0.8v0.8h-0.8zM634.3 135.9h0.8v0.8h-0.8zM645.5 127.4h0.8v0.8h-0.8zM638.1 124.8h0.8v0.8h-0.8zM632.7 127.8h0.8v0.8h-0.8zM639.0 129.2h0.8v0.8h-0.8zM642.7 123.4h0.8v0.8h-0.8zM641.2 135.4h0.8v0.8h-0.8zM633.0 134.4h0.8v0.8h-0.8zM623.5 130.3h0.8v0.8h-0.8zM627.9 133.1h0.8v0.8h-0.8zM631.8 136.2h0.8v0.8h-0.8zM637.2 128.2h0.8v0.8h-0.8zM668.8 127.9h0.8v0.8h-0.8zM662.0 131.3h0.8v0.8h-0.8zM632.9 130.9h0.8v0.8h-0.8zM644.5 125.9h0.8v0.8h-0.8zM655.2 130.5h0.8v0.8h-0.8zM655.7 126.3h0.8v0.8h-0.8zM664.5 131.1h0.8v0.8h-0.8zM668.1 131.4h0.8v0.8h-0.8zM632.4 128.5h0.8v0.8h-0.8zM637.7 128.8h0.8v0.8h-0.8zM649.6 126.7h0.8v0.8h-0.8zM650.2 127.7h0.8v0.8h-0.8zM639.9 131.6h0.8v0.8h-0.8zM650.6 127.6h0.8v0.8h-0.8zM645.6 135.1h0.8v0.8h-0.8zM655.0 136.0h0.8v0.8h-0.8zM622.5 129.7h0.8v0.8h-0.8zM629.6 135.2h0.8v0.8h-0.8zM620.6 126.8h0.8v0.8h-0.8zM647.1 128.5h0.8v0.8h-0.8zM641.4 134.2h0.8v0.8h-0.8zM668.5 130.4h0.8v0.8h-0.8zM630.6 135.4h0.8v0.8h-0.8zM631.7 125.0h0.8v0.8h-0.8zM631.7 135.3h0.8v0.8h-0.8zM669.6 127.8h0.8v0.8h-0.8zM641.3 133.7h0.8v0.8h-0.8zM659.6 129.7h0.8v0.8h-0.8zM633.8 125.6h0.8v0.8h-0.8z" fill="#2a3578"/>
<path d="M657.1 100.8h0.6v0.6h-0.6zM656.1 100.8h0.6v0.6h-0.6zM654.5 100.2h0.6v0.6h-0.6zM621.2 132.0h0.6v0.6h-0.6zM663.2 136.2h0.6v0.6h-0.6zM619.0 127.8h0.6v0.6h-0.6zM620.9 112.4h0.6v0.6h-0.6zM647.5 99.3h0.6v0.6h-0.6zM673.9 115.7h0.6v0.6h-0.6zM617.3 126.9h0.6v0.6h-0.6zM671.9 128.9h0.6v0.6h-0.6zM654.4 100.1h0.6v0.6h-0.6zM639.5 137.9h0.6v0.6h-0.6zM641.0 138.4h0.6v0.6h-0.6zM656.6 138.3h0.6v0.6h-0.6zM671.4 110.7h0.6v0.6h-0.6zM665.3 104.2h0.6v0.6h-0.6zM630.3 137.0h0.6v0.6h-0.6zM667.4 106.3h0.6v0.6h-0.6zM648.7 139.3h0.6v0.6h-0.6zM651.2 139.2h0.6v0.6h-0.6zM623.2 108.5h0.6v0.6h-0.6zM666.4 134.4h0.6v0.6h-0.6zM671.4 110.3h0.6v0.6h-0.6zM671.9 111.2h0.6v0.6h-0.6zM666.4 134.0h0.6v0.6h-0.6zM619.0 113.5h0.6v0.6h-0.6zM630.9 103.8h0.6v0.6h-0.6zM629.6 136.1h0.6v0.6h-0.6zM663.5 136.6h0.6v0.6h-0.6zM617.7 118.7h0.6v0.6h-0.6zM633.0 138.8h0.6v0.6h-0.6zM652.3 137.8h0.6v0.6h-0.6zM654.2 137.3h0.6v0.6h-0.6zM642.6 138.4h0.6v0.6h-0.6zM619.0 116.2h0.6v0.6h-0.6zM639.0 101.4h0.6v0.6h-0.6zM639.3 100.3h0.6v0.6h-0.6zM655.2 138.2h0.6v0.6h-0.6zM649.7 100.1h0.6v0.6h-0.6zM673.6 123.9h0.6v0.6h-0.6zM658.5 137.7h0.6v0.6h-0.6zM635.9 138.7h0.6v0.6h-0.6zM627.6 136.7h0.6v0.6h-0.6zM628.5 136.8h0.6v0.6h-0.6zM665.4 104.2h0.6v0.6h-0.6zM666.7 104.8h0.6v0.6h-0.6zM635.3 101.2h0.6v0.6h-0.6zM664.9 135.1h0.6v0.6h-0.6zM649.0 100.7h0.6v0.6h-0.6zM660.0 102.4h0.6v0.6h-0.6zM617.9 128.0h0.6v0.6h-0.6zM651.0 100.8h0.6v0.6h-0.6zM647.1 139.5h0.6v0.6h-0.6zM618.3 119.9h0.6v0.6h-0.6zM673.2 114.3h0.6v0.6h-0.6zM628.7 103.3h0.6v0.6h-0.6zM672.7 126.8h0.6v0.6h-0.6zM633.7 138.1h0.6v0.6h-0.6zM636.0 101.8h0.6v0.6h-0.6zM619.9 115.6h0.6v0.6h-0.6zM670.1 109.2h0.6v0.6h-0.6zM618.5 127.0h0.6v0.6h-0.6zM662.6 102.1h0.6v0.6h-0.6zM641.7 138.6h0.6v0.6h-0.6zM640.4 100.4h0.6v0.6h-0.6zM621.8 112.0h0.6v0.6h-0.6zM632.3 137.3h0.6v0.6h-0.6zM628.5 103.7h0.6v0.6h-0.6zM637.0 138.4h0.6v0.6h-0.6zM630.2 137.1h0.6v0.6h-0.6zM625.6 135.9h0.6v0.6h-0.6zM659.0 136.5h0.6v0.6h-0.6zM618.8 122.4h0.6v0.6h-0.6zM631.1 103.3h0.6v0.6h-0.6zM669.4 131.8h0.6v0.6h-0.6zM620.8 131.3h0.6v0.6h-0.6z" fill="#d7263d"/>
<path d="M656.1 96.7h0.7v0.7h-0.7zM631.5 100.0h0.7v0.7h-0.7zM652.3 97.6h0.7v0.7h-0.7zM641.6 103.5h0.7v0.7h-0.7zM653.9 97.4h0.7v0.7h-0.7zM652.5 98.1h0.7v0.7h-0.7zM629.3 96.1h0.7v0.7h-0.7zM660.0 103.7h0.7v0.7h-0.7zM637.4 101.9h0.7v0.7h-0.7zM658.7 97.3h0.7v0.7h-0.7zM666.4 103.1h0.7v0.7h-0.7zM629.9 97.9h0.7v0.7h-0.7zM657.1 99.1h0.7v0.7h-0.7zM633.2 96.2h0.7v0.7h-0.7zM663.7 103.5h0.7v0.7h-0.7zM645.9 101.9h0.7v0.7h-0.7z" fill="#d7263d"/>
<path d="M658.8 103.9h0.7v0.7h-0.7zM648.3 99.8h0.7v0.7h-0.7zM657.0 103.5h0.7v0.7h-0.7zM665.7 102.3h0.7v0.7h-0.7zM654.9 98.7h0.7v0.7h-0.7zM667.4 101.9h0.7v0.7h-0.7z" fill="#2a3578"/>
<path d="M629.0,159.0C630.3,157.8 633.3,157.5 636.0,157.0C638.7,156.5 641.8,156.1 645.0,156.2C648.2,156.3 652.2,156.6 655.0,157.5C657.8,158.4 660.5,159.9 662.0,161.5C663.5,163.1 665.0,165.4 664.0,167.0C663.0,168.6 659.0,169.3 656.0,171.0C653.0,172.7 649.3,174.8 646.0,177.0C642.7,179.2 639.5,182.8 636.0,184.0C632.5,185.2 627.6,185.3 625.0,184.5C622.4,183.7 621.3,181.2 620.5,179.0C619.7,176.8 619.8,173.2 620.3,171.0C620.8,168.8 622.2,167.2 623.5,166.0C624.8,164.8 627.1,165.2 628.0,164.0C628.9,162.8 627.7,160.2 629.0,159.0Z" fill="#2a3578" fill-opacity="0.88"/>
<path d="M642.0,167.0C643.8,165.6 647.0,165.2 650.0,164.5C653.0,163.8 657.2,162.6 660.0,163.0C662.8,163.4 665.2,165.0 667.0,167.0C668.8,169.0 670.2,172.5 671.0,175.0C671.8,177.5 672.5,180.1 672.0,182.0C671.5,183.9 670.8,185.7 668.0,186.5C665.2,187.3 658.8,187.2 655.0,187.0C651.2,186.8 648.0,186.5 645.0,185.5C642.0,184.5 638.0,183.1 637.0,181.0C636.0,178.9 638.2,175.3 639.0,173.0C639.8,170.7 640.2,168.4 642.0,167.0Z" fill="#d7263d" fill-opacity="0.4"/>
<path d="M662.5 164.2h0.7v0.7h-0.7zM640.6 169.1h0.7v0.7h-0.7zM638.7 181.2h0.7v0.7h-0.7zM641.6 177.0h0.7v0.7h-0.7zM656.6 164.8h0.7v0.7h-0.7zM639.5 160.1h0.7v0.7h-0.7zM624.7 166.3h0.7v0.7h-0.7zM636.9 176.1h0.7v0.7h-0.7zM652.5 164.4h0.7v0.7h-0.7zM636.6 157.2h0.7v0.7h-0.7zM647.2 157.5h0.7v0.7h-0.7zM624.0 172.6h0.7v0.7h-0.7zM650.1 164.6h0.7v0.7h-0.7zM645.3 177.2h0.7v0.7h-0.7zM642.6 164.5h0.7v0.7h-0.7zM661.8 167.1h0.7v0.7h-0.7zM639.9 170.9h0.7v0.7h-0.7zM621.9 171.5h0.7v0.7h-0.7zM647.1 161.0h0.7v0.7h-0.7zM651.0 168.9h0.7v0.7h-0.7zM661.6 166.9h0.7v0.7h-0.7zM624.0 182.2h0.7v0.7h-0.7zM632.6 183.3h0.7v0.7h-0.7zM649.2 166.0h0.7v0.7h-0.7zM642.2 178.8h0.7v0.7h-0.7zM658.6 160.1h0.7v0.7h-0.7zM633.1 158.9h0.7v0.7h-0.7zM642.8 164.0h0.7v0.7h-0.7zM632.5 174.8h0.7v0.7h-0.7zM643.2 168.3h0.7v0.7h-0.7zM645.2 165.5h0.7v0.7h-0.7zM628.2 164.5h0.7v0.7h-0.7zM628.6 182.3h0.7v0.7h-0.7zM625.1 172.7h0.7v0.7h-0.7zM644.8 156.6h0.7v0.7h-0.7zM629.6 184.3h0.7v0.7h-0.7zM654.6 170.9h0.7v0.7h-0.7zM634.4 165.2h0.7v0.7h-0.7zM657.3 166.5h0.7v0.7h-0.7zM650.1 164.4h0.7v0.7h-0.7zM639.4 159.6h0.7v0.7h-0.7zM630.4 166.1h0.7v0.7h-0.7zM622.0 180.4h0.7v0.7h-0.7zM642.2 166.2h0.7v0.7h-0.7zM647.6 169.0h0.7v0.7h-0.7zM634.2 167.1h0.7v0.7h-0.7zM639.7 164.9h0.7v0.7h-0.7zM636.4 169.4h0.7v0.7h-0.7zM658.1 169.5h0.7v0.7h-0.7zM621.5 180.1h0.7v0.7h-0.7zM634.6 173.4h0.7v0.7h-0.7zM622.7 174.6h0.7v0.7h-0.7zM649.1 166.2h0.7v0.7h-0.7zM634.9 178.7h0.7v0.7h-0.7zM633.3 171.1h0.7v0.7h-0.7zM634.1 165.5h0.7v0.7h-0.7zM655.5 167.2h0.7v0.7h-0.7zM656.0 161.8h0.7v0.7h-0.7zM631.3 178.1h0.7v0.7h-0.7zM631.4 168.2h0.7v0.7h-0.7zM643.3 159.7h0.7v0.7h-0.7zM634.2 161.3h0.7v0.7h-0.7zM632.6 160.5h0.7v0.7h-0.7zM621.2 179.3h0.7v0.7h-0.7zM655.4 170.6h0.7v0.7h-0.7zM626.6 177.9h0.7v0.7h-0.7zM647.8 159.7h0.7v0.7h-0.7zM645.4 163.8h0.7v0.7h-0.7zM646.8 157.8h0.7v0.7h-0.7zM639.3 172.2h0.7v0.7h-0.7zM650.5 171.3h0.7v0.7h-0.7zM629.6 175.4h0.7v0.7h-0.7zM642.3 175.1h0.7v0.7h-0.7zM634.2 177.8h0.7v0.7h-0.7zM629.5 166.0h0.7v0.7h-0.7zM622.8 178.5h0.7v0.7h-0.7zM630.0 179.7h0.7v0.7h-0.7zM650.6 161.4h0.7v0.7h-0.7zM639.4 178.4h0.7v0.7h-0.7zM634.3 158.9h0.7v0.7h-0.7zM642.5 158.2h0.7v0.7h-0.7zM636.3 182.4h0.7v0.7h-0.7zM637.6 160.4h0.7v0.7h-0.7zM643.0 158.6h0.7v0.7h-0.7zM643.4 167.1h0.7v0.7h-0.7zM650.7 157.2h0.7v0.7h-0.7zM640.6 160.6h0.7v0.7h-0.7zM631.7 164.3h0.7v0.7h-0.7zM638.3 168.2h0.7v0.7h-0.7zM647.2 161.1h0.7v0.7h-0.7zM646.8 174.2h0.7v0.7h-0.7zM648.7 173.2h0.7v0.7h-0.7zM636.1 158.7h0.7v0.7h-0.7zM625.2 181.9h0.7v0.7h-0.7zM640.6 167.4h0.7v0.7h-0.7zM634.6 167.5h0.7v0.7h-0.7zM642.0 173.6h0.7v0.7h-0.7zM651.3 157.4h0.7v0.7h-0.7zM660.6 166.2h0.7v0.7h-0.7zM625.7 183.8h0.7v0.7h-0.7z" fill="#ffffff" fill-opacity="0.5"/>
<path d="M647.1 183.3h0.8v0.8h-0.8zM669.2 180.5h0.8v0.8h-0.8zM647.0 175.3h0.8v0.8h-0.8zM656.9 169.6h0.8v0.8h-0.8zM657.3 186.6h0.8v0.8h-0.8zM657.5 177.4h0.8v0.8h-0.8zM652.6 169.1h0.8v0.8h-0.8zM653.6 177.8h0.8v0.8h-0.8zM670.3 178.5h0.8v0.8h-0.8zM660.0 184.4h0.8v0.8h-0.8zM648.9 177.8h0.8v0.8h-0.8zM667.3 168.2h0.8v0.8h-0.8zM656.9 178.5h0.8v0.8h-0.8zM653.3 178.1h0.8v0.8h-0.8zM656.3 177.8h0.8v0.8h-0.8zM659.4 172.0h0.8v0.8h-0.8zM657.8 172.4h0.8v0.8h-0.8zM662.8 175.3h0.8v0.8h-0.8zM639.7 173.6h0.8v0.8h-0.8zM662.7 173.0h0.8v0.8h-0.8zM651.4 169.0h0.8v0.8h-0.8zM666.0 168.2h0.8v0.8h-0.8zM670.3 179.4h0.8v0.8h-0.8zM645.1 173.1h0.8v0.8h-0.8zM657.4 166.9h0.8v0.8h-0.8zM660.8 175.2h0.8v0.8h-0.8zM641.9 176.5h0.8v0.8h-0.8zM645.9 169.0h0.8v0.8h-0.8zM648.1 181.4h0.8v0.8h-0.8zM655.6 166.5h0.8v0.8h-0.8zM659.6 166.9h0.8v0.8h-0.8zM650.5 174.7h0.8v0.8h-0.8zM645.4 166.6h0.8v0.8h-0.8zM655.4 182.4h0.8v0.8h-0.8zM649.3 178.9h0.8v0.8h-0.8zM646.6 178.6h0.8v0.8h-0.8zM660.7 174.0h0.8v0.8h-0.8zM658.6 182.3h0.8v0.8h-0.8zM668.1 174.8h0.8v0.8h-0.8zM648.6 167.6h0.8v0.8h-0.8zM647.2 179.9h0.8v0.8h-0.8zM640.0 177.7h0.8v0.8h-0.8zM638.7 181.7h0.8v0.8h-0.8zM644.8 173.8h0.8v0.8h-0.8zM667.0 180.9h0.8v0.8h-0.8zM641.1 179.1h0.8v0.8h-0.8zM645.1 177.8h0.8v0.8h-0.8zM653.5 175.0h0.8v0.8h-0.8zM659.3 173.0h0.8v0.8h-0.8zM664.4 178.0h0.8v0.8h-0.8zM645.9 168.0h0.8v0.8h-0.8zM659.8 176.2h0.8v0.8h-0.8zM642.6 173.3h0.8v0.8h-0.8zM669.2 173.0h0.8v0.8h-0.8zM647.4 177.9h0.8v0.8h-0.8zM641.7 171.4h0.8v0.8h-0.8zM655.0 177.6h0.8v0.8h-0.8zM637.8 180.3h0.8v0.8h-0.8zM656.2 178.2h0.8v0.8h-0.8zM645.4 178.2h0.8v0.8h-0.8zM649.7 181.2h0.8v0.8h-0.8zM651.4 177.8h0.8v0.8h-0.8zM660.8 173.4h0.8v0.8h-0.8zM644.6 181.0h0.8v0.8h-0.8zM653.4 175.5h0.8v0.8h-0.8zM648.9 176.1h0.8v0.8h-0.8zM658.3 182.9h0.8v0.8h-0.8zM661.6 176.3h0.8v0.8h-0.8zM666.6 181.4h0.8v0.8h-0.8zM664.1 165.3h0.8v0.8h-0.8zM669.5 173.8h0.8v0.8h-0.8zM646.4 180.9h0.8v0.8h-0.8zM643.1 177.9h0.8v0.8h-0.8zM638.9 179.2h0.8v0.8h-0.8zM664.3 180.4h0.8v0.8h-0.8zM655.7 181.7h0.8v0.8h-0.8zM644.3 174.4h0.8v0.8h-0.8zM656.5 169.7h0.8v0.8h-0.8zM648.2 180.5h0.8v0.8h-0.8zM655.4 180.2h0.8v0.8h-0.8z" fill="#ffffff" fill-opacity="0.8"/>
<path d="M642.0 177.3h0.7v0.7h-0.7zM656.5 163.4h0.7v0.7h-0.7zM640.1 158.4h0.7v0.7h-0.7zM651.0 162.4h0.7v0.7h-0.7zM628.4 165.1h0.7v0.7h-0.7zM637.5 170.4h0.7v0.7h-0.7zM630.9 164.4h0.7v0.7h-0.7zM629.0 162.1h0.7v0.7h-0.7zM642.0 174.4h0.7v0.7h-0.7zM641.4 159.2h0.7v0.7h-0.7zM625.5 173.1h0.7v0.7h-0.7zM624.3 177.7h0.7v0.7h-0.7zM651.2 163.4h0.7v0.7h-0.7zM635.9 160.3h0.7v0.7h-0.7zM640.7 164.4h0.7v0.7h-0.7zM655.9 159.9h0.7v0.7h-0.7zM641.8 167.7h0.7v0.7h-0.7zM656.1 167.6h0.7v0.7h-0.7zM639.0 166.9h0.7v0.7h-0.7zM638.1 176.9h0.7v0.7h-0.7zM635.5 171.2h0.7v0.7h-0.7zM638.6 175.6h0.7v0.7h-0.7zM634.5 183.0h0.7v0.7h-0.7zM630.9 162.1h0.7v0.7h-0.7zM663.1 165.2h0.7v0.7h-0.7zM639.8 178.2h0.7v0.7h-0.7zM645.7 173.3h0.7v0.7h-0.7zM623.6 174.1h0.7v0.7h-0.7zM653.9 170.1h0.7v0.7h-0.7zM647.1 164.1h0.7v0.7h-0.7zM630.6 160.7h0.7v0.7h-0.7zM646.3 164.6h0.7v0.7h-0.7zM630.1 176.8h0.7v0.7h-0.7zM663.2 166.2h0.7v0.7h-0.7zM639.0 175.4h0.7v0.7h-0.7zM643.8 157.9h0.7v0.7h-0.7zM659.9 164.2h0.7v0.7h-0.7zM648.2 157.9h0.7v0.7h-0.7zM656.1 161.6h0.7v0.7h-0.7zM649.9 172.9h0.7v0.7h-0.7zM633.0 167.9h0.7v0.7h-0.7zM624.8 183.3h0.7v0.7h-0.7zM628.7 174.7h0.7v0.7h-0.7zM648.5 158.4h0.7v0.7h-0.7zM653.6 159.0h0.7v0.7h-0.7zM623.1 174.7h0.7v0.7h-0.7zM621.1 175.0h0.7v0.7h-0.7zM637.8 175.9h0.7v0.7h-0.7zM635.4 163.6h0.7v0.7h-0.7zM652.8 166.0h0.7v0.7h-0.7zM636.7 158.7h0.7v0.7h-0.7zM632.4 177.6h0.7v0.7h-0.7zM621.0 170.9h0.7v0.7h-0.7zM632.9 174.7h0.7v0.7h-0.7zM630.9 169.8h0.7v0.7h-0.7zM626.3 170.5h0.7v0.7h-0.7zM647.3 156.8h0.7v0.7h-0.7zM629.7 168.8h0.7v0.7h-0.7zM624.4 172.2h0.7v0.7h-0.7zM643.0 159.7h0.7v0.7h-0.7zM641.3 168.8h0.7v0.7h-0.7zM634.9 173.9h0.7v0.7h-0.7zM635.4 175.8h0.7v0.7h-0.7zM643.8 173.4h0.7v0.7h-0.7zM637.9 158.9h0.7v0.7h-0.7zM653.6 165.0h0.7v0.7h-0.7zM623.2 166.6h0.7v0.7h-0.7zM629.7 176.3h0.7v0.7h-0.7zM621.3 179.8h0.7v0.7h-0.7zM646.0 159.1h0.7v0.7h-0.7z" fill="#d7263d"/>
<path d="M662.7 172.7h0.8v0.8h-0.8zM657.9 170.1h0.8v0.8h-0.8zM642.3 171.0h0.8v0.8h-0.8zM657.6 186.6h0.8v0.8h-0.8zM660.3 175.1h0.8v0.8h-0.8zM663.2 181.1h0.8v0.8h-0.8zM642.9 170.4h0.8v0.8h-0.8zM661.4 173.2h0.8v0.8h-0.8zM651.5 166.8h0.8v0.8h-0.8zM664.2 180.7h0.8v0.8h-0.8zM659.0 184.5h0.8v0.8h-0.8zM664.1 174.5h0.8v0.8h-0.8zM664.7 185.8h0.8v0.8h-0.8zM638.3 180.9h0.8v0.8h-0.8zM665.7 184.4h0.8v0.8h-0.8zM664.5 176.0h0.8v0.8h-0.8zM656.9 165.2h0.8v0.8h-0.8zM660.3 169.8h0.8v0.8h-0.8zM643.8 169.4h0.8v0.8h-0.8zM655.6 170.5h0.8v0.8h-0.8zM650.3 174.8h0.8v0.8h-0.8zM642.2 175.8h0.8v0.8h-0.8zM658.0 175.6h0.8v0.8h-0.8zM668.7 172.0h0.8v0.8h-0.8zM646.4 182.9h0.8v0.8h-0.8zM666.4 182.3h0.8v0.8h-0.8zM653.3 168.2h0.8v0.8h-0.8zM641.1 178.1h0.8v0.8h-0.8zM642.3 178.8h0.8v0.8h-0.8zM641.9 173.7h0.8v0.8h-0.8zM659.7 178.5h0.8v0.8h-0.8zM647.9 177.1h0.8v0.8h-0.8zM668.4 181.3h0.8v0.8h-0.8zM638.0 179.2h0.8v0.8h-0.8zM659.1 164.1h0.8v0.8h-0.8zM660.4 185.5h0.8v0.8h-0.8zM661.2 169.7h0.8v0.8h-0.8zM650.8 174.8h0.8v0.8h-0.8zM646.9 184.1h0.8v0.8h-0.8zM653.5 165.3h0.8v0.8h-0.8zM648.4 181.0h0.8v0.8h-0.8zM663.0 183.7h0.8v0.8h-0.8zM668.7 178.1h0.8v0.8h-0.8zM669.7 179.9h0.8v0.8h-0.8zM645.6 183.4h0.8v0.8h-0.8zM654.1 165.8h0.8v0.8h-0.8zM639.6 179.0h0.8v0.8h-0.8zM656.8 175.8h0.8v0.8h-0.8zM647.6 172.2h0.8v0.8h-0.8zM651.6 184.9h0.8v0.8h-0.8zM656.1 183.9h0.8v0.8h-0.8zM656.5 171.1h0.8v0.8h-0.8zM641.8 175.3h0.8v0.8h-0.8zM660.4 163.5h0.8v0.8h-0.8zM649.7 179.1h0.8v0.8h-0.8zM656.6 181.1h0.8v0.8h-0.8zM643.7 183.0h0.8v0.8h-0.8zM649.2 166.2h0.8v0.8h-0.8zM652.6 167.6h0.8v0.8h-0.8zM652.9 184.8h0.8v0.8h-0.8zM650.7 167.9h0.8v0.8h-0.8zM662.5 171.4h0.8v0.8h-0.8zM657.5 182.3h0.8v0.8h-0.8zM646.1 168.4h0.8v0.8h-0.8zM640.9 178.7h0.8v0.8h-0.8zM664.3 181.1h0.8v0.8h-0.8zM661.6 177.0h0.8v0.8h-0.8zM660.4 170.4h0.8v0.8h-0.8zM647.7 175.3h0.8v0.8h-0.8zM661.9 166.5h0.8v0.8h-0.8zM669.3 183.3h0.8v0.8h-0.8zM653.0 165.5h0.8v0.8h-0.8zM641.4 177.6h0.8v0.8h-0.8zM649.3 185.1h0.8v0.8h-0.8zM658.4 179.5h0.8v0.8h-0.8zM666.7 174.9h0.8v0.8h-0.8zM651.2 178.5h0.8v0.8h-0.8zM640.5 181.6h0.8v0.8h-0.8zM658.8 167.4h0.8v0.8h-0.8zM644.1 170.9h0.8v0.8h-0.8zM664.3 177.6h0.8v0.8h-0.8zM664.5 180.3h0.8v0.8h-0.8zM663.1 175.6h0.8v0.8h-0.8zM670.5 180.7h0.8v0.8h-0.8zM654.9 177.7h0.8v0.8h-0.8zM654.1 171.3h0.8v0.8h-0.8zM660.4 182.9h0.8v0.8h-0.8zM659.9 164.3h0.8v0.8h-0.8zM650.6 173.0h0.8v0.8h-0.8zM651.7 176.4h0.8v0.8h-0.8zM666.3 167.2h0.8v0.8h-0.8zM652.7 180.4h0.8v0.8h-0.8zM645.1 176.0h0.8v0.8h-0.8zM662.9 182.2h0.8v0.8h-0.8zM640.5 171.8h0.8v0.8h-0.8zM664.7 174.5h0.8v0.8h-0.8zM647.5 172.9h0.8v0.8h-0.8zM661.3 165.1h0.8v0.8h-0.8zM665.6 184.1h0.8v0.8h-0.8zM652.7 166.8h0.8v0.8h-0.8zM660.7 182.5h0.8v0.8h-0.8zM671.3 182.8h0.8v0.8h-0.8zM645.2 167.0h0.8v0.8h-0.8zM670.1 183.8h0.8v0.8h-0.8zM660.7 164.4h0.8v0.8h-0.8zM641.3 176.8h0.8v0.8h-0.8zM670.6 180.6h0.8v0.8h-0.8zM657.1 177.3h0.8v0.8h-0.8zM653.5 183.3h0.8v0.8h-0.8zM653.4 184.3h0.8v0.8h-0.8zM652.4 174.3h0.8v0.8h-0.8zM651.7 168.4h0.8v0.8h-0.8zM651.3 172.0h0.8v0.8h-0.8zM665.4 170.7h0.8v0.8h-0.8zM662.9 177.1h0.8v0.8h-0.8zM658.1 182.0h0.8v0.8h-0.8zM657.4 164.3h0.8v0.8h-0.8zM647.2 184.7h0.8v0.8h-0.8zM651.0 172.7h0.8v0.8h-0.8zM646.6 181.9h0.8v0.8h-0.8zM654.9 174.6h0.8v0.8h-0.8zM664.6 180.8h0.8v0.8h-0.8zM665.1 175.5h0.8v0.8h-0.8zM661.9 166.3h0.8v0.8h-0.8zM658.0 172.7h0.8v0.8h-0.8zM669.4 181.4h0.8v0.8h-0.8zM649.4 165.9h0.8v0.8h-0.8zM656.1 178.3h0.8v0.8h-0.8zM642.1 170.8h0.8v0.8h-0.8zM663.1 185.1h0.8v0.8h-0.8zM640.6 171.3h0.8v0.8h-0.8zM655.0 185.6h0.8v0.8h-0.8zM668.3 182.1h0.8v0.8h-0.8zM642.5 181.1h0.8v0.8h-0.8zM660.7 164.0h0.8v0.8h-0.8zM651.4 175.2h0.8v0.8h-0.8zM643.5 166.8h0.8v0.8h-0.8zM648.7 175.4h0.8v0.8h-0.8zM646.5 175.5h0.8v0.8h-0.8zM668.2 174.2h0.8v0.8h-0.8zM650.5 179.3h0.8v0.8h-0.8zM666.0 184.8h0.8v0.8h-0.8zM668.4 171.0h0.8v0.8h-0.8zM649.3 169.9h0.8v0.8h-0.8zM664.7 178.2h0.8v0.8h-0.8zM642.2 170.3h0.8v0.8h-0.8zM657.3 182.9h0.8v0.8h-0.8zM658.3 179.0h0.8v0.8h-0.8zM647.8 183.4h0.8v0.8h-0.8zM658.5 177.5h0.8v0.8h-0.8zM646.9 176.7h0.8v0.8h-0.8zM648.1 172.6h0.8v0.8h-0.8zM670.0 173.6h0.8v0.8h-0.8zM643.7 172.9h0.8v0.8h-0.8zM645.0 180.0h0.8v0.8h-0.8zM644.4 180.0h0.8v0.8h-0.8zM653.2 173.0h0.8v0.8h-0.8zM657.4 186.5h0.8v0.8h-0.8zM657.8 168.0h0.8v0.8h-0.8zM648.2 166.5h0.8v0.8h-0.8zM659.2 184.8h0.8v0.8h-0.8zM641.0 175.7h0.8v0.8h-0.8zM666.3 166.6h0.8v0.8h-0.8zM666.0 172.6h0.8v0.8h-0.8zM655.8 177.4h0.8v0.8h-0.8zM670.5 181.9h0.8v0.8h-0.8zM657.1 177.3h0.8v0.8h-0.8zM647.9 166.8h0.8v0.8h-0.8zM653.0 169.1h0.8v0.8h-0.8zM654.5 169.2h0.8v0.8h-0.8zM651.0 165.2h0.8v0.8h-0.8zM656.4 170.5h0.8v0.8h-0.8zM651.6 185.0h0.8v0.8h-0.8zM644.7 182.9h0.8v0.8h-0.8zM652.4 171.3h0.8v0.8h-0.8zM650.7 175.3h0.8v0.8h-0.8zM648.2 177.6h0.8v0.8h-0.8zM663.5 184.3h0.8v0.8h-0.8zM651.7 177.0h0.8v0.8h-0.8zM642.2 175.4h0.8v0.8h-0.8zM645.8 172.0h0.8v0.8h-0.8zM656.2 172.4h0.8v0.8h-0.8zM667.7 168.6h0.8v0.8h-0.8zM645.6 175.9h0.8v0.8h-0.8zM648.1 180.1h0.8v0.8h-0.8zM655.0 183.2h0.8v0.8h-0.8zM656.6 173.1h0.8v0.8h-0.8zM664.2 180.8h0.8v0.8h-0.8zM661.7 186.7h0.8v0.8h-0.8zM658.4 184.9h0.8v0.8h-0.8zM648.2 181.7h0.8v0.8h-0.8zM665.5 174.7h0.8v0.8h-0.8zM661.4 180.9h0.8v0.8h-0.8zM660.3 183.2h0.8v0.8h-0.8zM638.8 177.2h0.8v0.8h-0.8zM649.6 175.6h0.8v0.8h-0.8zM666.5 169.9h0.8v0.8h-0.8zM654.6 181.1h0.8v0.8h-0.8zM655.7 176.4h0.8v0.8h-0.8zM658.4 186.4h0.8v0.8h-0.8zM639.8 173.4h0.8v0.8h-0.8zM664.2 171.6h0.8v0.8h-0.8zM643.2 181.3h0.8v0.8h-0.8zM661.0 180.6h0.8v0.8h-0.8zM663.2 181.0h0.8v0.8h-0.8zM659.7 171.0h0.8v0.8h-0.8zM648.7 184.9h0.8v0.8h-0.8zM645.5 172.9h0.8v0.8h-0.8zM670.9 179.2h0.8v0.8h-0.8zM658.0 167.8h0.8v0.8h-0.8zM665.1 172.8h0.8v0.8h-0.8zM650.6 173.0h0.8v0.8h-0.8zM668.9 180.8h0.8v0.8h-0.8zM658.2 163.9h0.8v0.8h-0.8zM642.5 171.0h0.8v0.8h-0.8zM662.3 171.2h0.8v0.8h-0.8zM649.4 173.2h0.8v0.8h-0.8zM668.8 177.1h0.8v0.8h-0.8zM657.9 180.1h0.8v0.8h-0.8zM658.0 176.4h0.8v0.8h-0.8zM661.5 177.0h0.8v0.8h-0.8zM665.9 175.4h0.8v0.8h-0.8zM648.3 167.2h0.8v0.8h-0.8zM647.4 172.2h0.8v0.8h-0.8zM648.3 176.1h0.8v0.8h-0.8zM658.4 171.2h0.8v0.8h-0.8zM653.4 179.6h0.8v0.8h-0.8zM639.3 179.6h0.8v0.8h-0.8zM664.3 180.9h0.8v0.8h-0.8zM649.7 182.9h0.8v0.8h-0.8zM644.6 178.9h0.8v0.8h-0.8zM649.3 184.6h0.8v0.8h-0.8zM647.1 180.4h0.8v0.8h-0.8zM655.7 173.1h0.8v0.8h-0.8zM659.7 178.3h0.8v0.8h-0.8zM648.0 177.1h0.8v0.8h-0.8zM652.0 177.9h0.8v0.8h-0.8zM660.7 165.6h0.8v0.8h-0.8zM646.5 176.8h0.8v0.8h-0.8zM667.6 173.4h0.8v0.8h-0.8zM665.4 176.8h0.8v0.8h-0.8zM666.1 185.3h0.8v0.8h-0.8zM648.5 172.3h0.8v0.8h-0.8zM655.1 184.0h0.8v0.8h-0.8zM640.3 173.8h0.8v0.8h-0.8zM666.4 167.9h0.8v0.8h-0.8zM655.8 184.0h0.8v0.8h-0.8zM664.3 168.0h0.8v0.8h-0.8zM652.4 172.0h0.8v0.8h-0.8zM652.2 164.9h0.8v0.8h-0.8zM668.7 176.3h0.8v0.8h-0.8zM667.2 179.0h0.8v0.8h-0.8zM642.4 170.2h0.8v0.8h-0.8zM663.9 181.6h0.8v0.8h-0.8zM637.7 181.2h0.8v0.8h-0.8zM658.4 182.4h0.8v0.8h-0.8zM649.2 183.2h0.8v0.8h-0.8zM664.5 174.4h0.8v0.8h-0.8zM658.3 173.2h0.8v0.8h-0.8zM640.2 177.2h0.8v0.8h-0.8z" fill="#d7263d"/>
<path d="M658.5 164.7h0.7v0.7h-0.7zM653.8 168.9h0.7v0.7h-0.7zM650.8 177.7h0.7v0.7h-0.7zM646.5 171.3h0.7v0.7h-0.7zM638.0 180.2h0.7v0.7h-0.7zM653.2 172.4h0.7v0.7h-0.7zM649.8 177.9h0.7v0.7h-0.7zM657.2 164.9h0.7v0.7h-0.7zM652.9 185.1h0.7v0.7h-0.7zM648.0 177.7h0.7v0.7h-0.7zM654.9 170.4h0.7v0.7h-0.7zM647.1 173.7h0.7v0.7h-0.7zM659.9 176.6h0.7v0.7h-0.7zM640.2 180.4h0.7v0.7h-0.7zM653.0 164.9h0.7v0.7h-0.7zM650.2 185.4h0.7v0.7h-0.7zM661.8 185.0h0.7v0.7h-0.7zM647.5 165.9h0.7v0.7h-0.7zM661.0 163.8h0.7v0.7h-0.7zM663.6 184.1h0.7v0.7h-0.7zM646.4 166.3h0.7v0.7h-0.7zM665.6 181.3h0.7v0.7h-0.7zM646.1 179.8h0.7v0.7h-0.7zM658.7 164.1h0.7v0.7h-0.7zM659.3 170.4h0.7v0.7h-0.7zM654.0 182.1h0.7v0.7h-0.7zM641.5 169.7h0.7v0.7h-0.7zM651.9 170.8h0.7v0.7h-0.7zM660.0 183.5h0.7v0.7h-0.7zM665.8 178.2h0.7v0.7h-0.7zM655.8 178.9h0.7v0.7h-0.7zM647.0 179.9h0.7v0.7h-0.7zM663.8 180.8h0.7v0.7h-0.7zM653.4 177.3h0.7v0.7h-0.7zM652.9 178.9h0.7v0.7h-0.7zM639.8 175.2h0.7v0.7h-0.7zM651.4 184.1h0.7v0.7h-0.7zM646.8 170.2h0.7v0.7h-0.7zM642.4 182.1h0.7v0.7h-0.7zM661.9 168.5h0.7v0.7h-0.7zM661.6 169.0h0.7v0.7h-0.7zM667.9 173.1h0.7v0.7h-0.7zM668.1 175.4h0.7v0.7h-0.7zM641.3 181.5h0.7v0.7h-0.7zM651.3 176.2h0.7v0.7h-0.7zM657.6 185.0h0.7v0.7h-0.7zM653.7 176.0h0.7v0.7h-0.7zM661.3 186.0h0.7v0.7h-0.7zM669.2 175.8h0.7v0.7h-0.7zM650.4 165.5h0.7v0.7h-0.7zM642.7 167.8h0.7v0.7h-0.7zM653.3 177.5h0.7v0.7h-0.7zM640.6 175.5h0.7v0.7h-0.7zM667.7 184.2h0.7v0.7h-0.7zM667.1 182.9h0.7v0.7h-0.7zM653.6 174.9h0.7v0.7h-0.7zM667.3 180.9h0.7v0.7h-0.7zM660.1 168.3h0.7v0.7h-0.7zM639.4 177.0h0.7v0.7h-0.7zM644.4 175.9h0.7v0.7h-0.7zM661.7 171.8h0.7v0.7h-0.7zM665.8 184.0h0.7v0.7h-0.7zM653.9 180.9h0.7v0.7h-0.7zM649.0 180.5h0.7v0.7h-0.7zM641.8 175.0h0.7v0.7h-0.7zM639.8 176.3h0.7v0.7h-0.7zM643.0 175.3h0.7v0.7h-0.7zM668.1 186.2h0.7v0.7h-0.7zM661.5 179.7h0.7v0.7h-0.7zM651.8 178.6h0.7v0.7h-0.7z" fill="#2a3578"/>
<path d="M618.8 177.9h0.7v0.7h-0.7zM647.7 177.6h0.7v0.7h-0.7zM641.6 181.3h0.7v0.7h-0.7zM663.6 162.1h0.7v0.7h-0.7zM626.4 184.6h0.7v0.7h-0.7zM626.6 162.7h0.7v0.7h-0.7zM645.1 154.8h0.7v0.7h-0.7zM622.5 167.1h0.7v0.7h-0.7zM653.6 173.1h0.7v0.7h-0.7zM632.9 157.6h0.7v0.7h-0.7zM630.8 156.5h0.7v0.7h-0.7zM649.3 154.9h0.7v0.7h-0.7zM643.1 179.4h0.7v0.7h-0.7zM628.6 186.2h0.7v0.7h-0.7zM634.8 184.8h0.7v0.7h-0.7zM618.4 171.4h0.7v0.7h-0.7zM627.8 161.1h0.7v0.7h-0.7zM627.7 185.3h0.7v0.7h-0.7zM664.1 166.6h0.7v0.7h-0.7zM622.2 167.5h0.7v0.7h-0.7zM644.4 178.6h0.7v0.7h-0.7zM641.0 181.0h0.7v0.7h-0.7zM635.9 185.2h0.7v0.7h-0.7zM639.7 155.2h0.7v0.7h-0.7zM659.2 170.2h0.7v0.7h-0.7zM621.4 180.3h0.7v0.7h-0.7zM663.9 165.5h0.7v0.7h-0.7zM638.1 183.0h0.7v0.7h-0.7zM627.5 163.7h0.7v0.7h-0.7zM655.1 172.4h0.7v0.7h-0.7zM661.9 168.8h0.7v0.7h-0.7zM626.2 184.9h0.7v0.7h-0.7zM629.9 158.5h0.7v0.7h-0.7zM636.7 185.4h0.7v0.7h-0.7zM627.9 161.7h0.7v0.7h-0.7zM634.3 155.5h0.7v0.7h-0.7zM653.8 156.6h0.7v0.7h-0.7zM655.7 156.1h0.7v0.7h-0.7zM662.9 163.2h0.7v0.7h-0.7zM644.9 155.6h0.7v0.7h-0.7zM636.8 184.7h0.7v0.7h-0.7zM646.4 155.9h0.7v0.7h-0.7zM628.6 186.2h0.7v0.7h-0.7zM657.8 158.2h0.7v0.7h-0.7zM648.3 155.8h0.7v0.7h-0.7zM664.3 164.3h0.7v0.7h-0.7zM624.0 184.1h0.7v0.7h-0.7zM631.5 184.2h0.7v0.7h-0.7zM648.7 175.7h0.7v0.7h-0.7zM644.4 178.8h0.7v0.7h-0.7zM634.6 184.3h0.7v0.7h-0.7zM619.9 173.5h0.7v0.7h-0.7z" fill="#2a3578"/>
<path d="M671.8 175.6h0.7v0.7h-0.7zM641.3 183.5h0.7v0.7h-0.7zM637.9 175.1h0.7v0.7h-0.7zM672.1 178.8h0.7v0.7h-0.7zM668.4 187.4h0.7v0.7h-0.7zM639.2 183.2h0.7v0.7h-0.7zM671.4 184.5h0.7v0.7h-0.7zM665.6 164.9h0.7v0.7h-0.7zM656.9 163.0h0.7v0.7h-0.7zM655.3 162.7h0.7v0.7h-0.7zM655.9 161.7h0.7v0.7h-0.7zM662.0 162.6h0.7v0.7h-0.7zM647.3 163.7h0.7v0.7h-0.7zM660.0 162.5h0.7v0.7h-0.7zM662.2 188.3h0.7v0.7h-0.7zM649.8 164.0h0.7v0.7h-0.7zM655.1 187.0h0.7v0.7h-0.7zM665.4 165.6h0.7v0.7h-0.7zM673.0 177.5h0.7v0.7h-0.7zM648.3 164.9h0.7v0.7h-0.7zM667.7 167.7h0.7v0.7h-0.7zM660.7 188.7h0.7v0.7h-0.7zM637.8 175.3h0.7v0.7h-0.7zM662.3 187.9h0.7v0.7h-0.7zM665.3 165.4h0.7v0.7h-0.7zM672.6 175.8h0.7v0.7h-0.7zM650.0 186.7h0.7v0.7h-0.7zM637.3 179.8h0.7v0.7h-0.7zM638.1 183.1h0.7v0.7h-0.7zM667.9 168.1h0.7v0.7h-0.7zM665.9 166.3h0.7v0.7h-0.7zM662.0 187.7h0.7v0.7h-0.7zM671.1 183.3h0.7v0.7h-0.7zM663.4 188.3h0.7v0.7h-0.7zM670.9 172.5h0.7v0.7h-0.7zM638.3 173.8h0.7v0.7h-0.7zM658.7 188.1h0.7v0.7h-0.7zM642.9 185.9h0.7v0.7h-0.7zM673.3 177.6h0.7v0.7h-0.7zM657.7 188.5h0.7v0.7h-0.7zM644.0 186.7h0.7v0.7h-0.7zM656.5 187.8h0.7v0.7h-0.7zM639.4 182.4h0.7v0.7h-0.7zM640.6 183.2h0.7v0.7h-0.7zM640.9 183.6h0.7v0.7h-0.7zM664.5 188.3h0.7v0.7h-0.7zM645.8 186.5h0.7v0.7h-0.7z" fill="#d7263d"/>
<path d="M646.7 195.0h0.7v0.7h-0.7zM654.0 204.2h0.7v0.7h-0.7zM625.2 195.5h0.7v0.7h-0.7zM646.7 204.3h0.7v0.7h-0.7zM628.0 207.4h0.7v0.7h-0.7zM639.2 188.9h0.7v0.7h-0.7zM641.4 188.4h0.7v0.7h-0.7zM639.3 187.6h0.7v0.7h-0.7zM639.0 195.4h0.7v0.7h-0.7zM653.2 205.9h0.7v0.7h-0.7zM649.2 204.2h0.7v0.7h-0.7zM634.3 190.6h0.7v0.7h-0.7zM660.5 203.7h0.7v0.7h-0.7zM643.8 203.2h0.7v0.7h-0.7zM627.4 204.8h0.7v0.7h-0.7zM636.5 196.4h0.7v0.7h-0.7z" fill="#2a3578"/>
<path d="M628.8 202.5h0.7v0.7h-0.7zM661.6 188.3h0.7v0.7h-0.7zM651.2 191.0h0.7v0.7h-0.7zM644.5 197.0h0.7v0.7h-0.7zM666.2 195.2h0.7v0.7h-0.7zM629.9 194.9h0.7v0.7h-0.7zM649.2 187.1h0.7v0.7h-0.7zM664.8 200.9h0.7v0.7h-0.7z" fill="#d7263d"/>
<rect x="616.3" y="14.6" width="58.30000000000007" height="58.4" fill="none" stroke="#888" stroke-width="0.9"/>
<text x="619.2" y="22.7" font-size="6" fill="#333333" textLength="25.5" lengthAdjust="spacingAndGlyphs">CD8 TEM</text>
<text x="645.0" y="81.0" font-size="6" text-anchor="middle" fill="#333333" textLength="51" lengthAdjust="spacingAndGlyphs">UMAP dimension 1</text>
<text x="611.6" y="43.8" font-size="6" text-anchor="middle" fill="#333333" transform="rotate(-90 611.6 43.8)" textLength="51.7" lengthAdjust="spacingAndGlyphs">UMAP dimension 2</text>
<rect x="616.3" y="84.6" width="58.30000000000007" height="58.599999999999994" fill="none" stroke="#888" stroke-width="0.9"/>
<text x="619.2" y="92.69999999999999" font-size="6" fill="#333333" textLength="31.8" lengthAdjust="spacingAndGlyphs">CD14 Mono</text>
<text x="645.0" y="151.2" font-size="6" text-anchor="middle" fill="#333333" textLength="51" lengthAdjust="spacingAndGlyphs">UMAP dimension 1</text>
<text x="611.6" y="113.89999999999999" font-size="6" text-anchor="middle" fill="#333333" transform="rotate(-90 611.6 113.89999999999999)" textLength="51.7" lengthAdjust="spacingAndGlyphs">UMAP dimension 2</text>
<rect x="616.3" y="154.6" width="58.30000000000007" height="57.900000000000006" fill="none" stroke="#888" stroke-width="0.9"/>
<text x="619.2" y="162.7" font-size="6" fill="#333333" textLength="7.5" lengthAdjust="spacingAndGlyphs">NK</text>
<text x="645.0" y="220.5" font-size="6" text-anchor="middle" fill="#333333" textLength="51" lengthAdjust="spacingAndGlyphs">UMAP dimension 1</text>
<text x="611.6" y="183.55" font-size="6" text-anchor="middle" fill="#333333" transform="rotate(-90 611.6 183.55)" textLength="51.7" lengthAdjust="spacingAndGlyphs">UMAP dimension 2</text>
<circle cx="616.2" cy="229" r="1.2" fill="#d7263d"/>
<text x="621.4" y="231.8" font-size="7.9" fill="#d7263d" textLength="14.4" lengthAdjust="spacingAndGlyphs">Mild</text>
<circle cx="644.6" cy="229" r="1.2" fill="#2a3578"/>
<text x="649" y="231.8" font-size="7.9" fill="#2a3578" textLength="25.4" lengthAdjust="spacingAndGlyphs">Control</text>
<path d="M34.3,454.5V289.4H240.6V454.5" fill="none" stroke="#8f8f8f" stroke-width="0.9"/>
<path d="M33.9,454.5H241.0" fill="none" stroke="#8f8f8f" stroke-width="0.9"/>
<text x="30.8" y="457.1" font-size="7.7" text-anchor="end" fill="#3d3d3d">0</text>
<line x1="34.3" y1="431.0" x2="36.9" y2="431.0" stroke="#aaa" stroke-width="0.6"/>
<text x="30.8" y="433.6" font-size="7.7" text-anchor="end" fill="#3d3d3d">0.05</text>
<line x1="34.3" y1="407.5" x2="36.9" y2="407.5" stroke="#aaa" stroke-width="0.6"/>
<text x="30.8" y="410.1" font-size="7.7" text-anchor="end" fill="#3d3d3d">0.1</text>
<line x1="34.3" y1="384.0" x2="36.9" y2="384.0" stroke="#aaa" stroke-width="0.6"/>
<text x="30.8" y="386.6" font-size="7.7" text-anchor="end" fill="#3d3d3d">0.15</text>
<line x1="34.3" y1="360.5" x2="36.9" y2="360.5" stroke="#aaa" stroke-width="0.6"/>
<text x="30.8" y="363.1" font-size="7.7" text-anchor="end" fill="#3d3d3d">0.2</text>
<line x1="34.3" y1="337.0" x2="36.9" y2="337.0" stroke="#aaa" stroke-width="0.6"/>
<text x="30.8" y="339.6" font-size="7.7" text-anchor="end" fill="#3d3d3d">0.25</text>
<line x1="34.3" y1="313.5" x2="36.9" y2="313.5" stroke="#aaa" stroke-width="0.6"/>
<text x="30.8" y="316.1" font-size="7.7" text-anchor="end" fill="#3d3d3d">0.3</text>
<line x1="34.3" y1="290.0" x2="36.9" y2="290.0" stroke="#aaa" stroke-width="0.6"/>
<text x="30.8" y="292.6" font-size="7.7" text-anchor="end" fill="#3d3d3d">0.35</text>
<rect x="44.55" y="356.08" width="9.80" height="98.42" fill="#eeefef" stroke="#555" stroke-width="0.7"/>
<path d="M49.45,355.38V356.79M48.15,355.38H50.75M48.15,356.79H50.75" stroke="#222" stroke-width="0.9" fill="none"/>
<rect x="57.20" y="355.80" width="9.80" height="98.70" fill="#d6d6d8" stroke="#555" stroke-width="0.7"/>
<path d="M62.10,353.45V358.15M60.80,353.45H63.40M60.80,358.15H63.40" stroke="#222" stroke-width="0.9" fill="none"/>
<rect x="69.85" y="359.18" width="9.80" height="95.32" fill="#8d8e92" stroke="#555" stroke-width="0.7"/>
<path d="M74.75,351.99V366.37M73.45,351.99H76.05M73.45,366.37H76.05" stroke="#222" stroke-width="0.9" fill="none"/>
<rect x="82.50" y="314.11" width="9.80" height="140.39" fill="#a7c5e5" stroke="#555" stroke-width="0.7"/>
<path d="M87.40,306.12V322.10M86.10,306.12H88.70M86.10,322.10H88.70" stroke="#222" stroke-width="0.9" fill="none"/>
<rect x="113.55" y="394.39" width="9.80" height="60.11" fill="#eeefef" stroke="#555" stroke-width="0.7"/>
<path d="M118.45,393.92V394.86M117.15,393.92H119.75M117.15,394.86H119.75" stroke="#222" stroke-width="0.9" fill="none"/>
<rect x="126.20" y="386.82" width="9.80" height="67.68" fill="#d6d6d8" stroke="#555" stroke-width="0.7"/>
<path d="M131.10,385.41V388.23M129.80,385.41H132.40M129.80,388.23H132.40" stroke="#222" stroke-width="0.9" fill="none"/>
<rect x="138.85" y="377.42" width="9.80" height="77.08" fill="#8d8e92" stroke="#555" stroke-width="0.7"/>
<path d="M143.75,371.31V383.53M142.45,371.31H145.05M142.45,383.53H145.05" stroke="#222" stroke-width="0.9" fill="none"/>
<rect x="151.50" y="351.19" width="9.80" height="103.31" fill="#a7c5e5" stroke="#555" stroke-width="0.7"/>
<path d="M156.40,347.20V355.19M155.10,347.20H157.70M155.10,355.19H157.70" stroke="#222" stroke-width="0.9" fill="none"/>
<rect x="182.85" y="403.27" width="9.80" height="51.23" fill="#eeefef" stroke="#555" stroke-width="0.7"/>
<path d="M187.75,402.80V403.74M186.45,402.80H189.05M186.45,403.74H189.05" stroke="#222" stroke-width="0.9" fill="none"/>
<rect x="195.50" y="393.40" width="9.80" height="61.10" fill="#d6d6d8" stroke="#555" stroke-width="0.7"/>
<path d="M200.40,391.05V395.75M199.10,391.05H201.70M199.10,395.75H201.70" stroke="#222" stroke-width="0.9" fill="none"/>
<rect x="208.15" y="373.19" width="9.80" height="81.31" fill="#8d8e92" stroke="#555" stroke-width="0.7"/>
<path d="M213.05,363.79V382.59M211.75,363.79H214.35M211.75,382.59H214.35" stroke="#222" stroke-width="0.9" fill="none"/>
<rect x="220.80" y="325.25" width="9.80" height="129.25" fill="#a7c5e5" stroke="#555" stroke-width="0.7"/>
<path d="M225.70,315.38V335.12M224.40,315.38H227.00M224.40,335.12H227.00" stroke="#222" stroke-width="0.9" fill="none"/>
<text x="68.4" y="465.3" font-size="9" text-anchor="middle" fill="#333333">CD8 T</text>
<text x="137.4" y="465.3" font-size="9" text-anchor="middle" fill="#333333">Mono</text>
<text x="206.7" y="465.3" font-size="9" text-anchor="middle" fill="#333333">NK</text>
<text x="7.5" y="371.2" font-size="9.1" text-anchor="middle" fill="#333333" transform="rotate(-90 7.5 371.2)" textLength="138.4" lengthAdjust="spacingAndGlyphs">Precision of circuit chromatin sites</text>
<text x="135.85" y="253.6" font-size="8.4" text-anchor="middle" fill="#333333" textLength="57.7" lengthAdjust="spacingAndGlyphs">Mild COVID-19</text>
<rect x="60.4" y="272.2" width="13.4" height="5.5" fill="#eeefef" stroke="#666" stroke-width="0.6"/>
<text x="77.9" y="277.0" font-size="6.0" fill="#444">DAS</text>
<rect x="60.4" y="279.8" width="13.4" height="5.5" fill="#d6d6d8" stroke="#666" stroke-width="0.6"/>
<text x="77.9" y="284.6" font-size="6.0" fill="#444">DAS (TAD with DEG)</text>
<rect x="143" y="272.2" width="13.4" height="5.5" fill="#8d8e92" stroke="#666" stroke-width="0.6"/>
<text x="160.5" y="277.0" font-size="6.0" fill="#444">DAS (nearest to DEG)</text>
<rect x="143" y="279.8" width="13.4" height="5.5" fill="#a7c5e5" stroke="#666" stroke-width="0.6"/>
<text x="160.5" y="284.6" font-size="6.0" fill="#444">Circuit sites</text>
<path d="M49.2,298.0V296.4H83.1V298.0" stroke="#666" stroke-width="0.65" fill="none"/>
<text x="50.4" y="295.6" font-size="5.8" fill="#555">3.4 × 10<tspan dx="0.4" dy="-2.8" font-size="3.8">−13</tspan></text>
<path d="M63.2,304.20000000000005V302.6H83.6V304.20000000000005" stroke="#666" stroke-width="0.65" fill="none"/>
<text x="62.2" y="301.9" font-size="5.8" fill="#555">4.7 × 10<tspan dx="0.4" dy="-2.8" font-size="3.8">−4</tspan></text>
<path d="M75.5,311.90000000000003V310.3H84.7V311.90000000000003" stroke="#666" stroke-width="0.65" fill="none"/>
<text x="60.1" y="309.5" font-size="5.8" fill="#555">1.6 × 10<tspan dx="0.4" dy="-2.8" font-size="3.8">−3</tspan></text>
<path d="M118.3,333.0V331.4H152V333.0" stroke="#666" stroke-width="0.65" fill="none"/>
<text x="122.7" y="329.8" font-size="5.8" fill="#555">5.3 × 10<tspan dx="0.4" dy="-2.8" font-size="3.8">−13</tspan></text>
<path d="M133.2,340.0V338.4H152.9V340.0" stroke="#666" stroke-width="0.65" fill="none"/>
<text x="131.9" y="337.1" font-size="5.8" fill="#555">7.3 × 10<tspan dx="0.4" dy="-2.8" font-size="3.8">−10</tspan></text>
<path d="M144.6,347.20000000000005V345.6H153.8V347.20000000000005" stroke="#666" stroke-width="0.65" fill="none"/>
<text x="131.9" y="345.4" font-size="5.8" fill="#555">9.3 × 10<tspan dx="0.4" dy="-2.8" font-size="3.8">−5</tspan></text>
<path d="M188.1,304.90000000000003V303.3H221.6V304.90000000000003" stroke="#666" stroke-width="0.65" fill="none"/>
<text x="193.1" y="301.8" font-size="5.8" fill="#555">1.6 × 10<tspan dx="0.4" dy="-2.8" font-size="3.8">−5</tspan></text>
<path d="M202.3,311.0V309.4H222.5V311.0" stroke="#666" stroke-width="0.65" fill="none"/>
<text x="203.6" y="308.8" font-size="5.8" fill="#555">1.1 × 10<tspan dx="0.4" dy="-2.8" font-size="3.8">−4</tspan></text>
<path d="M214,319.8V318.2H223.4V319.8" stroke="#666" stroke-width="0.65" fill="none"/>
<text x="201" y="316.3" font-size="5.8" fill="#555">3.3 × 10<tspan dx="0.4" dy="-2.8" font-size="3.8">−3</tspan></text>
<path d="M294.6,454.0V287.4H372.6V454.0" fill="none" stroke="#9a9a9a" stroke-width="0.9"/>
<path d="M294.20000000000005,454.0H373.0" fill="none" stroke="#9a9a9a" stroke-width="0.9"/>
<text x="291.2" y="456.6" font-size="7.7" text-anchor="end" fill="#3d3d3d">0</text>
<line x1="294.8" y1="428.1" x2="297.40000000000003" y2="428.1" stroke="#aaa" stroke-width="0.6"/>
<text x="291.2" y="430.7" font-size="7.7" text-anchor="end" fill="#3d3d3d">0.05</text>
<line x1="294.8" y1="402.2" x2="297.40000000000003" y2="402.2" stroke="#aaa" stroke-width="0.6"/>
<text x="291.2" y="404.8" font-size="7.7" text-anchor="end" fill="#3d3d3d">0.1</text>
<line x1="294.8" y1="376.3" x2="297.40000000000003" y2="376.3" stroke="#aaa" stroke-width="0.6"/>
<text x="291.2" y="378.9" font-size="7.7" text-anchor="end" fill="#3d3d3d">0.15</text>
<line x1="294.8" y1="350.4" x2="297.40000000000003" y2="350.4" stroke="#aaa" stroke-width="0.6"/>
<text x="291.2" y="353.0" font-size="7.7" text-anchor="end" fill="#3d3d3d">0.2</text>
<line x1="294.8" y1="324.5" x2="297.40000000000003" y2="324.5" stroke="#aaa" stroke-width="0.6"/>
<text x="291.2" y="327.1" font-size="7.7" text-anchor="end" fill="#3d3d3d">0.25</text>
<line x1="294.8" y1="298.6" x2="297.40000000000003" y2="298.6" stroke="#aaa" stroke-width="0.6"/>
<text x="291.2" y="301.2" font-size="7.7" text-anchor="end" fill="#3d3d3d">0.3</text>
<rect x="307.25" y="406.91" width="10.50" height="47.09" fill="#eeefef" stroke="#555" stroke-width="0.7"/>
<path d="M312.50,406.14V407.69M311.20,406.14H313.80M311.20,407.69H313.80" stroke="#222" stroke-width="0.9" fill="none"/>
<rect x="321.15" y="394.43" width="10.50" height="59.57" fill="#d6d6d8" stroke="#555" stroke-width="0.7"/>
<path d="M326.40,387.70V401.16M325.10,387.70H327.70M325.10,401.16H327.70" stroke="#222" stroke-width="0.9" fill="none"/>
<rect x="335.05" y="374.23" width="10.50" height="79.77" fill="#8d8e92" stroke="#555" stroke-width="0.7"/>
<path d="M340.30,366.46V382.00M339.00,366.46H341.60M339.00,382.00H341.60" stroke="#222" stroke-width="0.9" fill="none"/>
<rect x="348.95" y="334.08" width="10.50" height="119.92" fill="#ebab2e" stroke="#555" stroke-width="0.7"/>
<path d="M354.20,322.69V345.48M352.90,322.69H355.50M352.90,345.48H355.50" stroke="#222" stroke-width="0.9" fill="none"/>
<text x="333.5" y="465.0" font-size="9" text-anchor="middle" fill="#333333">CD8 T</text>
<text x="267.2" y="371.6" font-size="9.1" text-anchor="middle" fill="#333333" transform="rotate(-90 267.2 371.6)" textLength="101" lengthAdjust="spacingAndGlyphs">Precision of circuit genes</text>
<text x="331.75" y="253.7" font-size="8.4" text-anchor="middle" fill="#333333" textLength="68.5" lengthAdjust="spacingAndGlyphs">Severe COVID-19</text>
<rect x="294.3" y="260.6" width="13.9" height="4.9" fill="#eeefef" stroke="#666" stroke-width="0.6"/>
<text x="311.8" y="265.20000000000005" font-size="5.9" fill="#444">DAS</text>
<rect x="294.3" y="267.5" width="13.9" height="4.9" fill="#d6d6d8" stroke="#666" stroke-width="0.6"/>
<text x="311.8" y="272.1" font-size="5.9" fill="#444">DAS (TAD with DEG)</text>
<rect x="294.3" y="274" width="13.9" height="4.9" fill="#8d8e92" stroke="#666" stroke-width="0.6"/>
<text x="311.8" y="278.6" font-size="5.9" fill="#444">DAS (nearest to DEG</text>
<rect x="294.3" y="280.6" width="13.9" height="4.9" fill="#ebab2e" stroke="#666" stroke-width="0.6"/>
<text x="311.8" y="285.20000000000005" font-size="5.9" fill="#444">Circuit sites</text>
<path d="M316.9,309.90000000000003V308.3H350V309.90000000000003" stroke="#666" stroke-width="0.65" fill="none"/>
<text x="323" y="307.6" font-size="5.8" fill="#555">1.6 × 10<tspan dx="0.4" dy="-2.8" font-size="3.8">−4</tspan></text>
<path d="M331.2,316.0V314.4H350.6V316.0" stroke="#666" stroke-width="0.65" fill="none"/>
<text x="330.7" y="313.9" font-size="5.8" fill="#555">2.3 × 10<tspan dx="0.4" dy="-2.8" font-size="3.8">−4</tspan></text>
<path d="M342.4,324.0V322.4H351.6V324.0" stroke="#666" stroke-width="0.65" fill="none"/>
<text x="330.1" y="321.5" font-size="5.8" fill="#555">3.3 × 10<tspan dx="0.4" dy="-2.8" font-size="3.8">−3</tspan></text>
<path d="M417.2,454.5V288.1H528.7V454.5" fill="none" stroke="#d2d2d2" stroke-width="1.4"/>
<path d="M416.8,454.5H529.1" fill="none" stroke="#999" stroke-width="0.9"/>
<text x="413.3" y="457.1" font-size="7.7" text-anchor="end" fill="#3d3d3d">0</text>
<line x1="417.2" y1="424.1" x2="419.8" y2="424.1" stroke="#aaa" stroke-width="0.6"/>
<text x="413.3" y="426.7" font-size="7.7" text-anchor="end" fill="#3d3d3d">0.1</text>
<line x1="417.2" y1="393.7" x2="419.8" y2="393.7" stroke="#aaa" stroke-width="0.6"/>
<text x="413.3" y="396.3" font-size="7.7" text-anchor="end" fill="#3d3d3d">0.2</text>
<line x1="417.2" y1="363.3" x2="419.8" y2="363.3" stroke="#aaa" stroke-width="0.6"/>
<text x="413.3" y="365.9" font-size="7.7" text-anchor="end" fill="#3d3d3d">0.3</text>
<line x1="417.2" y1="332.9" x2="419.8" y2="332.9" stroke="#aaa" stroke-width="0.6"/>
<text x="413.3" y="335.5" font-size="7.7" text-anchor="end" fill="#3d3d3d">0.4</text>
<line x1="417.2" y1="302.5" x2="419.8" y2="302.5" stroke="#aaa" stroke-width="0.6"/>
<text x="413.3" y="305.1" font-size="7.7" text-anchor="end" fill="#3d3d3d">0.5</text>
<rect x="428.75" y="349.92" width="9.90" height="104.58" fill="#eeefef" stroke="#555" stroke-width="0.7"/>
<path d="M433.70,344.45V355.40M432.40,344.45H435.00M432.40,355.40H435.00" stroke="#222" stroke-width="0.9" fill="none"/>
<rect x="439.35" y="319.52" width="9.90" height="134.98" fill="#a7c5e5" stroke="#555" stroke-width="0.7"/>
<path d="M444.30,311.62V327.43M443.00,311.62H445.60M443.00,327.43H445.60" stroke="#222" stroke-width="0.9" fill="none"/>
<text x="439.0" y="465.3" font-size="9" text-anchor="middle" fill="#333333">CD8 T</text>
<rect x="463.75" y="343.24" width="9.90" height="111.26" fill="#eeefef" stroke="#555" stroke-width="0.7"/>
<path d="M468.70,339.28V347.19M467.40,339.28H470.00M467.40,347.19H470.00" stroke="#222" stroke-width="0.9" fill="none"/>
<rect x="474.35" y="322.87" width="9.90" height="131.63" fill="#a7c5e5" stroke="#555" stroke-width="0.7"/>
<path d="M479.30,315.27V330.47M478.00,315.27H480.60M478.00,330.47H480.60" stroke="#222" stroke-width="0.9" fill="none"/>
<text x="474.0" y="465.3" font-size="9" text-anchor="middle" fill="#333333">Mono</text>
<rect x="498.75" y="380.02" width="9.90" height="74.48" fill="#eeefef" stroke="#555" stroke-width="0.7"/>
<path d="M503.70,372.42V387.62M502.40,372.42H505.00M502.40,387.62H505.00" stroke="#222" stroke-width="0.9" fill="none"/>
<rect x="509.35" y="333.51" width="9.90" height="120.99" fill="#a7c5e5" stroke="#555" stroke-width="0.7"/>
<path d="M514.30,322.87V344.15M513.00,322.87H515.60M513.00,344.15H515.60" stroke="#222" stroke-width="0.9" fill="none"/>
<text x="509.0" y="465.3" font-size="9" text-anchor="middle" fill="#333333">NK</text>
<path d="M434.4,308.0V306.4H444.2V308.0" stroke="#666" stroke-width="0.65" fill="none"/>
<path d="M470,308.0V306.4H479.3V308.0" stroke="#666" stroke-width="0.65" fill="none"/>
<path d="M503.8,308.0V306.4H513.7V308.0" stroke="#666" stroke-width="0.65" fill="none"/>
<text x="427" y="304.2" font-size="5.2" fill="#555">2.5 × 10<tspan dx="0.4" dy="-2.6" font-size="3.8">−7</tspan></text>
<text x="462.5" y="304.2" font-size="5.2" fill="#555">1.7 × 10<tspan dx="0.4" dy="-2.6" font-size="3.8">−7</tspan></text>
<text x="496.5" y="304.2" font-size="5.2" fill="#555">1.3 × 10<tspan dx="0.4" dy="-2.6" font-size="3.8">−7</tspan></text>
<text x="393.8" y="370.2" font-size="9.1" text-anchor="middle" fill="#333333" transform="rotate(-90 393.8 370.2)" textLength="137" lengthAdjust="spacingAndGlyphs">Precision of circuit chromatin sites</text>
<text x="475.45" y="253.7" font-size="8.4" text-anchor="middle" fill="#333333" textLength="57.3" lengthAdjust="spacingAndGlyphs">Mild COVID-19</text>
<rect x="426.4" y="279.6" width="13.4" height="5.8" fill="#eeefef" stroke="#666" stroke-width="0.6"/>
<text x="443.0" y="284.6" font-size="6.1" fill="#444">DEG</text>
<rect x="465.2" y="279.6" width="13.4" height="5.8" fill="#a7c5e5" stroke="#666" stroke-width="0.6"/>
<text x="481.8" y="284.6" font-size="6.1" fill="#444">Circuit genes</text>
<path d="M573.3,454.2V289.2H684.6V454.2" fill="none" stroke="#d2d2d2" stroke-width="1.4"/>
<path d="M572.9,454.2H685.0" fill="none" stroke="#999" stroke-width="0.9"/>
<text x="569.5" y="456.8" font-size="7.7" text-anchor="end" fill="#3d3d3d">0</text>
<line x1="573.4" y1="428.7" x2="576.0" y2="428.7" stroke="#aaa" stroke-width="0.6"/>
<text x="569.5" y="431.3" font-size="7.7" text-anchor="end" fill="#3d3d3d">0.1</text>
<line x1="573.4" y1="403.2" x2="576.0" y2="403.2" stroke="#aaa" stroke-width="0.6"/>
<text x="569.5" y="405.8" font-size="7.7" text-anchor="end" fill="#3d3d3d">0.2</text>
<line x1="573.4" y1="377.7" x2="576.0" y2="377.7" stroke="#aaa" stroke-width="0.6"/>
<text x="569.5" y="380.3" font-size="7.7" text-anchor="end" fill="#3d3d3d">0.3</text>
<line x1="573.4" y1="352.2" x2="576.0" y2="352.2" stroke="#aaa" stroke-width="0.6"/>
<text x="569.5" y="354.8" font-size="7.7" text-anchor="end" fill="#3d3d3d">0.4</text>
<line x1="573.4" y1="326.7" x2="576.0" y2="326.7" stroke="#aaa" stroke-width="0.6"/>
<text x="569.5" y="329.3" font-size="7.7" text-anchor="end" fill="#3d3d3d">0.5</text>
<line x1="573.4" y1="301.2" x2="576.0" y2="301.2" stroke="#aaa" stroke-width="0.6"/>
<text x="569.5" y="303.8" font-size="7.7" text-anchor="end" fill="#3d3d3d">0.6</text>
<rect x="584.65" y="397.59" width="9.90" height="56.61" fill="#e4e5e8" stroke="#555" stroke-width="0.7"/>
<path d="M589.60,393.25V401.92M588.30,393.25H590.90M588.30,401.92H590.90" stroke="#222" stroke-width="0.9" fill="none"/>
<rect x="595.25" y="349.65" width="9.90" height="104.55" fill="#ebab2e" stroke="#555" stroke-width="0.7"/>
<path d="M600.20,341.23V358.06M598.90,341.23H601.50M598.90,358.06H601.50" stroke="#222" stroke-width="0.9" fill="none"/>
<text x="594.9" y="465.3" font-size="9" text-anchor="middle" fill="#333333">CD8 T</text>
<rect x="619.65" y="364.44" width="9.90" height="89.76" fill="#e4e5e8" stroke="#555" stroke-width="0.7"/>
<path d="M624.60,360.62V368.26M623.30,360.62H625.90M623.30,368.26H625.90" stroke="#222" stroke-width="0.9" fill="none"/>
<rect x="630.25" y="322.37" width="9.90" height="131.83" fill="#ebab2e" stroke="#555" stroke-width="0.7"/>
<path d="M635.20,313.95V330.78M633.90,313.95H636.50M633.90,330.78H636.50" stroke="#222" stroke-width="0.9" fill="none"/>
<text x="629.9" y="465.3" font-size="9" text-anchor="middle" fill="#333333">Mono</text>
<rect x="654.65" y="362.40" width="9.90" height="91.80" fill="#e4e5e8" stroke="#555" stroke-width="0.7"/>
<path d="M659.60,360.87V363.93M658.30,360.87H660.90M658.30,363.93H660.90" stroke="#222" stroke-width="0.9" fill="none"/>
<rect x="665.25" y="315.22" width="9.90" height="138.98" fill="#ebab2e" stroke="#555" stroke-width="0.7"/>
<path d="M670.20,308.34V322.11M668.90,308.34H671.50M668.90,322.11H671.50" stroke="#222" stroke-width="0.9" fill="none"/>
<text x="664.9" y="465.3" font-size="9" text-anchor="middle" fill="#333333">NK</text>
<path d="M590.2,307.0V305.4H599.9V307.0" stroke="#666" stroke-width="0.65" fill="none"/>
<path d="M626.2,307.0V305.4H635.6V307.0" stroke="#666" stroke-width="0.65" fill="none"/>
<path d="M659.1,307.0V305.4H668.3V307.0" stroke="#666" stroke-width="0.65" fill="none"/>
<text x="582.9" y="303.2" font-size="5.2" fill="#555">1.8 × 10<tspan dx="0.4" dy="-2.6" font-size="3.8">−4</tspan></text>
<text x="618.1" y="303.2" font-size="5.2" fill="#555">3.3 × 10<tspan dx="0.4" dy="-2.6" font-size="3.8">−4</tspan></text>
<text x="651.5" y="303.2" font-size="5.2" fill="#555">1.6 × 10<tspan dx="0.4" dy="-2.6" font-size="3.8">−3</tspan></text>
<text x="549.5" y="369.8" font-size="9.1" text-anchor="middle" fill="#333333" transform="rotate(-90 549.5 369.8)" textLength="100.6" lengthAdjust="spacingAndGlyphs">Precision of circuit genes</text>
<text x="630.55" y="253.7" font-size="8.4" text-anchor="middle" fill="#333333" textLength="68.3" lengthAdjust="spacingAndGlyphs">Severe COVID-19</text>
<rect x="583" y="279.6" width="13.4" height="5.9" fill="#e4e5e8" stroke="#666" stroke-width="0.6"/>
<text x="599.8" y="284.6" font-size="6.1" fill="#444">DEG</text>
<rect x="622.3" y="279.6" width="13.4" height="5.9" fill="#ebab2e" stroke="#666" stroke-width="0.6"/>
<text x="639.0999999999999" y="284.6" font-size="6.1" fill="#444">Circuit genes</text>
</svg>
</body></html>
